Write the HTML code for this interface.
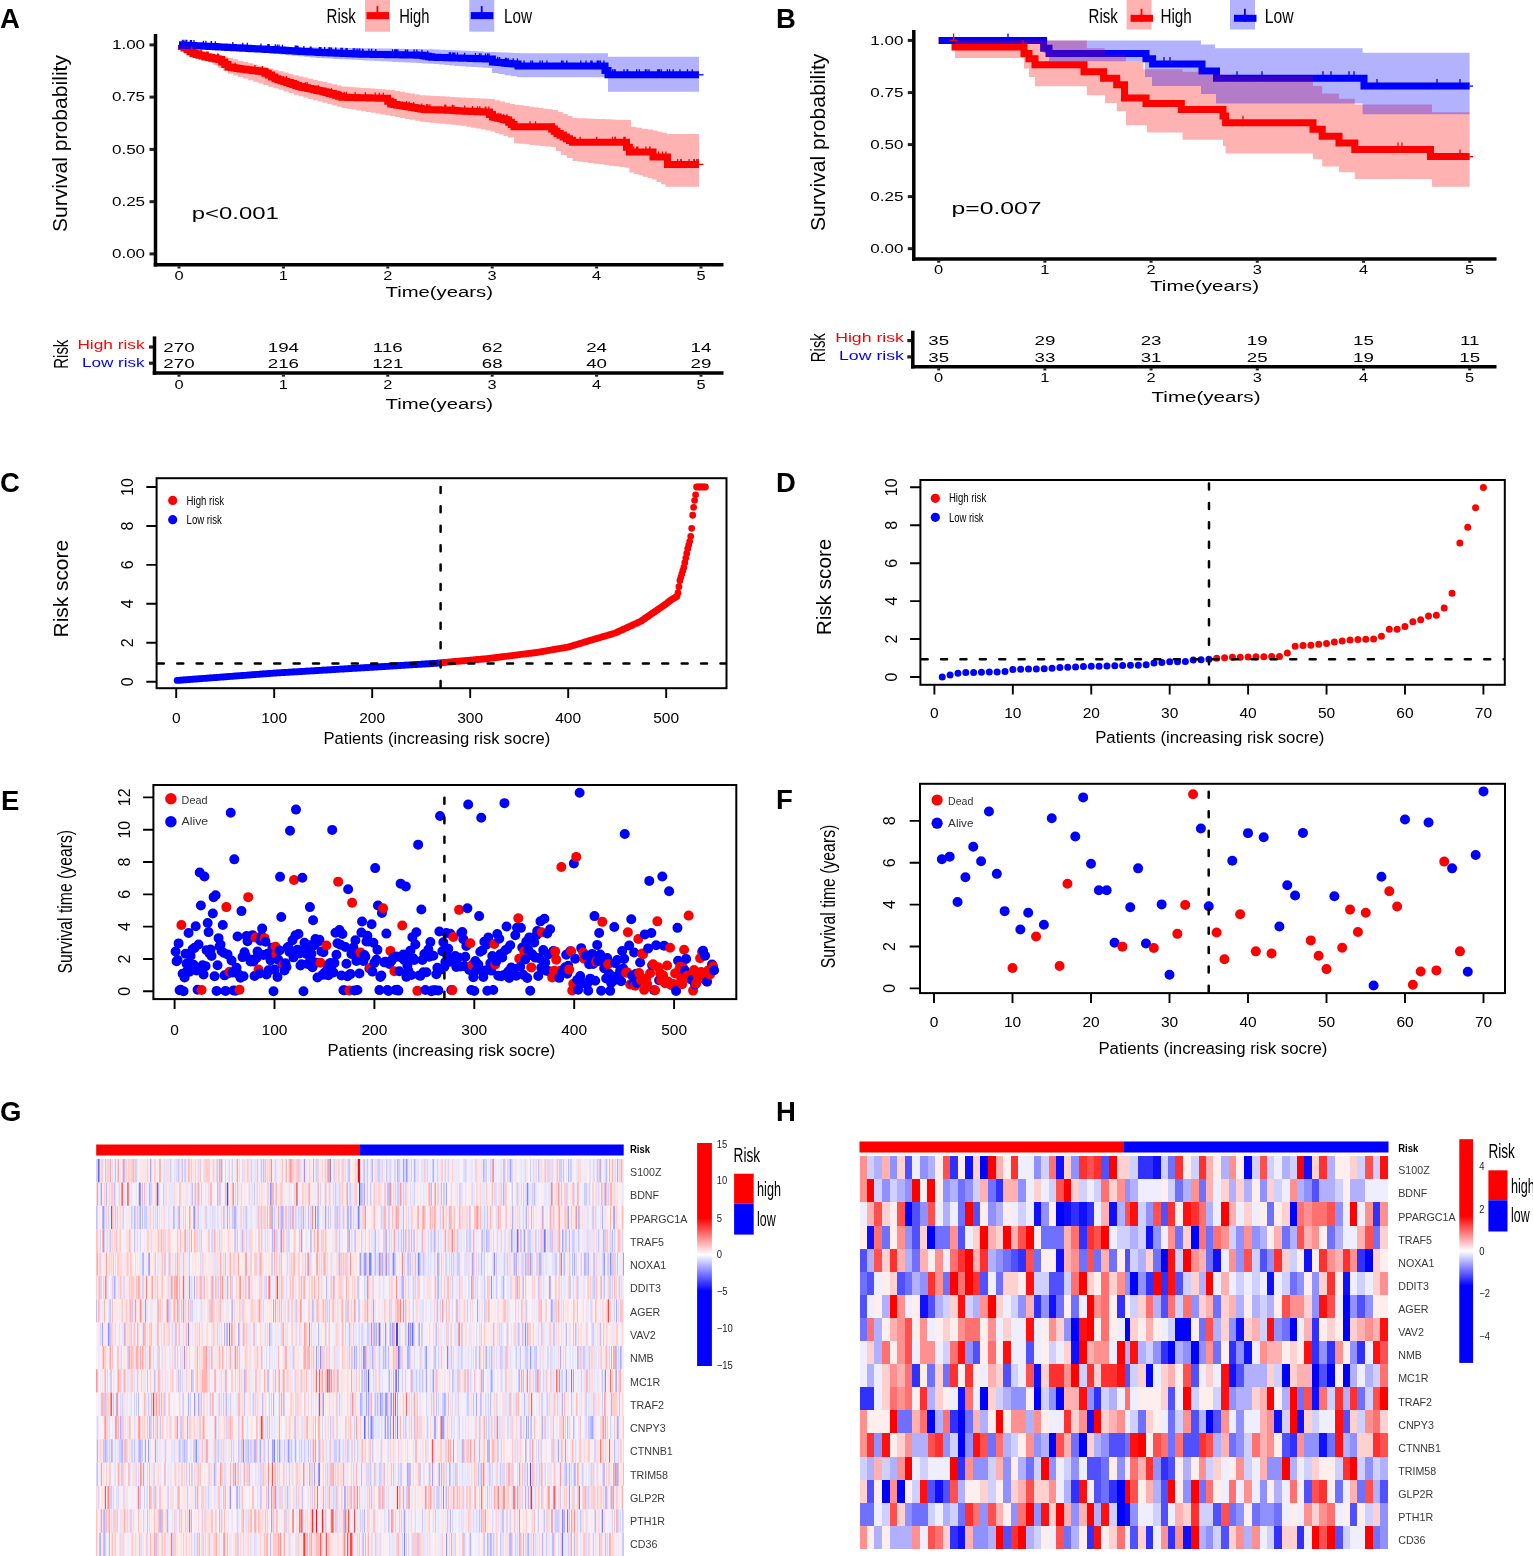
<!DOCTYPE html>
<html lang="en"><head><meta charset="utf-8"><title>Figure</title>
<style>html,body{margin:0;padding:0;background:#fff}svg{display:block}text{font-family:"Liberation Sans",sans-serif}</style>
</head><body>
<svg width="1533" height="1556" viewBox="0 0 1533 1556" font-family='"Liberation Sans", sans-serif'>
<text font-weight="bold" font-size="27.5" x="0" y="27.6">A</text>
<text textLength="29.3" lengthAdjust="spacingAndGlyphs" font-size="19.5" x="326.5" y="22.5">Risk</text>
<rect x="365" y="0" width="25" height="31.7" fill="#ff0000" fill-opacity="0.3"/>
<rect x="366.5" y="12.1" width="22.5" height="7" fill="#ff0000" />
<rect x="376.5" y="6.1" width="1.8" height="13" fill="#ff0000" />
<text textLength="30.3" lengthAdjust="spacingAndGlyphs" font-size="19.5" x="399.2" y="22.5">High</text>
<rect x="469.3" y="0" width="25" height="31.7" fill="#0000ff" fill-opacity="0.3"/>
<rect x="470.8" y="12.1" width="22.5" height="7" fill="#0000ff" />
<rect x="480.8" y="6.1" width="1.8" height="13" fill="#0000ff" />
<text textLength="28" lengthAdjust="spacingAndGlyphs" font-size="19.5" x="504" y="22.5">Low</text>
<path d="M179 45L181.5 45L181.5 46.5L184 46.5L184 48L187 48L187 49.83L190 49.83L190 51.67L193 51.67L193 53.5L196 53.5L196 54.38L199 54.38L199 55.25L202 55.25L202 56.12L205 56.12L205 57L208.38 57L208.38 57.62L211.75 57.62L211.75 58.25L215.12 58.25L215.12 58.88L218.5 58.88L218.5 59.5L221.67 59.5L221.67 62L224.83 62L224.83 64.5L228 64.5L228 67L231 67L231 67.5L234 67.5L234 68L237 68L237 68.5L240 68.5L240 69L243.07 69L243.07 69.36L246.14 69.36L246.14 69.71L249.21 69.71L249.21 70.07L252.29 70.07L252.29 70.43L255.36 70.43L255.36 70.79L258.43 70.79L258.43 71.14L261.5 71.14L261.5 71.5L264.88 71.5L264.88 73.3L268.25 73.3L268.25 75.1L271.62 75.1L271.62 76.9L275 76.9L275 78.7L277.96 78.7L277.96 79.67L280.93 79.67L280.93 80.65L283.89 80.65L283.89 81.62L286.85 81.62L286.85 82.6L289.81 82.6L289.81 83.58L292.77 83.58L292.77 84.55L295.74 84.55L295.74 85.53L298.7 85.53L298.7 86.5L301.73 86.5L301.73 87.16L304.77 87.16L304.77 87.81L307.8 87.81L307.8 88.47L310.83 88.47L310.83 89.12L313.87 89.12L313.87 89.78L316.9 89.78L316.9 90.43L319.93 90.43L319.93 91.09L322.97 91.09L322.97 91.74L326 91.74L326 92.4L329.16 92.4L329.16 93.38L332.32 93.38L332.32 94.36L335.48 94.36L335.48 95.34L338.64 95.34L338.64 96.32L341.8 96.32L341.8 97.3L344.87 97.3L344.87 97.37L347.94 97.37L347.94 97.44L351.01 97.44L351.01 97.51L354.09 97.51L354.09 97.59L357.16 97.59L357.16 97.66L360.23 97.66L360.23 97.73L363.3 97.73L363.3 97.8L366.37 97.8L366.37 97.87L369.44 97.87L369.44 97.94L372.51 97.94L372.51 98.01L375.59 98.01L375.59 98.09L378.66 98.09L378.66 98.16L381.73 98.16L381.73 98.23L384.8 98.23L384.8 98.3L387.75 98.3L387.75 101.15L390.7 101.15L390.7 104L393.73 104L393.73 104.51L396.75 104.51L396.75 105.02L399.78 105.02L399.78 105.53L402.81 105.53L402.81 106.04L405.84 106.04L405.84 106.55L408.86 106.55L408.86 107.05L411.89 107.05L411.89 107.56L414.92 107.56L414.92 108.07L417.95 108.07L417.95 108.58L420.97 108.58L420.97 109.09L424 109.09L424 109.6L426.89 109.6L426.89 109.67L429.78 109.67L429.78 109.73L432.67 109.73L432.67 109.8L435.56 109.8L435.56 109.87L438.44 109.87L438.44 109.93L441.33 109.93L441.33 110L444.22 110L444.22 110.07L447.11 110.07L447.11 110.13L450 110.13L450 110.2L453 110.2L453 110.47L456 110.47L456 110.73L459 110.73L459 111L462.06 111L462.06 111.11L465.11 111.11L465.11 111.22L468.17 111.22L468.17 111.33L471.22 111.33L471.22 111.44L474.28 111.44L474.28 111.56L477.33 111.56L477.33 111.67L480.39 111.67L480.39 111.78L483.44 111.78L483.44 111.89L486.5 111.89L486.5 112L489.45 112L489.45 114.5L492.4 114.5L492.4 117L495.12 117L495.12 117.6L497.84 117.6L497.84 118.2L500.56 118.2L500.56 118.8L503.28 118.8L503.28 119.4L506 119.4L506 120L508.67 120L508.67 122.23L511.33 122.23L511.33 124.47L514 124.47L514 126.7L549 126.7L549 126.7L551.67 126.7L551.67 128.97L554.33 128.97L554.33 131.23L557 131.23L557 133.5L560.12 133.5L560.12 135.26L563.24 135.26L563.24 137.02L566.36 137.02L566.36 138.78L569.48 138.78L569.48 140.54L572.6 140.54L572.6 142.3L623.5 142.3L623.5 142.3L626.45 142.3L626.45 147.15L629.4 147.15L629.4 152L649 152L649 152L653 152L653 157L664.6 157L664.6 157L667.5 157L667.5 164.4L699 164.4L699 164.4" fill="none" stroke="#ff0000" stroke-width="7" stroke-linejoin="miter"/>
<path d="M179 45L182 45L182 45.14L185 45.14L185 45.29L188 45.29L188 45.43L191 45.43L191 45.57L194 45.57L194 45.71L197 45.71L197 45.86L200 45.86L200 46L203.05 46L203.05 46.15L206.09 46.15L206.09 46.31L209.14 46.31L209.14 46.46L212.18 46.46L212.18 46.62L215.23 46.62L215.23 46.77L218.27 46.77L218.27 46.93L221.32 46.93L221.32 47.08L224.36 47.08L224.36 47.24L227.41 47.24L227.41 47.39L230.45 47.39L230.45 47.55L233.5 47.55L233.5 47.7L236.55 47.7L236.55 47.85L239.59 47.85L239.59 48.01L242.64 48.01L242.64 48.16L245.68 48.16L245.68 48.32L248.73 48.32L248.73 48.47L251.77 48.47L251.77 48.63L254.82 48.63L254.82 48.78L257.86 48.78L257.86 48.94L260.91 48.94L260.91 49.09L263.95 49.09L263.95 49.25L267 49.25L267 49.4L270.06 49.4L270.06 49.58L273.12 49.58L273.12 49.76L276.19 49.76L276.19 49.94L279.25 49.94L279.25 50.12L282.31 50.12L282.31 50.31L285.38 50.31L285.38 50.49L288.44 50.49L288.44 50.67L291.5 50.67L291.5 50.85L294.56 50.85L294.56 51.03L297.62 51.03L297.62 51.21L300.69 51.21L300.69 51.39L303.75 51.39L303.75 51.57L306.81 51.57L306.81 51.76L309.88 51.76L309.88 51.94L312.94 51.94L312.94 52.12L316 52.12L316 52.3L319 52.3L319 52.43L322 52.43L322 52.55L325 52.55L325 52.68L328 52.68L328 52.81L331 52.81L331 52.93L334 52.93L334 53.06L337 53.06L337 53.19L340 53.19L340 53.31L343 53.31L343 53.44L346 53.44L346 53.57L349 53.57L349 53.69L352 53.69L352 53.82L355 53.82L355 53.95L358 53.95L358 54.07L361 54.07L361 54.2L363.95 54.2L363.95 54.25L366.9 54.25L366.9 54.3L369.85 54.3L369.85 54.35L372.8 54.35L372.8 54.4L375.75 54.4L375.75 54.45L378.7 54.45L378.7 54.5L381.65 54.5L381.65 54.55L384.6 54.55L384.6 54.6L387.55 54.6L387.55 54.65L390.5 54.65L390.5 54.7L393.45 54.7L393.45 54.75L396.4 54.75L396.4 54.8L399.35 54.8L399.35 54.85L402.3 54.85L402.3 54.9L405.25 54.9L405.25 54.95L408.2 54.95L408.2 55L411.15 55L411.15 55.05L414.1 55.05L414.1 55.1L417.05 55.1L417.05 55.15L420 55.15L420 55.2L422.93 55.2L422.93 55.7L425.85 55.7L425.85 56.2L428.77 56.2L428.77 56.7L431.7 56.7L431.7 57.2L434.61 57.2L434.61 57.3L437.52 57.3L437.52 57.4L440.44 57.4L440.44 57.5L443.35 57.5L443.35 57.6L446.26 57.6L446.26 57.7L449.18 57.7L449.18 57.8L452.09 57.8L452.09 57.9L455 57.9L455 58L458.05 58L458.05 58.09L461.09 58.09L461.09 58.18L464.14 58.18L464.14 58.27L467.18 58.27L467.18 58.36L470.23 58.36L470.23 58.45L473.27 58.45L473.27 58.55L476.32 58.55L476.32 58.64L479.36 58.64L479.36 58.73L482.41 58.73L482.41 58.82L485.45 58.82L485.45 58.91L488.5 58.91L488.5 59L492.4 59L492.4 62L495.49 62L495.49 62.29L498.57 62.29L498.57 62.57L501.66 62.57L501.66 62.86L504.74 62.86L504.74 63.14L507.83 63.14L507.83 63.43L510.91 63.43L510.91 63.71L514 63.71L514 64L518 64L518 66L602 66L602 66L605 66L605 70.4L608 70.4L608 74.8L699 74.8L699 74.8" fill="none" stroke="#0000ff" stroke-width="7" stroke-linejoin="miter"/>
<path d="M191.77 46.17v5.5M200.94 49.75v5.5M201.13 49.75v5.5M206.81 51.5v5.5M207.71 51.5v5.5M208.1 51.5v5.5M217.62 53.38v5.5M217.91 53.38v5.5M218.68 54v5.5M224.56 56.5v5.5M230.5 61.5v5.5M235.09 62.5v5.5M254.89 64.93v5.5M262.42 66v5.5M262.49 66v5.5M265.29 67.8v5.5M268.83 69.6v5.5M286.46 76.12v5.5M293.52 79.05v5.5M296.53 80.03v5.5M305.45 82.31v5.5M307.14 82.31v5.5M307.31 82.31v5.5M318.31 84.93v5.5M331.47 87.88v5.5M336.06 89.84v5.5M339.73 90.82v5.5M339.76 90.82v5.5M339.85 90.82v5.5M344.17 91.8v5.5M346.31 91.87v5.5M355.11 92.09v5.5M365.37 92.3v5.5M375.16 92.51v5.5M379.18 92.66v5.5M383.34 92.73v5.5M388.01 95.65v5.5M394.68 99.01v5.5M395.98 99.01v5.5M406.63 101.05v5.5M409.19 101.55v5.5M413.54 102.06v5.5M421.65 103.59v5.5M426.72 104.1v5.5M427.99 104.17v5.5M429.85 104.23v5.5M444.79 104.57v5.5M445.61 104.57v5.5M445.72 104.57v5.5M452.32 104.7v5.5M453.92 104.97v5.5M464.73 105.61v5.5M472.46 105.94v5.5M477.52 106.17v5.5M479.8 106.17v5.5M485.31 106.39v5.5M485.73 106.39v5.5M488.83 106.5v5.5M491.16 109v5.5M493.28 111.5v5.5M495.41 112.1v5.5M498.78 112.7v5.5M500.87 113.3v5.5M503.74 113.9v5.5M506.62 114.5v5.5M507.1 114.5v5.5M511.32 116.73v5.5M513.48 118.97v5.5M515.96 121.2v5.5M530.03 121.2v5.5M530.11 121.2v5.5M535.54 121.2v5.5M551.9 123.47v5.5M552.06 123.47v5.5M554.28 123.47v5.5M554.48 125.73v5.5M555.24 125.73v5.5M566 131.52v5.5M574.73 136.8v5.5M580.16 136.8v5.5M596.51 136.8v5.5M596.67 136.8v5.5M612.45 136.8v5.5M614.94 136.8v5.5M615.46 136.8v5.5M623.93 136.8v5.5M625.19 136.8v5.5M627.37 141.65v5.5M629.88 146.5v5.5M631.04 146.5v5.5M631.18 146.5v5.5M633.6 146.5v5.5M636.71 146.5v5.5M636.74 146.5v5.5M637.79 146.5v5.5M645.88 146.5v5.5M649.76 146.5v5.5M650.01 146.5v5.5M658.44 151.5v5.5M662.48 151.5v5.5M665.89 151.5v5.5M668.48 158.9v5.5M677.75 158.9v5.5M680.82 158.9v5.5M681.26 158.9v5.5M689.05 158.9v5.5M693.76 158.9v5.5M694.37 158.9v5.5M696.76 158.9v5.5M698.23 158.9v5.5" stroke="#ff0000" stroke-width="1.3" fill="none"/>
<path d="M182.42 39.64v5.5M183.89 39.64v5.5M185.95 39.79v5.5M186.82 39.79v5.5M190.41 39.93v5.5M191.51 40.07v5.5M193.97 40.07v5.5M203.39 40.65v5.5M205.91 40.65v5.5M211.18 40.96v5.5M211.44 40.96v5.5M215.33 41.27v5.5M232.86 42.05v5.5M242.76 42.66v5.5M247.31 42.82v5.5M260.96 43.59v5.5M267.86 43.9v5.5M268.91 43.9v5.5M269.18 43.9v5.5M275.28 44.26v5.5M277.26 44.44v5.5M279.03 44.44v5.5M282.42 44.81v5.5M295.27 45.53v5.5M295.5 45.53v5.5M296.79 45.53v5.5M298.06 45.71v5.5M303.88 46.07v5.5M310.33 46.44v5.5M311.03 46.44v5.5M319.4 46.93v5.5M320.74 46.93v5.5M320.86 46.93v5.5M324.59 47.05v5.5M328.96 47.31v5.5M330.01 47.31v5.5M331.52 47.43v5.5M335.64 47.56v5.5M335.91 47.56v5.5M340.9 47.81v5.5M342.28 47.81v5.5M346.09 48.07v5.5M347.1 48.07v5.5M353.22 48.32v5.5M354.75 48.32v5.5M357.01 48.45v5.5M357.16 48.45v5.5M359.2 48.57v5.5M359.76 48.57v5.5M362.61 48.7v5.5M362.99 48.7v5.5M368.89 48.8v5.5M371.59 48.85v5.5M375.75 48.9v5.5M392.54 49.2v5.5M394.74 49.25v5.5M395.49 49.25v5.5M396.37 49.25v5.5M397.86 49.3v5.5M405.43 49.45v5.5M405.89 49.45v5.5M407.55 49.45v5.5M414.12 49.6v5.5M416.83 49.6v5.5M421.98 49.7v5.5M427.67 50.7v5.5M449.37 52.3v5.5M450.47 52.3v5.5M452.46 52.4v5.5M453.65 52.4v5.5M454.88 52.4v5.5M457.48 52.5v5.5M464.64 52.77v5.5M475.44 53.05v5.5M479.44 53.23v5.5M481 53.23v5.5M485.52 53.41v5.5M487.6 53.41v5.5M489.13 53.5v5.5M497.71 56.79v5.5M499.6 57.07v5.5M505.59 57.64v5.5M506.25 57.64v5.5M508.1 57.93v5.5M513.17 58.21v5.5M517.47 58.5v5.5M524.04 60.5v5.5M524.09 60.5v5.5M530.85 60.5v5.5M532.55 60.5v5.5M540.03 60.5v5.5M542.3 60.5v5.5M546.91 60.5v5.5M561.55 60.5v5.5M563.04 60.5v5.5M566.81 60.5v5.5M566.93 60.5v5.5M580.81 60.5v5.5M586.03 60.5v5.5M590.88 60.5v5.5M592.01 60.5v5.5M597.18 60.5v5.5M598.34 60.5v5.5M598.45 60.5v5.5M598.72 60.5v5.5M598.95 60.5v5.5M600.49 60.5v5.5M603.92 60.5v5.5M607.4 64.9v5.5M612.61 69.3v5.5M614.25 69.3v5.5M615.17 69.3v5.5M624.02 69.3v5.5M627.2 69.3v5.5M627.67 69.3v5.5M636.71 69.3v5.5M639.26 69.3v5.5M645.32 69.3v5.5M646.93 69.3v5.5M648.97 69.3v5.5M657.8 69.3v5.5M658.4 69.3v5.5M659.48 69.3v5.5M661.31 69.3v5.5M667.36 69.3v5.5M669.56 69.3v5.5M673.13 69.3v5.5M679.96 69.3v5.5M687.48 69.3v5.5M692.21 69.3v5.5" stroke="#0000ff" stroke-width="1.3" fill="none"/>
<path d="M699 164.4L703.5 164.4" stroke="#ff0000" stroke-width="1.3" fill="none" />
<path d="M699 74.8L703.5 74.8" stroke="#0000ff" stroke-width="1.3" fill="none" />
<path d="M179 45L183.9 45L183.9 46.3L188.8 46.3L188.8 47.6L193.7 47.6L193.7 48.9L198.6 48.9L198.6 50.2L203.5 50.2L203.5 51.5L208.4 51.5L208.4 52.8L213.3 52.8L213.3 54.1L218.2 54.1L218.2 55.4L223.1 55.4L223.1 56.7L228 56.7L228 58L233.05 58L233.05 59.32L238.1 59.32L238.1 60.64L243.15 60.64L243.15 61.96L248.2 61.96L248.2 63.29L253.25 63.29L253.25 64.61L258.3 64.61L258.3 65.93L263.35 65.93L263.35 67.25L268.4 67.25L268.4 68.57L273.45 68.57L273.45 69.89L278.5 69.89L278.5 71.21L283.55 71.21L283.55 72.54L288.6 72.54L288.6 73.86L293.65 73.86L293.65 75.18L298.7 75.18L298.7 76.5L303.49 76.5L303.49 77.61L308.28 77.61L308.28 78.72L313.07 78.72L313.07 79.83L317.86 79.83L317.86 80.94L322.64 80.94L322.64 82.06L327.43 82.06L327.43 83.17L332.22 83.17L332.22 84.28L337.01 84.28L337.01 85.39L341.8 85.39L341.8 86.5L346.62 86.5L346.62 86.85L351.44 86.85L351.44 87.2L356.26 87.2L356.26 87.55L361.08 87.55L361.08 87.9L365.9 87.9L365.9 88.25L370.72 88.25L370.72 88.6L375.54 88.6L375.54 88.95L380.36 88.95L380.36 89.3L385.18 89.3L385.18 89.65L390 89.65L390 90L395 90L395 90.88L400 90.88L400 91.77L405 91.77L405 92.65L410 92.65L410 93.53L415 93.53L415 94.42L420 94.42L420 95.3L425 95.3L425 95.56L430 95.56L430 95.83L435 95.83L435 96.09L440 96.09L440 96.36L445 96.36L445 96.62L450 96.62L450 96.89L455 96.89L455 97.15L460 97.15L460 97.41L465 97.41L465 97.68L470 97.68L470 97.94L475 97.94L475 98.21L480 98.21L480 98.47L485 98.47L485 98.74L490 98.74L490 99L495 99L495 100.25L500 100.25L500 101.5L505 101.5L505 102.75L510 102.75L510 104L514.78 104L514.78 104.67L519.56 104.67L519.56 105.33L524.33 105.33L524.33 106L529.11 106L529.11 106.67L533.89 106.67L533.89 107.33L538.67 107.33L538.67 108L543.44 108L543.44 108.67L548.22 108.67L548.22 109.33L553 109.33L553 110L557.9 110L557.9 112L562.8 112L562.8 114L567.7 114L567.7 116L572.6 116L572.6 118L577.41 118L577.41 118.18L582.22 118.18L582.22 118.36L587.03 118.36L587.03 118.55L591.84 118.55L591.84 118.73L596.65 118.73L596.65 118.91L601.45 118.91L601.45 119.09L606.26 119.09L606.26 119.27L611.07 119.27L611.07 119.45L615.88 119.45L615.88 119.64L620.69 119.64L620.69 119.82L625.5 119.82L625.5 120L631 120L631 126.7L636.5 126.7L636.5 127.67L642 127.67L642 128.65L647.5 128.65L647.5 129.62L653 129.62L653 130.6L657.67 130.6L657.67 131.73L662.33 131.73L662.33 132.87L667 132.87L667 134L699 134L699 134L699 186.7L699 186.7L665.6 186.7L665.6 184.3L661.07 184.3L661.07 181.9L656.53 181.9L656.53 179.5L652 179.5L652 178.12L647.48 178.12L647.48 176.74L642.96 176.74L642.96 175.36L638.44 175.36L638.44 173.98L633.92 173.98L633.92 172.6L629.4 172.6L629.4 167.7L624.5 167.7L624.5 167.03L619.31 167.03L619.31 166.36L614.12 166.36L614.12 165.69L608.93 165.69L608.93 165.02L603.74 165.02L603.74 164.35L598.55 164.35L598.55 163.68L593.36 163.68L593.36 163.01L588.17 163.01L588.17 162.34L582.98 162.34L582.98 161.67L577.79 161.67L577.79 161L572.6 161L572.6 158L566.8 158L566.8 155L561 155L561 151L556 151L556 147L551 147L551 146.47L545.71 146.47L545.71 145.94L540.43 145.94L540.43 145.41L535.14 145.41L535.14 144.89L529.86 144.89L529.86 144.36L524.57 144.36L524.57 143.83L519.29 143.83L519.29 143.3L514 143.3L514 137.4L508 137.4L508 135.93L503.62 135.93L503.62 134.45L499.25 134.45L499.25 132.97L494.88 132.97L494.88 131.5L490.5 131.5L490.5 130.53L485.58 130.53L485.58 129.57L480.67 129.57L480.67 128.6L475.75 128.6L475.75 127.63L470.83 127.63L470.83 126.67L465.92 126.67L465.92 125.7L461 125.7L461 125.21L455.88 125.21L455.88 124.72L450.75 124.72L450.75 124.24L445.62 124.24L445.62 123.75L440.5 123.75L440.5 123.26L435.38 123.26L435.38 122.78L430.25 122.78L430.25 122.29L425.12 122.29L425.12 121.8L420 121.8L420 120.83L415 120.83L415 119.87L410 119.87L410 118.9L405 118.9L405 117.93L400 117.93L400 116.97L395 116.97L395 116L390 116L390 115.2L385.18 115.2L385.18 114.4L380.36 114.4L380.36 113.6L375.54 113.6L375.54 112.8L370.72 112.8L370.72 112L365.9 112L365.9 111.2L361.08 111.2L361.08 110.4L356.26 110.4L356.26 109.6L351.44 109.6L351.44 108.8L346.62 108.8L346.62 108L341.8 108L341.8 106.7L337.01 106.7L337.01 105.4L332.22 105.4L332.22 104.1L327.43 104.1L327.43 102.8L322.64 102.8L322.64 101.5L317.86 101.5L317.86 100.2L313.07 100.2L313.07 98.9L308.28 98.9L308.28 97.6L303.49 97.6L303.49 96.3L298.7 96.3L298.7 94.69L293.65 94.69L293.65 93.09L288.6 93.09L288.6 91.48L283.55 91.48L283.55 89.87L278.5 89.87L278.5 88.26L273.45 88.26L273.45 86.66L268.4 86.66L268.4 85.05L263.35 85.05L263.35 83.44L258.3 83.44L258.3 81.84L253.25 81.84L253.25 80.23L248.2 80.23L248.2 78.62L243.15 78.62L243.15 77.01L238.1 77.01L238.1 75.41L233.05 75.41L233.05 73.8L228 73.8L228 70.92L223.1 70.92L223.1 68.04L218.2 68.04L218.2 65.16L213.3 65.16L213.3 62.28L208.4 62.28L208.4 59.4L203.5 59.4L203.5 56.52L198.6 56.52L198.6 53.64L193.7 53.64L193.7 50.76L188.8 50.76L188.8 47.88L183.9 47.88L183.9 45L179 45Z" fill="#ff0000" fill-opacity="0.3"/>
<path d="M179 45L184.96 45L184.96 45.1L190.91 45.1L190.91 45.21L196.87 45.21L196.87 45.31L202.83 45.31L202.83 45.42L208.78 45.42L208.78 45.52L214.74 45.52L214.74 45.63L220.7 45.63L220.7 45.73L226.65 45.73L226.65 45.83L232.61 45.83L232.61 45.94L238.57 45.94L238.57 46.04L244.52 46.04L244.52 46.15L250.48 46.15L250.48 46.25L256.43 46.25L256.43 46.36L262.39 46.36L262.39 46.46L268.35 46.46L268.35 46.57L274.3 46.57L274.3 46.67L280.26 46.67L280.26 46.77L286.22 46.77L286.22 46.88L292.17 46.88L292.17 46.98L298.13 46.98L298.13 47.09L304.09 47.09L304.09 47.19L310.04 47.19L310.04 47.3L316 47.3L316 47.4L321.89 47.4L321.89 47.5L327.78 47.5L327.78 47.6L333.67 47.6L333.67 47.7L339.56 47.7L339.56 47.8L345.45 47.8L345.45 47.9L351.34 47.9L351.34 48L357.23 48L357.23 48.1L363.12 48.1L363.12 48.2L369.01 48.2L369.01 48.3L374.9 48.3L374.9 48.4L380.79 48.4L380.79 48.5L386.68 48.5L386.68 48.6L392.57 48.6L392.57 48.7L398.46 48.7L398.46 48.8L404.35 48.8L404.35 48.9L410.24 48.9L410.24 49L416.13 49L416.13 49.1L422.02 49.1L422.02 49.2L427.91 49.2L427.91 49.3L433.8 49.3L433.8 49.4L439.96 49.4L439.96 49.68L446.11 49.68L446.11 49.96L452.27 49.96L452.27 50.24L458.43 50.24L458.43 50.51L464.59 50.51L464.59 50.79L470.74 50.79L470.74 51.07L476.9 51.07L476.9 51.35L483.06 51.35L483.06 51.63L489.21 51.63L489.21 51.91L495.37 51.91L495.37 52.19L501.53 52.19L501.53 52.46L507.69 52.46L507.69 52.74L513.84 52.74L513.84 53.02L520 53.02L520 53.3L602 53.3L602 53.3L608 53.3L608 56.8L699 56.8L699 56.8L699 91.8L699 91.8L608 91.8L608 77.3L602 77.3L602 77.3L517 77.3L517 76.22L510.75 76.22L510.75 75.15L504.5 75.15L504.5 74.08L498.25 74.08L498.25 73L492 73L492 68L488 68L488 67.67L482.5 67.67L482.5 67.33L477 67.33L477 67L471.5 67L471.5 66.67L466 66.67L466 66.33L460.5 66.33L460.5 66L455 66L455 65.5L449.7 65.5L449.7 65L444.4 65L444.4 64.5L439.1 64.5L439.1 64L433.8 64L433.8 63.7L427.91 63.7L427.91 63.4L422.02 63.4L422.02 63.1L416.13 63.1L416.13 62.8L410.24 62.8L410.24 62.5L404.35 62.5L404.35 62.2L398.46 62.2L398.46 61.9L392.57 61.9L392.57 61.6L386.68 61.6L386.68 61.3L380.79 61.3L380.79 61L374.9 61L374.9 60.7L369.01 60.7L369.01 60.4L363.12 60.4L363.12 60.1L357.23 60.1L357.23 59.8L351.34 59.8L351.34 59.5L345.45 59.5L345.45 59.2L339.56 59.2L339.56 58.9L333.67 58.9L333.67 58.6L327.78 58.6L327.78 58.3L321.89 58.3L321.89 58L316 58L316 57.43L310.04 57.43L310.04 56.87L304.09 56.87L304.09 56.3L298.13 56.3L298.13 55.74L292.17 55.74L292.17 55.17L286.22 55.17L286.22 54.61L280.26 54.61L280.26 54.04L274.3 54.04L274.3 53.48L268.35 53.48L268.35 52.91L262.39 52.91L262.39 52.35L256.43 52.35L256.43 51.78L250.48 51.78L250.48 51.22L244.52 51.22L244.52 50.65L238.57 50.65L238.57 50.09L232.61 50.09L232.61 49.52L226.65 49.52L226.65 48.96L220.7 48.96L220.7 48.39L214.74 48.39L214.74 47.83L208.78 47.83L208.78 47.26L202.83 47.26L202.83 46.7L196.87 46.7L196.87 46.13L190.91 46.13L190.91 45.57L184.96 45.57L184.96 45L179 45Z" fill="#0000ff" fill-opacity="0.3"/>
<path d="M155.5 34L155.5 266.55" stroke="#000" stroke-width="3.5" fill="none" />
<path d="M153.75 264.8L723.5 264.8" stroke="#000" stroke-width="3.5" fill="none" />
<rect x="149.5" y="43.4" width="4.5" height="3" fill="#222" />
<text text-anchor="end" textLength="33.16" lengthAdjust="spacingAndGlyphs" font-size="12" x="145.1" y="49.2">1.00</text>
<rect x="149.5" y="95.6" width="4.5" height="3" fill="#222" />
<text text-anchor="end" textLength="33.16" lengthAdjust="spacingAndGlyphs" font-size="12" x="145.1" y="101.4">0.75</text>
<rect x="149.5" y="147.9" width="4.5" height="3" fill="#222" />
<text text-anchor="end" textLength="33.16" lengthAdjust="spacingAndGlyphs" font-size="12" x="145.1" y="153.7">0.50</text>
<rect x="149.5" y="200.2" width="4.5" height="3" fill="#222" />
<text text-anchor="end" textLength="33.16" lengthAdjust="spacingAndGlyphs" font-size="12" x="145.1" y="206">0.25</text>
<rect x="149.5" y="252.4" width="4.5" height="3" fill="#222" />
<text text-anchor="end" textLength="33.16" lengthAdjust="spacingAndGlyphs" font-size="12" x="145.1" y="258.2">0.00</text>
<rect x="177.5" y="266.3" width="3" height="2.2" fill="#222" />
<text text-anchor="middle" textLength="9.14" lengthAdjust="spacingAndGlyphs" font-size="12" x="179" y="280.3">0</text>
<rect x="281.9" y="266.3" width="3" height="2.2" fill="#222" />
<text text-anchor="middle" textLength="9.14" lengthAdjust="spacingAndGlyphs" font-size="12" x="283.4" y="280.3">1</text>
<rect x="386.3" y="266.3" width="3" height="2.2" fill="#222" />
<text text-anchor="middle" textLength="9.14" lengthAdjust="spacingAndGlyphs" font-size="12" x="387.8" y="280.3">2</text>
<rect x="490.7" y="266.3" width="3" height="2.2" fill="#222" />
<text text-anchor="middle" textLength="9.14" lengthAdjust="spacingAndGlyphs" font-size="12" x="492.2" y="280.3">3</text>
<rect x="595.1" y="266.3" width="3" height="2.2" fill="#222" />
<text text-anchor="middle" textLength="9.14" lengthAdjust="spacingAndGlyphs" font-size="12" x="596.6" y="280.3">4</text>
<rect x="699.5" y="266.3" width="3" height="2.2" fill="#222" />
<text text-anchor="middle" textLength="9.14" lengthAdjust="spacingAndGlyphs" font-size="12" x="701" y="280.3">5</text>
<text textLength="107.5" lengthAdjust="spacingAndGlyphs" font-size="15.4" x="385.5" y="296.8">Time(years)</text>
<text text-anchor="middle" textLength="177" lengthAdjust="spacingAndGlyphs" font-size="20" transform="translate(67.3,143.5) rotate(-90)">Survival probability</text>
<text textLength="87" lengthAdjust="spacingAndGlyphs" font-size="17.4" x="191.8" y="218.7">p&lt;0.001</text>
<path d="M154.5 336.4L154.5 374.75" stroke="#000" stroke-width="3.5" fill="none" />
<path d="M152.75 373L723.5 373" stroke="#000" stroke-width="3.5" fill="none" />
<rect x="149" y="345.4" width="4" height="3.2" fill="#222" />
<text text-anchor="middle" textLength="31.23" lengthAdjust="spacingAndGlyphs" font-size="13" x="179" y="351.6">270</text>
<text text-anchor="middle" textLength="31.23" lengthAdjust="spacingAndGlyphs" font-size="13" x="283.4" y="351.6">194</text>
<text text-anchor="middle" textLength="29.84" lengthAdjust="spacingAndGlyphs" font-size="13" x="387.8" y="351.6">116</text>
<text text-anchor="middle" textLength="20.82" lengthAdjust="spacingAndGlyphs" font-size="13" x="492.2" y="351.6">62</text>
<text text-anchor="middle" textLength="20.82" lengthAdjust="spacingAndGlyphs" font-size="13" x="596.6" y="351.6">24</text>
<text text-anchor="middle" textLength="20.82" lengthAdjust="spacingAndGlyphs" font-size="13" x="701" y="351.6">14</text>
<rect x="149" y="361.6" width="4" height="3.2" fill="#222" />
<text text-anchor="middle" textLength="31.23" lengthAdjust="spacingAndGlyphs" font-size="13" x="179" y="367.8">270</text>
<text text-anchor="middle" textLength="31.23" lengthAdjust="spacingAndGlyphs" font-size="13" x="283.4" y="367.8">216</text>
<text text-anchor="middle" textLength="31.23" lengthAdjust="spacingAndGlyphs" font-size="13" x="387.8" y="367.8">121</text>
<text text-anchor="middle" textLength="20.82" lengthAdjust="spacingAndGlyphs" font-size="13" x="492.2" y="367.8">68</text>
<text text-anchor="middle" textLength="20.82" lengthAdjust="spacingAndGlyphs" font-size="13" x="596.6" y="367.8">40</text>
<text text-anchor="middle" textLength="20.82" lengthAdjust="spacingAndGlyphs" font-size="13" x="701" y="367.8">29</text>
<text text-anchor="end" fill="#ff0000" textLength="67.2" lengthAdjust="spacingAndGlyphs" font-size="12.5" x="144.6" y="349">High risk</text>
<text text-anchor="end" fill="#0000ff" textLength="62.7" lengthAdjust="spacingAndGlyphs" font-size="12.5" x="144.6" y="366.7">Low risk</text>
<text text-anchor="middle" textLength="29" lengthAdjust="spacingAndGlyphs" font-size="20" transform="translate(67.7,354.2) rotate(-90)">Risk</text>
<rect x="177.5" y="374.5" width="3" height="2.2" fill="#222" />
<text text-anchor="middle" textLength="9.14" lengthAdjust="spacingAndGlyphs" font-size="12" x="179" y="388.6">0</text>
<rect x="281.9" y="374.5" width="3" height="2.2" fill="#222" />
<text text-anchor="middle" textLength="9.14" lengthAdjust="spacingAndGlyphs" font-size="12" x="283.4" y="388.6">1</text>
<rect x="386.3" y="374.5" width="3" height="2.2" fill="#222" />
<text text-anchor="middle" textLength="9.14" lengthAdjust="spacingAndGlyphs" font-size="12" x="387.8" y="388.6">2</text>
<rect x="490.7" y="374.5" width="3" height="2.2" fill="#222" />
<text text-anchor="middle" textLength="9.14" lengthAdjust="spacingAndGlyphs" font-size="12" x="492.2" y="388.6">3</text>
<rect x="595.1" y="374.5" width="3" height="2.2" fill="#222" />
<text text-anchor="middle" textLength="9.14" lengthAdjust="spacingAndGlyphs" font-size="12" x="596.6" y="388.6">4</text>
<rect x="699.5" y="374.5" width="3" height="2.2" fill="#222" />
<text text-anchor="middle" textLength="9.14" lengthAdjust="spacingAndGlyphs" font-size="12" x="701" y="388.6">5</text>
<text textLength="107.5" lengthAdjust="spacingAndGlyphs" font-size="15.4" x="385.5" y="408.5">Time(years)</text>
<text font-weight="bold" font-size="27.5" x="776" y="27.6">B</text>
<text textLength="29.3" lengthAdjust="spacingAndGlyphs" font-size="19.5" x="1088.5" y="23">Risk</text>
<rect x="1126.6" y="0" width="25" height="29.5" fill="#ff0000" fill-opacity="0.3"/>
<rect x="1130.6" y="14.8" width="22.5" height="7" fill="#ff0000" />
<rect x="1140.6" y="8.8" width="1.8" height="13" fill="#ff0000" />
<text textLength="31.3" lengthAdjust="spacingAndGlyphs" font-size="19.5" x="1160.4" y="23">High</text>
<rect x="1230" y="0" width="25" height="29.5" fill="#0000ff" fill-opacity="0.3"/>
<rect x="1234" y="14.8" width="22.5" height="7" fill="#0000ff" />
<rect x="1244" y="8.8" width="1.8" height="13" fill="#0000ff" />
<text textLength="28.7" lengthAdjust="spacingAndGlyphs" font-size="19.5" x="1264.8" y="23">Low</text>
<path d="M938.7 40.4L955 40.4L955 47L1024 47L1024 53.5L1029 53.5L1029 58.7L1035 58.7L1035 64.7L1084 64.7L1084 71.8L1103.6 71.8L1103.6 78.3L1116.7 78.3L1116.7 84.8L1124.5 84.8L1124.5 97.9L1146 97.9L1146 103.6L1181.3 103.6L1181.3 109.6L1223 109.6L1223 116L1225.6 116L1225.6 122.7L1313 122.7L1313 129.2L1322.2 129.2L1322.2 136.2L1339 136.2L1339 143L1354.8 143L1354.8 149.6L1430.5 149.6L1430.5 156.6L1469.6 156.6" fill="none" stroke="#ff0000" stroke-width="7" stroke-linejoin="miter"/>
<path d="M938.7 40.4L1043.6 40.4L1043.6 48.3L1049 48.3L1049 53.5L1146 53.5L1146 58.7L1152.6 58.7L1152.6 64L1202 64L1202 71L1216.5 71L1216.5 78.3L1364 78.3L1364 86.1L1469.6 86.1" fill="none" stroke="#0000ff" stroke-width="7" stroke-linejoin="miter"/>
<path d="M953.6 33.4v7M1023 40v7M1243 115.7v7M1398 142.6v7M1402 142.6v7M1460 149.6v7" stroke="#ff0000" stroke-width="1.3" fill="none"/>
<path d="M1008 33.4v7M1164 57v7M1170 57v7M1237 71.3v7M1262 71.3v7M1323 71.3v7M1331 71.3v7M1349 71.3v7M1354 71.3v7M1377 79.1v7M1437 79.1v7M1460 79.1v7" stroke="#0000ff" stroke-width="1.3" fill="none"/>
<path d="M1469.6 156.6L1473.1 156.6" stroke="#ff0000" stroke-width="1.3" fill="none" />
<path d="M1469.6 86.1L1473.1 86.1" stroke="#0000ff" stroke-width="1.3" fill="none" />
<path d="M949.6 40.4L957.6 40.4" stroke="#ff0000" stroke-width="1.3" fill="none" />
<path d="M955 40.4L1086.8 40.4L1086.8 48.3L1105 48.3L1105 54.8L1126 54.8L1126 61.3L1143.4 61.3L1143.4 69.2L1182.6 69.2L1182.6 71.8L1201 71.8L1201 74.4L1223 74.4L1223 75.7L1313 75.7L1313 86L1322.2 86L1322.2 93.5L1339 93.5L1339 98.7L1354.8 98.7L1354.8 104.4L1432 104.4L1432 112.2L1469.6 112.2L1469.6 186.7L1432 186.7L1432 178.9L1354.8 178.9L1354.8 172.3L1339 172.3L1339 166.6L1322.2 166.6L1322.2 159.3L1313 159.3L1313 153.5L1225.6 153.5L1225.6 146L1223 146L1223 139.7L1182.6 139.7L1182.6 132.6L1147 132.6L1147 125.3L1126 125.3L1126 111L1116.7 111L1116.7 103L1105 103L1105 95.3L1086.8 95.3L1086.8 86.2L1035 86.2L1035 77L1029 77L1029 68.4L1024 68.4L1024 58L955 58Z" fill="#ff0000" fill-opacity="0.3"/>
<path d="M938.7 40.4L1201 40.4L1201 44.4L1215 44.4L1215 48.3L1362.6 48.3L1362.6 52.7L1469.6 52.7L1469.6 114.3L1362.6 114.3L1362.6 103.6L1216 103.6L1216 94L1201 94L1201 86L1152 86L1152 77L1145 77L1145 61.3L1049 61.3L1049 53L1043.6 53L1043.6 40.4L938.7 40.4Z" fill="#0000ff" fill-opacity="0.3"/>
<path d="M913.8 30L913.8 260.75" stroke="#000" stroke-width="3.5" fill="none" />
<path d="M912.05 259L1496.5 259" stroke="#000" stroke-width="3.5" fill="none" />
<rect x="907.8" y="38.9" width="4.5" height="3" fill="#222" />
<text text-anchor="end" textLength="33.16" lengthAdjust="spacingAndGlyphs" font-size="12" x="903.4" y="44.7">1.00</text>
<rect x="907.8" y="91.1" width="4.5" height="3" fill="#222" />
<text text-anchor="end" textLength="33.16" lengthAdjust="spacingAndGlyphs" font-size="12" x="903.4" y="96.9">0.75</text>
<rect x="907.8" y="143.1" width="4.5" height="3" fill="#222" />
<text text-anchor="end" textLength="33.16" lengthAdjust="spacingAndGlyphs" font-size="12" x="903.4" y="148.9">0.50</text>
<rect x="907.8" y="195.1" width="4.5" height="3" fill="#222" />
<text text-anchor="end" textLength="33.16" lengthAdjust="spacingAndGlyphs" font-size="12" x="903.4" y="200.9">0.25</text>
<rect x="907.8" y="247.2" width="4.5" height="3" fill="#222" />
<text text-anchor="end" textLength="33.16" lengthAdjust="spacingAndGlyphs" font-size="12" x="903.4" y="253">0.00</text>
<rect x="937.2" y="260.5" width="3" height="2.2" fill="#222" />
<text text-anchor="middle" textLength="9.14" lengthAdjust="spacingAndGlyphs" font-size="12" x="938.7" y="274">0</text>
<rect x="1043.4" y="260.5" width="3" height="2.2" fill="#222" />
<text text-anchor="middle" textLength="9.14" lengthAdjust="spacingAndGlyphs" font-size="12" x="1044.9" y="274">1</text>
<rect x="1149.6" y="260.5" width="3" height="2.2" fill="#222" />
<text text-anchor="middle" textLength="9.14" lengthAdjust="spacingAndGlyphs" font-size="12" x="1151.1" y="274">2</text>
<rect x="1255.8" y="260.5" width="3" height="2.2" fill="#222" />
<text text-anchor="middle" textLength="9.14" lengthAdjust="spacingAndGlyphs" font-size="12" x="1257.3" y="274">3</text>
<rect x="1362" y="260.5" width="3" height="2.2" fill="#222" />
<text text-anchor="middle" textLength="9.14" lengthAdjust="spacingAndGlyphs" font-size="12" x="1363.5" y="274">4</text>
<rect x="1468.2" y="260.5" width="3" height="2.2" fill="#222" />
<text text-anchor="middle" textLength="9.14" lengthAdjust="spacingAndGlyphs" font-size="12" x="1469.7" y="274">5</text>
<text textLength="109" lengthAdjust="spacingAndGlyphs" font-size="15.4" x="1150" y="291">Time(years)</text>
<text text-anchor="middle" textLength="177.5" lengthAdjust="spacingAndGlyphs" font-size="20" transform="translate(825,142.3) rotate(-90)">Survival probability</text>
<text textLength="90" lengthAdjust="spacingAndGlyphs" font-size="17.4" x="951.5" y="214">p=0.007</text>
<path d="M912.8 330.7L912.8 368.45" stroke="#000" stroke-width="3.5" fill="none" />
<path d="M911.05 366.7L1496.5 366.7" stroke="#000" stroke-width="3.5" fill="none" />
<rect x="907.3" y="339" width="4" height="3.2" fill="#222" />
<text text-anchor="middle" textLength="20.82" lengthAdjust="spacingAndGlyphs" font-size="13" x="938.7" y="345.2">35</text>
<text text-anchor="middle" textLength="20.82" lengthAdjust="spacingAndGlyphs" font-size="13" x="1044.9" y="345.2">29</text>
<text text-anchor="middle" textLength="20.82" lengthAdjust="spacingAndGlyphs" font-size="13" x="1151.1" y="345.2">23</text>
<text text-anchor="middle" textLength="20.82" lengthAdjust="spacingAndGlyphs" font-size="13" x="1257.3" y="345.2">19</text>
<text text-anchor="middle" textLength="20.82" lengthAdjust="spacingAndGlyphs" font-size="13" x="1363.5" y="345.2">15</text>
<text text-anchor="middle" textLength="19.43" lengthAdjust="spacingAndGlyphs" font-size="13" x="1469.7" y="345.2">11</text>
<rect x="907.3" y="355.3" width="4" height="3.2" fill="#222" />
<text text-anchor="middle" textLength="20.82" lengthAdjust="spacingAndGlyphs" font-size="13" x="938.7" y="361.5">35</text>
<text text-anchor="middle" textLength="20.82" lengthAdjust="spacingAndGlyphs" font-size="13" x="1044.9" y="361.5">33</text>
<text text-anchor="middle" textLength="20.82" lengthAdjust="spacingAndGlyphs" font-size="13" x="1151.1" y="361.5">31</text>
<text text-anchor="middle" textLength="20.82" lengthAdjust="spacingAndGlyphs" font-size="13" x="1257.3" y="361.5">25</text>
<text text-anchor="middle" textLength="20.82" lengthAdjust="spacingAndGlyphs" font-size="13" x="1363.5" y="361.5">19</text>
<text text-anchor="middle" textLength="20.82" lengthAdjust="spacingAndGlyphs" font-size="13" x="1469.7" y="361.5">15</text>
<text text-anchor="end" fill="#ff0000" textLength="68.7" lengthAdjust="spacingAndGlyphs" font-size="12.5" x="903.9" y="342.4">High risk</text>
<text text-anchor="end" fill="#0000ff" textLength="64.9" lengthAdjust="spacingAndGlyphs" font-size="12.5" x="903.9" y="360">Low risk</text>
<text text-anchor="middle" textLength="29" lengthAdjust="spacingAndGlyphs" font-size="20" transform="translate(825,347.7) rotate(-90)">Risk</text>
<rect x="937.2" y="368.2" width="3" height="2.2" fill="#222" />
<text text-anchor="middle" textLength="9.14" lengthAdjust="spacingAndGlyphs" font-size="12" x="938.7" y="381.5">0</text>
<rect x="1043.4" y="368.2" width="3" height="2.2" fill="#222" />
<text text-anchor="middle" textLength="9.14" lengthAdjust="spacingAndGlyphs" font-size="12" x="1044.9" y="381.5">1</text>
<rect x="1149.6" y="368.2" width="3" height="2.2" fill="#222" />
<text text-anchor="middle" textLength="9.14" lengthAdjust="spacingAndGlyphs" font-size="12" x="1151.1" y="381.5">2</text>
<rect x="1255.8" y="368.2" width="3" height="2.2" fill="#222" />
<text text-anchor="middle" textLength="9.14" lengthAdjust="spacingAndGlyphs" font-size="12" x="1257.3" y="381.5">3</text>
<rect x="1362" y="368.2" width="3" height="2.2" fill="#222" />
<text text-anchor="middle" textLength="9.14" lengthAdjust="spacingAndGlyphs" font-size="12" x="1363.5" y="381.5">4</text>
<rect x="1468.2" y="368.2" width="3" height="2.2" fill="#222" />
<text text-anchor="middle" textLength="9.14" lengthAdjust="spacingAndGlyphs" font-size="12" x="1469.7" y="381.5">5</text>
<text textLength="109" lengthAdjust="spacingAndGlyphs" font-size="15.4" x="1151.5" y="401.6">Time(years)</text>
<text font-weight="bold" font-size="27.5" x="0" y="491.6">C</text>
<rect x="156.6" y="478.2" width="569.9" height="210" fill="none" stroke="#000" stroke-width="2"/>
<text text-anchor="middle" font-size="16" transform="translate(133,681.7) rotate(-90)">0</text>
<text text-anchor="middle" font-size="16" transform="translate(133,642.76) rotate(-90)">2</text>
<text text-anchor="middle" font-size="16" transform="translate(133,603.82) rotate(-90)">4</text>
<text text-anchor="middle" font-size="16" transform="translate(133,564.88) rotate(-90)">6</text>
<text text-anchor="middle" font-size="16" transform="translate(133,525.94) rotate(-90)">8</text>
<text text-anchor="middle" font-size="16" transform="translate(133,487) rotate(-90)">10</text>
<text text-anchor="middle" font-size="15.5" x="176.2" y="722.7">0</text>
<text text-anchor="middle" font-size="15.5" x="274.2" y="722.7">100</text>
<text text-anchor="middle" font-size="15.5" x="372.2" y="722.7">200</text>
<text text-anchor="middle" font-size="15.5" x="470.2" y="722.7">300</text>
<text text-anchor="middle" font-size="15.5" x="568.2" y="722.7">400</text>
<text text-anchor="middle" font-size="15.5" x="666.2" y="722.7">500</text>
<path d="M146.3 681.7h10.3M146.3 642.76h10.3M146.3 603.82h10.3M146.3 564.88h10.3M146.3 525.94h10.3M146.3 487h10.3M176.2 688.2v9.8M274.2 688.2v9.8M372.2 688.2v9.8M470.2 688.2v9.8M568.2 688.2v9.8M666.2 688.2v9.8" stroke="#000" stroke-width="1.9" fill="none"/>
<text textLength="226.7" lengthAdjust="spacingAndGlyphs" font-size="16" x="323.5" y="743.5">Patients (increasing risk socre)</text>
<text text-anchor="middle" textLength="97.4" lengthAdjust="spacingAndGlyphs" font-size="21" transform="translate(68.3,588.7) rotate(-90)">Risk score</text>
<path d="M177.18 680.46h0M178.16 680.38h0M179.14 680.31h0M180.12 680.24h0M181.1 680.16h0M182.08 680.09h0M183.06 680.01h0M184.04 679.94h0M185.02 679.87h0M186 679.79h0M186.98 679.72h0M187.96 679.64h0M188.94 679.57h0M189.92 679.5h0M190.9 679.42h0M191.88 679.35h0M192.86 679.27h0M193.84 679.2h0M194.82 679.13h0M195.8 679.05h0M196.78 678.98h0M197.76 678.9h0M198.74 678.83h0M199.72 678.76h0M200.7 678.68h0M201.68 678.61h0M202.66 678.53h0M203.64 678.46h0M204.62 678.39h0M205.6 678.31h0M206.58 678.24h0M207.56 678.16h0M208.54 678.09h0M209.52 678.02h0M210.5 677.94h0M211.48 677.87h0M212.46 677.79h0M213.44 677.72h0M214.42 677.65h0M215.4 677.57h0M216.38 677.5h0M217.36 677.42h0M218.34 677.35h0M219.32 677.28h0M220.3 677.2h0M221.28 677.13h0M222.26 677.05h0M223.24 676.98h0M224.22 676.91h0M225.2 676.83h0M226.18 676.76h0M227.16 676.68h0M228.14 676.61h0M229.12 676.54h0M230.1 676.46h0M231.08 676.39h0M232.06 676.31h0M233.04 676.24h0M234.02 676.17h0M235 676.09h0M235.98 676.02h0M236.96 675.94h0M237.94 675.87h0M238.92 675.8h0M239.9 675.72h0M240.88 675.65h0M241.86 675.57h0M242.84 675.5h0M243.82 675.43h0M244.8 675.35h0M245.78 675.28h0M246.76 675.2h0M247.74 675.13h0M248.72 675.06h0M249.7 674.98h0M250.68 674.91h0M251.66 674.83h0M252.64 674.76h0M253.62 674.69h0M254.6 674.61h0M255.58 674.54h0M256.56 674.46h0M257.54 674.39h0M258.52 674.32h0M259.5 674.24h0M260.48 674.17h0M261.46 674.1h0M262.44 674.02h0M263.42 673.95h0M264.4 673.87h0M265.38 673.8h0M266.36 673.73h0M267.34 673.65h0M268.32 673.58h0M269.3 673.5h0M270.28 673.43h0M271.26 673.36h0M272.24 673.28h0M273.22 673.21h0M274.2 673.13h0M275.18 673.07h0M276.16 673.02h0M277.14 672.96h0M278.12 672.9h0M279.1 672.84h0M280.08 672.78h0M281.06 672.72h0M282.04 672.67h0M283.02 672.61h0M284 672.55h0M284.98 672.49h0M285.96 672.43h0M286.94 672.37h0M287.92 672.32h0M288.9 672.26h0M289.88 672.2h0M290.86 672.14h0M291.84 672.08h0M292.82 672.02h0M293.8 671.97h0M294.78 671.91h0M295.76 671.85h0M296.74 671.79h0M297.72 671.73h0M298.7 671.67h0M299.68 671.61h0M300.66 671.56h0M301.64 671.5h0M302.62 671.44h0M303.6 671.38h0M304.58 671.32h0M305.56 671.26h0M306.54 671.21h0M307.52 671.15h0M308.5 671.09h0M309.48 671.03h0M310.46 670.97h0M311.44 670.91h0M312.42 670.86h0M313.4 670.8h0M314.38 670.74h0M315.36 670.68h0M316.34 670.62h0M317.32 670.56h0M318.3 670.5h0M319.28 670.45h0M320.26 670.39h0M321.24 670.33h0M322.22 670.27h0M323.2 670.21h0M324.18 670.15h0M325.16 670.1h0M326.14 670.04h0M327.12 669.98h0M328.1 669.92h0M329.08 669.86h0M330.06 669.8h0M331.04 669.75h0M332.02 669.69h0M333 669.63h0M333.98 669.57h0M334.96 669.51h0M335.94 669.45h0M336.92 669.39h0M337.9 669.34h0M338.88 669.28h0M339.86 669.22h0M340.84 669.16h0M341.82 669.1h0M342.8 669.04h0M343.78 668.99h0M344.76 668.93h0M345.74 668.87h0M346.72 668.81h0M347.7 668.75h0M348.68 668.69h0M349.66 668.64h0M350.64 668.58h0M351.62 668.52h0M352.6 668.46h0M353.58 668.4h0M354.56 668.34h0M355.54 668.29h0M356.52 668.23h0M357.5 668.17h0M358.48 668.11h0M359.46 668.05h0M360.44 667.99h0M361.42 667.93h0M362.4 667.88h0M363.38 667.82h0M364.36 667.76h0M365.34 667.7h0M366.32 667.64h0M367.3 667.58h0M368.28 667.53h0M369.26 667.47h0M370.24 667.41h0M371.22 667.35h0M372.2 667.29h0M373.18 667.23h0M374.16 667.17h0M375.14 667.11h0M376.12 667.05h0M377.1 666.99h0M378.08 666.93h0M379.06 666.86h0M380.04 666.8h0M381.02 666.74h0M382 666.68h0M382.98 666.62h0M383.96 666.56h0M384.94 666.5h0M385.92 666.44h0M386.9 666.37h0M387.88 666.31h0M388.86 666.25h0M389.84 666.19h0M390.82 666.13h0M391.8 666.07h0M392.78 666.01h0M393.76 665.95h0M394.74 665.88h0M395.72 665.82h0M396.7 665.76h0M397.68 665.7h0M398.66 665.64h0M399.64 665.58h0M400.62 665.52h0M401.6 665.46h0M402.58 665.4h0M403.56 665.33h0M404.54 665.27h0M405.52 665.21h0M406.5 665.15h0M407.48 665.09h0M408.46 665.03h0M409.44 664.97h0M410.42 664.91h0M411.4 664.84h0M412.38 664.78h0M413.36 664.72h0M414.34 664.66h0M415.32 664.6h0M416.3 664.54h0M417.28 664.48h0M418.26 664.42h0M419.24 664.36h0M420.22 664.29h0M421.2 664.23h0M422.18 664.17h0M423.16 664.11h0M424.14 664.05h0M425.12 663.99h0M426.1 663.93h0M427.08 663.87h0M428.06 663.8h0M429.04 663.74h0M430.02 663.68h0M431 663.62h0M431.98 663.56h0M432.96 663.5h0M433.94 663.44h0M434.92 663.38h0M435.9 663.31h0M436.88 663.25h0M437.86 663.19h0M438.84 663.13h0M439.82 663.07h0M440.8 663.01h0" stroke="#0000ff" stroke-width="6.8" stroke-linecap="round" fill="none"/>
<path d="M441.78 662.73h0M442.76 662.64h0M443.74 662.55h0M444.72 662.47h0M445.7 662.38h0M446.68 662.29h0M447.66 662.21h0M448.64 662.12h0M449.62 662.03h0M450.6 661.94h0M451.58 661.86h0M452.56 661.77h0M453.54 661.68h0M454.52 661.6h0M455.5 661.51h0M456.48 661.42h0M457.46 661.34h0M458.44 661.25h0M459.42 661.16h0M460.4 661.07h0M461.38 660.99h0M462.36 660.9h0M463.34 660.81h0M464.32 660.73h0M465.3 660.64h0M466.28 660.55h0M467.26 660.47h0M468.24 660.38h0M469.22 660.29h0M470.2 660.2h0M471.18 660.12h0M472.16 660.03h0M473.14 659.94h0M474.12 659.86h0M475.1 659.77h0M476.08 659.68h0M477.06 659.6h0M478.04 659.51h0M479.02 659.42h0M480 659.33h0M480.98 659.25h0M481.96 659.16h0M482.94 659.07h0M483.92 658.99h0M484.9 658.9h0M485.88 658.81h0M486.86 658.73h0M487.84 658.6h0M488.82 658.48h0M489.8 658.36h0M490.78 658.24h0M491.76 658.11h0M492.74 657.99h0M493.72 657.87h0M494.7 657.75h0M495.68 657.63h0M496.66 657.5h0M497.64 657.38h0M498.62 657.26h0M499.6 657.14h0M500.58 657.02h0M501.56 656.89h0M502.54 656.77h0M503.52 656.65h0M504.5 656.53h0M505.48 656.4h0M506.46 656.28h0M507.44 656.16h0M508.42 656.04h0M509.4 655.92h0M510.38 655.79h0M511.36 655.67h0M512.34 655.55h0M513.32 655.43h0M514.3 655.3h0M515.28 655.18h0M516.26 655.06h0M517.24 654.94h0M518.22 654.82h0M519.2 654.69h0M520.18 654.57h0M521.16 654.45h0M522.14 654.33h0M523.12 654.21h0M524.1 654.08h0M525.08 653.96h0M526.06 653.84h0M527.04 653.72h0M528.02 653.59h0M529 653.47h0M529.98 653.35h0M530.96 653.23h0M531.94 653.11h0M532.92 652.98h0M533.9 652.86h0M534.88 652.74h0M535.86 652.62h0M536.84 652.5h0M537.82 652.32h0M538.8 652.15h0M539.78 651.98h0M540.76 651.81h0M541.74 651.64h0M542.72 651.47h0M543.7 651.3h0M544.68 651.13h0M545.66 650.96h0M546.64 650.79h0M547.62 650.62h0M548.6 650.45h0M549.58 650.28h0M550.56 650.11h0M551.54 649.94h0M552.52 649.77h0M553.5 649.6h0M554.48 649.43h0M555.46 649.26h0M556.44 649.09h0M557.42 648.92h0M558.4 648.75h0M559.38 648.58h0M560.36 648.41h0M561.34 648.24h0M562.32 648.07h0M563.3 647.9h0M564.28 647.72h0M565.26 647.55h0M566.24 647.38h0M567.22 647.21h0M568.2 647.04h0M569.18 646.75h0M570.16 646.45h0M571.14 646.15h0M572.12 645.86h0M573.1 645.56h0M574.08 645.26h0M575.06 644.97h0M576.04 644.67h0M577.02 644.37h0M578 644.08h0M578.98 643.78h0M579.96 643.48h0M580.94 643.19h0M581.92 642.89h0M582.9 642.59h0M583.88 642.3h0M584.86 642h0M585.84 641.7h0M586.82 641.41h0M587.8 641.11h0M588.78 640.81h0M589.76 640.52h0M590.74 640.24h0M591.72 639.95h0M592.7 639.66h0M593.68 639.37h0M594.66 639.08h0M595.64 638.79h0M596.62 638.51h0M597.6 638.22h0M598.58 637.93h0M599.56 637.64h0M600.54 637.35h0M601.52 637.06h0M602.5 636.77h0M603.48 636.49h0M604.46 636.2h0M605.44 635.91h0M606.42 635.62h0M607.4 635.33h0M608.38 635.04h0M609.36 634.76h0M610.34 634.47h0M611.32 634.18h0M612.3 633.89h0M613.28 633.6h0M614.26 633.31h0M615.24 633.03h0M616.22 632.58h0M617.2 632.13h0M618.18 631.68h0M619.16 631.23h0M620.14 630.78h0M621.12 630.33h0M622.1 629.88h0M623.08 629.43h0M624.06 628.98h0M625.04 628.53h0M626.02 628.08h0M627 627.63h0M627.98 627.18h0M628.96 626.73h0M629.94 626.29h0M630.92 625.84h0M631.9 625.39h0M632.88 624.94h0M633.86 624.49h0M634.84 624.04h0M635.82 623.59h0M636.8 623.14h0M637.78 622.69h0M638.76 622.24h0M639.74 621.79h0M640.72 621.34h0M641.7 620.67h0M642.68 620h0M643.66 619.32h0M644.64 618.65h0M645.62 617.97h0M646.6 617.3h0M647.58 616.63h0M648.56 615.95h0M649.54 615.28h0M650.52 614.6h0M651.5 613.93h0M652.48 613.26h0M653.46 612.58h0M654.44 611.91h0M655.42 611.23h0M656.4 610.56h0M657.38 609.89h0M658.36 609.21h0M659.34 608.54h0M660.32 607.86h0M661.3 607.19h0M662.28 606.52h0M663.26 605.84h0M664.24 605.17h0M665.22 604.49h0M666.2 603.82h0M667.18 603.04h0M668.16 602.26h0M669.14 601.48h0M670.12 600.7h0M671.1 599.93h0M672.08 599.33h0M673.06 598.73h0M674.04 598.13h0M675.02 597.53h0M676 596.93h0M676.98 596.33h0M677.96 592.92h0M678.94 586.69h0M679.92 580.46h0M680.9 577.19h0M681.88 573.93h0M682.86 570.67h0M683.84 567.41h0M684.82 562.74h0M685.8 558.07h0M686.78 553.39h0M687.76 548.72h0M688.74 545.04h0M689.72 541.36h0M690.7 536.36h0M691.68 528.28h0M692.66 515.23h0M693.64 507.32h0M694.62 500.35h0M695.6 494.79h0M696.58 487h0M697.56 487h0M698.54 487h0M699.52 487h0M700.5 487h0M701.48 487h0M702.46 487h0M703.44 487h0M704.42 487h0M705.4 487h0" stroke="#ff0000" stroke-width="6.8" stroke-linecap="round" fill="none"/>
<path d="M157.85 663.4L725.5 663.4" stroke="#000" stroke-width="2.5" fill="none" stroke-dasharray="6 13.4" stroke-linecap="round"/>
<path d="M440.6 686.95L440.6 479.7" stroke="#000" stroke-width="2.5" fill="none" stroke-dasharray="6 13.4" stroke-linecap="round"/>
<path d="M172.7 500.4h0" stroke="#ff0000" stroke-width="9.2" stroke-linecap="round" fill="none"/>
<path d="M172.7 519.7h0" stroke="#0000ff" stroke-width="9.2" stroke-linecap="round" fill="none"/>
<text textLength="37.4" lengthAdjust="spacingAndGlyphs" font-size="13.5" x="186.6" y="504.8">High risk</text>
<text textLength="35.2" lengthAdjust="spacingAndGlyphs" font-size="13.5" x="186.6" y="524.4">Low risk</text>
<text font-weight="bold" font-size="27.5" x="776" y="491.6">D</text>
<rect x="920.4" y="480" width="584.4" height="204.8" fill="none" stroke="#000" stroke-width="2"/>
<text text-anchor="middle" font-size="16" transform="translate(896.7,677) rotate(-90)">0</text>
<text text-anchor="middle" font-size="16" transform="translate(896.7,639.06) rotate(-90)">2</text>
<text text-anchor="middle" font-size="16" transform="translate(896.7,601.12) rotate(-90)">4</text>
<text text-anchor="middle" font-size="16" transform="translate(896.7,563.18) rotate(-90)">6</text>
<text text-anchor="middle" font-size="16" transform="translate(896.7,525.24) rotate(-90)">8</text>
<text text-anchor="middle" font-size="16" transform="translate(896.7,487.3) rotate(-90)">10</text>
<text text-anchor="middle" font-size="15.5" x="934.4" y="717.5">0</text>
<text text-anchor="middle" font-size="15.5" x="1012.83" y="717.5">10</text>
<text text-anchor="middle" font-size="15.5" x="1091.26" y="717.5">20</text>
<text text-anchor="middle" font-size="15.5" x="1169.69" y="717.5">30</text>
<text text-anchor="middle" font-size="15.5" x="1248.12" y="717.5">40</text>
<text text-anchor="middle" font-size="15.5" x="1326.55" y="717.5">50</text>
<text text-anchor="middle" font-size="15.5" x="1404.98" y="717.5">60</text>
<text text-anchor="middle" font-size="15.5" x="1483.41" y="717.5">70</text>
<path d="M910.1 677h10.3M910.1 639.06h10.3M910.1 601.12h10.3M910.1 563.18h10.3M910.1 525.24h10.3M910.1 487.3h10.3M934.4 684.8v9.8M1012.83 684.8v9.8M1091.26 684.8v9.8M1169.69 684.8v9.8M1248.12 684.8v9.8M1326.55 684.8v9.8M1404.98 684.8v9.8M1483.41 684.8v9.8" stroke="#000" stroke-width="1.9" fill="none"/>
<text textLength="229.1" lengthAdjust="spacingAndGlyphs" font-size="16" x="1095.2" y="742.8">Patients (increasing risk socre)</text>
<text text-anchor="middle" textLength="96.6" lengthAdjust="spacingAndGlyphs" font-size="21" transform="translate(831.3,587) rotate(-90)">Risk score</text>
<path d="M942.24 677.01h0M950.09 674.92h0M957.93 673.35h0M965.77 672.57h0M973.62 672.57h0M981.46 672.31h0M989.3 672.05h0M997.14 672.05h0M1004.99 671.53h0M1012.83 669.44h0M1020.67 669.18h0M1028.52 668.92h0M1036.36 668.92h0M1044.2 668.66h0M1052.05 668.13h0M1059.89 667.61h0M1067.73 667.35h0M1075.57 667.09h0M1083.42 666.57h0M1091.26 666.31h0M1099.1 666.31h0M1106.95 666.05h0M1114.79 665.79h0M1122.63 665.53h0M1130.47 665.26h0M1138.32 665.26h0M1146.16 664.74h0M1154 662.92h0M1161.85 662.39h0M1169.69 661.87h0M1177.53 661.87h0M1185.38 661.61h0M1193.22 660.05h0M1201.06 659.78h0M1208.9 659.26h0" stroke="#0000ff" stroke-width="7" stroke-linecap="round" fill="none"/>
<path d="M1216.75 658.22h0M1224.59 657.7h0M1232.43 657.18h0M1240.28 657.18h0M1248.12 656.91h0M1255.96 656.65h0M1263.81 656.65h0M1271.65 656.39h0M1279.49 656.39h0M1287.34 653h0M1295.18 646.22h0M1303.02 645.43h0M1310.86 645.17h0M1318.71 644.13h0M1326.55 643.61h0M1334.39 642.04h0M1342.24 641h0M1350.08 639.95h0M1357.92 639.43h0M1365.76 639.17h0M1373.61 638.91h0M1381.45 636.3h0M1389.29 629.26h0M1397.14 629.26h0M1404.98 626.39h0M1412.82 621.69h0M1420.67 619.86h0M1428.51 615.95h0M1436.35 615.17h0M1444.19 608.12h0M1452.04 593.25h0M1459.88 542.89h0M1467.72 527.23h0M1475.57 507.66h0M1483.41 487.57h0" stroke="#ff0000" stroke-width="7" stroke-linecap="round" fill="none"/>
<path d="M921.65 659.3L1503.8 659.3" stroke="#000" stroke-width="2.5" fill="none" stroke-dasharray="6 13.4" stroke-linecap="round"/>
<path d="M1209 683.55L1209 481.5" stroke="#000" stroke-width="2.5" fill="none" stroke-dasharray="6 13.4" stroke-linecap="round"/>
<path d="M935.3 498.3h0" stroke="#ff0000" stroke-width="9.2" stroke-linecap="round" fill="none"/>
<path d="M935.3 517.3h0" stroke="#0000ff" stroke-width="9.2" stroke-linecap="round" fill="none"/>
<text textLength="37.3" lengthAdjust="spacingAndGlyphs" font-size="13.5" x="948.9" y="502.2">High risk</text>
<text textLength="34.7" lengthAdjust="spacingAndGlyphs" font-size="13.5" x="948.9" y="521.8">Low risk</text>
<text font-weight="bold" font-size="27.5" x="1" y="809.7">E</text>
<rect x="153.4" y="785" width="582.9" height="214.1" fill="none" stroke="#000" stroke-width="2"/>
<text text-anchor="middle" font-size="16" transform="translate(129.7,991.3) rotate(-90)">0</text>
<text text-anchor="middle" font-size="16" transform="translate(129.7,958.98) rotate(-90)">2</text>
<text text-anchor="middle" font-size="16" transform="translate(129.7,926.66) rotate(-90)">4</text>
<text text-anchor="middle" font-size="16" transform="translate(129.7,894.34) rotate(-90)">6</text>
<text text-anchor="middle" font-size="16" transform="translate(129.7,862.02) rotate(-90)">8</text>
<text text-anchor="middle" font-size="16" transform="translate(129.7,829.7) rotate(-90)">10</text>
<text text-anchor="middle" font-size="16" transform="translate(129.7,797.38) rotate(-90)">12</text>
<text text-anchor="middle" font-size="15.5" x="174.6" y="1034.8">0</text>
<text text-anchor="middle" font-size="15.5" x="274.5" y="1034.8">100</text>
<text text-anchor="middle" font-size="15.5" x="374.4" y="1034.8">200</text>
<text text-anchor="middle" font-size="15.5" x="474.3" y="1034.8">300</text>
<text text-anchor="middle" font-size="15.5" x="574.2" y="1034.8">400</text>
<text text-anchor="middle" font-size="15.5" x="674.1" y="1034.8">500</text>
<path d="M143.1 991.3h10.3M143.1 958.98h10.3M143.1 926.66h10.3M143.1 894.34h10.3M143.1 862.02h10.3M143.1 829.7h10.3M143.1 797.38h10.3M174.6 999.1v9.8M274.5 999.1v9.8M374.4 999.1v9.8M474.3 999.1v9.8M574.2 999.1v9.8M674.1 999.1v9.8" stroke="#000" stroke-width="1.9" fill="none"/>
<text textLength="227.8" lengthAdjust="spacingAndGlyphs" font-size="16" x="327.5" y="1055.7">Patients (increasing risk socre)</text>
<text text-anchor="middle" textLength="143.5" lengthAdjust="spacingAndGlyphs" font-size="20" transform="translate(71.8,901.7) rotate(-90)">Survival time (years)</text>
<path d="M175.6 951.49h0M176.6 961.29h0M177.6 960.05h0M178.6 943.4h0M179.59 990.18h0M180.59 989.74h0" stroke="#0000ff" stroke-width="10" stroke-linecap="round" fill="none"/>
<path d="M181.38 925.02h0" stroke="#ff0000" stroke-width="10" stroke-linecap="round" fill="none"/>
<path d="M182.59 973.79h0M183.59 991.2h0M184.59 977.5h0M185.59 953.87h0M186.59 963.83h0M187.59 970.28h0M188.59 932.99h0M189.58 971.69h0M190.58 956.08h0M191.58 967.13h0M192.58 949.27h0M193.58 964.7h0M194.58 947.87h0M195.71 926.21h0M196.58 970.52h0M197.58 989.74h0M198.58 944.51h0M199.69 872.49h0M200.88 905.52h0" stroke="#0000ff" stroke-width="10" stroke-linecap="round" fill="none"/>
<path d="M201.57 990.01h0" stroke="#ff0000" stroke-width="10" stroke-linecap="round" fill="none"/>
<path d="M202.57 965.36h0M203.57 974.56h0M204.46 876.47h0M205.57 966.13h0M206.57 950.13h0M207.65 923.03h0M208.57 932.12h0M209.56 953.52h0M210.56 949.6h0M211.56 955.9h0M212.82 913.48h0M213.62 897.16h0M214.56 976.24h0M215.61 895.18h0M216.56 990.91h0M217.56 965.19h0M218.56 938.14h0M219.56 946.3h0M220.55 944.45h0M221.55 951.02h0M222.77 925.02h0M223.55 952.71h0M224.55 975.35h0M225.55 990.91h0" stroke="#0000ff" stroke-width="10" stroke-linecap="round" fill="none"/>
<path d="M226.35 907.11h0" stroke="#ff0000" stroke-width="10" stroke-linecap="round" fill="none"/>
<path d="M227.55 954.41h0M228.55 973.27h0" stroke="#0000ff" stroke-width="10" stroke-linecap="round" fill="none"/>
<path d="M229.54 971.73h0" stroke="#ff0000" stroke-width="10" stroke-linecap="round" fill="none"/>
<path d="M230.73 812.8h0M231.54 960.5h0M232.54 972.44h0M233.54 990.58h0M234.31 859.36h0M235.54 990.7h0M236.54 967.84h0M237.54 936.54h0M238.54 974.29h0" stroke="#0000ff" stroke-width="10" stroke-linecap="round" fill="none"/>
<path d="M239.53 989.83h0" stroke="#ff0000" stroke-width="10" stroke-linecap="round" fill="none"/>
<path d="M240.53 977.75h0M241.47 911.09h0M242.53 957.12h0M243.53 976.18h0M244.53 952.19h0M245.53 955.3h0M246.53 936h0M247.53 941.19h0" stroke="#0000ff" stroke-width="10" stroke-linecap="round" fill="none"/>
<path d="M248.24 897.16h0" stroke="#ff0000" stroke-width="10" stroke-linecap="round" fill="none"/>
<path d="M249.52 938.18h0M250.52 961.42h0M251.52 959.77h0M252.52 935.16h0M253.52 961.47h0M254.52 975.93h0" stroke="#0000ff" stroke-width="10" stroke-linecap="round" fill="none"/>
<path d="M255.52 937.62h0" stroke="#ff0000" stroke-width="10" stroke-linecap="round" fill="none"/>
<path d="M256.52 958.06h0M257.52 951.6h0" stroke="#0000ff" stroke-width="10" stroke-linecap="round" fill="none"/>
<path d="M258.52 969.62h0" stroke="#ff0000" stroke-width="10" stroke-linecap="round" fill="none"/>
<path d="M259.51 973.44h0M260.51 940.71h0M261.51 936.37h0M262.16 928.6h0M263.51 954.93h0" stroke="#0000ff" stroke-width="10" stroke-linecap="round" fill="none"/>
<path d="M264.55 938.15h0" stroke="#ff0000" stroke-width="10" stroke-linecap="round" fill="none"/>
<path d="M265.51 941.83h0M266.51 974.41h0M267.51 953.68h0M268.51 970.32h0M269.5 970.37h0M270.5 960.17h0M271.5 953.96h0M272.5 947.84h0M273.5 991.23h0M274.5 969.38h0" stroke="#0000ff" stroke-width="10" stroke-linecap="round" fill="none"/>
<path d="M275.5 946.65h0M276.5 954.24h0" stroke="#ff0000" stroke-width="10" stroke-linecap="round" fill="none"/>
<path d="M277.5 977.01h0M278.5 960.05h0M279.5 950.49h0M280.07 876.87h0M281.27 917.06h0M282.49 964.55h0" stroke="#0000ff" stroke-width="10" stroke-linecap="round" fill="none"/>
<path d="M283.49 964.64h0" stroke="#ff0000" stroke-width="10" stroke-linecap="round" fill="none"/>
<path d="M284.49 970.45h0M285.49 963.23h0M286.49 966.93h0M287.49 947.59h0M288.49 946.76h0M289.49 951.9h0M290.02 830.71h0M291.48 952.79h0M292.48 940.29h0M293.48 957.37h0" stroke="#0000ff" stroke-width="10" stroke-linecap="round" fill="none"/>
<path d="M294 880.05h0" stroke="#ff0000" stroke-width="10" stroke-linecap="round" fill="none"/>
<path d="M295.48 935.37h0M295.99 809.62h0M297.48 949.85h0M298.48 933.95h0M299.48 953.48h0M300.47 965.55h0M301.47 964.19h0M302.36 877.67h0M303.47 991.2h0M304.47 942.79h0M305.47 946.4h0M306.47 953.94h0M307.47 964.04h0M308.47 944.99h0M309.92 907.11h0M310.46 957.17h0M311.46 953.83h0M312.46 967.28h0M313.1 920.24h0M314.46 945.25h0M315.46 939.12h0M316.46 962.78h0M317.46 977.56h0M318.46 941.52h0M319.45 939.76h0" stroke="#0000ff" stroke-width="10" stroke-linecap="round" fill="none"/>
<path d="M320.45 962.7h0" stroke="#ff0000" stroke-width="10" stroke-linecap="round" fill="none"/>
<path d="M321.45 951.51h0M322.45 974.68h0M323.45 952.18h0M324.45 972.8h0M325.45 974.61h0" stroke="#0000ff" stroke-width="10" stroke-linecap="round" fill="none"/>
<path d="M326.45 945.52h0" stroke="#ff0000" stroke-width="10" stroke-linecap="round" fill="none"/>
<path d="M327.45 969h0M328.45 975.32h0M329.44 963.52h0M330.44 962.95h0M331.44 966.35h0M332.2 829.91h0M333.44 972.43h0M334.44 962.97h0M335.44 932.67h0M336.44 954.8h0M337.44 943.18h0" stroke="#0000ff" stroke-width="10" stroke-linecap="round" fill="none"/>
<path d="M338.17 881.65h0" stroke="#ff0000" stroke-width="10" stroke-linecap="round" fill="none"/>
<path d="M339.44 929.92h0M340.43 944.64h0M341.43 975.55h0M342.43 933.97h0M343.43 990.19h0M344.43 990.2h0M345.43 947.05h0M346.43 963.75h0M347.43 976.32h0M348.12 889.21h0" stroke="#0000ff" stroke-width="10" stroke-linecap="round" fill="none"/>
<path d="M349.42 990.41h0" stroke="#ff0000" stroke-width="10" stroke-linecap="round" fill="none"/>
<path d="M350.42 974.11h0M351.42 953.93h0" stroke="#0000ff" stroke-width="10" stroke-linecap="round" fill="none"/>
<path d="M352.1 902.74h0" stroke="#ff0000" stroke-width="10" stroke-linecap="round" fill="none"/>
<path d="M353.42 947.44h0M354.42 990.55h0M355.42 940.23h0M356.42 960.89h0M357.42 989.94h0M358.42 956.87h0M359.41 973.57h0" stroke="#0000ff" stroke-width="10" stroke-linecap="round" fill="none"/>
<path d="M360.41 952.39h0" stroke="#ff0000" stroke-width="10" stroke-linecap="round" fill="none"/>
<path d="M361.41 932.59h0M362.05 921.44h0M363.41 960.93h0M364.41 954.96h0M365.41 956.72h0M366.41 941.42h0M367.41 935.81h0M368.41 941.42h0M369.4 968.43h0" stroke="#0000ff" stroke-width="10" stroke-linecap="round" fill="none"/>
<path d="M370.4 968.03h0" stroke="#ff0000" stroke-width="10" stroke-linecap="round" fill="none"/>
<path d="M371.6 924.22h0M372.4 971.62h0M373.4 942.73h0M374.4 962.87h0M375.18 868.12h0M376.4 959.69h0M377.4 949.86h0M377.96 905.52h0M379.39 990.11h0M380.39 976.9h0M381.39 975.51h0M381.94 913.08h0" stroke="#0000ff" stroke-width="10" stroke-linecap="round" fill="none"/>
<path d="M383.14 908.31h0" stroke="#ff0000" stroke-width="10" stroke-linecap="round" fill="none"/>
<path d="M384.39 962.37h0M385.39 961.85h0M386.39 933.59h0M387.39 990.07h0M388.39 991.04h0M389.38 963.96h0" stroke="#0000ff" stroke-width="10" stroke-linecap="round" fill="none"/>
<path d="M390.38 950.88h0" stroke="#ff0000" stroke-width="10" stroke-linecap="round" fill="none"/>
<path d="M391.38 960.98h0M392.38 959.32h0M393.38 957.53h0" stroke="#0000ff" stroke-width="10" stroke-linecap="round" fill="none"/>
<path d="M394.38 971.24h0" stroke="#ff0000" stroke-width="10" stroke-linecap="round" fill="none"/>
<path d="M395.38 990.08h0M396.38 956.6h0M397.38 989.77h0M398.38 990.61h0M399.38 971.28h0M400.64 883.64h0M401.37 957.35h0" stroke="#0000ff" stroke-width="10" stroke-linecap="round" fill="none"/>
<path d="M402.24 925.42h0" stroke="#ff0000" stroke-width="10" stroke-linecap="round" fill="none"/>
<path d="M403.37 954.62h0M404.37 960.21h0M405.82 886.42h0M406.37 976.86h0M407.37 965.49h0M408.37 970.75h0M409.37 955.74h0M410.36 950.66h0M411.36 975.06h0M412.36 937.16h0M413.36 958.45h0M414.36 959.96h0M415.36 944.46h0M416.36 932.24h0" stroke="#0000ff" stroke-width="10" stroke-linecap="round" fill="none"/>
<path d="M417.36 990.86h0" stroke="#ff0000" stroke-width="10" stroke-linecap="round" fill="none"/>
<path d="M418.15 844.64h0M419.36 975.39h0M420.35 975.86h0M421.34 909.5h0M422.35 960.01h0M423.35 972.25h0M424.35 953.98h0M425.35 989.99h0M426.35 972.17h0M427.35 954.81h0M428.35 949.6h0M429.35 956.67h0M430.34 942.12h0M431.34 991.17h0M432.34 990.52h0M433.34 955.81h0M434.34 990.23h0M435.34 990.13h0M436.34 974.21h0M437.34 967.71h0M438.34 990.38h0M439.34 931.57h0M440.04 815.99h0M441.33 969.51h0M442.33 951.18h0M443.33 942.27h0M444.33 966.86h0M445.33 961.97h0M446.33 933.06h0M447.33 956.3h0M448.33 948.85h0M449.33 961.87h0M450.32 933.69h0M451.32 990.03h0" stroke="#0000ff" stroke-width="10" stroke-linecap="round" fill="none"/>
<path d="M452.32 990.11h0M453.32 936.99h0" stroke="#ff0000" stroke-width="10" stroke-linecap="round" fill="none"/>
<path d="M454.32 959.49h0M455.32 956.11h0M456.32 966.9h0M457.32 958.81h0M458.32 957.4h0" stroke="#0000ff" stroke-width="10" stroke-linecap="round" fill="none"/>
<path d="M459.06 909.86h0" stroke="#ff0000" stroke-width="10" stroke-linecap="round" fill="none"/>
<path d="M460.31 966.43h0M461.31 932.73h0M462.31 932.05h0M463.31 939.13h0M464.31 966.11h0M465.31 956.81h0M466.31 946.03h0M467.41 908.29h0M468.19 804.44h0M469.3 969.88h0" stroke="#0000ff" stroke-width="10" stroke-linecap="round" fill="none"/>
<path d="M470.3 943.3h0" stroke="#ff0000" stroke-width="10" stroke-linecap="round" fill="none"/>
<path d="M471.3 990.05h0" stroke="#0000ff" stroke-width="10" stroke-linecap="round" fill="none"/>
<path d="M472.3 965.03h0" stroke="#ff0000" stroke-width="10" stroke-linecap="round" fill="none"/>
<path d="M473.3 977.31h0M474.3 990.95h0M475.3 961.07h0M476.3 970.2h0M477.3 969.3h0M478.3 964.42h0M479.15 916.12h0M480.29 951.78h0M481.24 817.75h0M482.29 950.53h0M483.29 976.93h0M484.29 941.82h0M485.29 970.39h0M486.29 944.68h0M487.29 990.7h0M488.29 937.53h0M489.28 969.01h0M490.28 963.36h0M491.28 970.62h0M492.28 955.96h0M493.28 989.93h0" stroke="#0000ff" stroke-width="10" stroke-linecap="round" fill="none"/>
<path d="M494.28 944.05h0M495.28 964.41h0" stroke="#ff0000" stroke-width="10" stroke-linecap="round" fill="none"/>
<path d="M496.28 961.31h0M497.28 933.98h0M498.28 975.73h0M499.27 938.75h0M500.27 954.17h0M501.27 976.16h0M502.27 957.57h0M503.27 975.3h0M504.46 803.14h0M505.27 950.25h0M506.55 926.56h0M507.27 949.04h0M508.27 971.46h0M509.26 978.07h0M510.26 945.28h0M511.26 967.44h0M512.26 968.56h0M513.26 970.91h0M514.26 968.79h0M515.26 935.25h0M516.26 975.69h0M516.99 927.86h0" stroke="#0000ff" stroke-width="10" stroke-linecap="round" fill="none"/>
<path d="M518.29 918.21h0M519.25 958.66h0" stroke="#ff0000" stroke-width="10" stroke-linecap="round" fill="none"/>
<path d="M520.25 966.67h0M520.9 927.86h0M522.25 947.54h0M523.25 974.76h0" stroke="#0000ff" stroke-width="10" stroke-linecap="round" fill="none"/>
<path d="M524.25 951.59h0" stroke="#ff0000" stroke-width="10" stroke-linecap="round" fill="none"/>
<path d="M525.25 959.54h0M526.25 941.8h0M527.25 977.92h0M528.25 949.81h0M529.25 937.48h0M530.24 990.75h0" stroke="#0000ff" stroke-width="10" stroke-linecap="round" fill="none"/>
<path d="M531.24 967.39h0" stroke="#ff0000" stroke-width="10" stroke-linecap="round" fill="none"/>
<path d="M532.24 954.37h0M533.24 956.08h0M534.24 942.45h0M535.24 957.62h0M536.24 935.41h0M537.24 930.96h0M538.24 975.95h0M539.24 958.09h0M540.47 921.34h0M541.23 967.87h0" stroke="#0000ff" stroke-width="10" stroke-linecap="round" fill="none"/>
<path d="M541.77 932.3h0" stroke="#ff0000" stroke-width="10" stroke-linecap="round" fill="none"/>
<path d="M543.23 950.05h0M544.38 918.73h0M545.23 962.56h0M546.23 970.68h0M547.23 933.43h0M548.23 954.38h0M549.23 971.37h0M550.12 929.17h0M551.22 972.97h0" stroke="#0000ff" stroke-width="10" stroke-linecap="round" fill="none"/>
<path d="M552.22 977.44h0" stroke="#ff0000" stroke-width="10" stroke-linecap="round" fill="none"/>
<path d="M553.22 951.05h0" stroke="#0000ff" stroke-width="10" stroke-linecap="round" fill="none"/>
<path d="M554.22 970.73h0M555.22 951.39h0M556.22 959.64h0M557.22 976.72h0M558.22 973.92h0" stroke="#ff0000" stroke-width="10" stroke-linecap="round" fill="none"/>
<path d="M559.22 977.86h0" stroke="#0000ff" stroke-width="10" stroke-linecap="round" fill="none"/>
<path d="M560.21 970.74h0M561.34 867.06h0" stroke="#ff0000" stroke-width="10" stroke-linecap="round" fill="none"/>
<path d="M562.21 972.23h0M563.21 971.73h0M564.21 969.04h0M565.21 967.23h0M566.21 954.71h0M567.21 973.79h0M568.21 965.84h0" stroke="#0000ff" stroke-width="10" stroke-linecap="round" fill="none"/>
<path d="M569.21 969.59h0" stroke="#ff0000" stroke-width="10" stroke-linecap="round" fill="none"/>
<path d="M570.2 951.28h0" stroke="#0000ff" stroke-width="10" stroke-linecap="round" fill="none"/>
<path d="M571.2 951.36h0M572.2 990.58h0M573.2 983.74h0" stroke="#ff0000" stroke-width="10" stroke-linecap="round" fill="none"/>
<path d="M573.87 863.41h0M575.2 958.8h0" stroke="#0000ff" stroke-width="10" stroke-linecap="round" fill="none"/>
<path d="M576.22 856.89h0" stroke="#ff0000" stroke-width="10" stroke-linecap="round" fill="none"/>
<path d="M577.2 979.88h0M578.2 989.74h0M579.61 792.7h0M580.19 975.98h0M581.19 948.14h0M582.19 982.77h0" stroke="#0000ff" stroke-width="10" stroke-linecap="round" fill="none"/>
<path d="M583.19 952.53h0M584.19 958.7h0" stroke="#ff0000" stroke-width="10" stroke-linecap="round" fill="none"/>
<path d="M585.19 983.52h0M586.19 955.48h0M587.19 983.87h0M588.19 990.8h0M589.18 964.31h0M590.18 978.63h0M591.18 959.72h0M592.18 953.9h0M593.18 963.92h0M594.48 916.12h0M595.18 980.81h0" stroke="#0000ff" stroke-width="10" stroke-linecap="round" fill="none"/>
<path d="M596.18 961.6h0" stroke="#ff0000" stroke-width="10" stroke-linecap="round" fill="none"/>
<path d="M597.18 944.91h0M598.18 960.99h0M599.18 933.08h0M600.17 954.48h0M601.17 990.8h0" stroke="#0000ff" stroke-width="10" stroke-linecap="round" fill="none"/>
<path d="M602.31 921.86h0" stroke="#ff0000" stroke-width="10" stroke-linecap="round" fill="none"/>
<path d="M603.17 960.03h0M604.17 968.23h0M605.17 966.26h0M606.17 978.51h0M607.17 958.01h0" stroke="#0000ff" stroke-width="10" stroke-linecap="round" fill="none"/>
<path d="M608.17 964.18h0" stroke="#ff0000" stroke-width="10" stroke-linecap="round" fill="none"/>
<path d="M609.16 973.68h0M610.16 990.84h0M611.16 983h0M612.16 979.67h0M613.16 980.92h0M614.31 927.08h0M615.16 963.12h0M616.16 976.75h0M617.16 960.05h0M618.16 977.28h0M619.15 973.98h0M620.15 970.46h0M621.15 981.18h0M622.15 951.05h0M623.15 968.6h0M624.15 958.87h0M624.75 833.93h0" stroke="#0000ff" stroke-width="10" stroke-linecap="round" fill="none"/>
<path d="M626.15 972.65h0M627.15 972.3h0M627.88 932.3h0" stroke="#ff0000" stroke-width="10" stroke-linecap="round" fill="none"/>
<path d="M629.14 945.49h0" stroke="#0000ff" stroke-width="10" stroke-linecap="round" fill="none"/>
<path d="M630.14 984.46h0" stroke="#ff0000" stroke-width="10" stroke-linecap="round" fill="none"/>
<path d="M631.27 919.25h0M632.14 975.56h0M633.14 983.31h0M634.14 952.42h0" stroke="#0000ff" stroke-width="10" stroke-linecap="round" fill="none"/>
<path d="M635.14 985.63h0" stroke="#ff0000" stroke-width="10" stroke-linecap="round" fill="none"/>
<path d="M636.14 973.8h0M637.14 982.98h0" stroke="#0000ff" stroke-width="10" stroke-linecap="round" fill="none"/>
<path d="M638.32 939.08h0M639.13 973.06h0" stroke="#ff0000" stroke-width="10" stroke-linecap="round" fill="none"/>
<path d="M640.13 962.54h0" stroke="#0000ff" stroke-width="10" stroke-linecap="round" fill="none"/>
<path d="M641.13 980.29h0M642.13 953.54h0M643.13 954.26h0M644.13 989.86h0" stroke="#ff0000" stroke-width="10" stroke-linecap="round" fill="none"/>
<path d="M644.84 934.38h0" stroke="#0000ff" stroke-width="10" stroke-linecap="round" fill="none"/>
<path d="M646.13 978.57h0M647.13 984.12h0" stroke="#ff0000" stroke-width="10" stroke-linecap="round" fill="none"/>
<path d="M648.13 948.41h0M649.28 880.89h0" stroke="#0000ff" stroke-width="10" stroke-linecap="round" fill="none"/>
<path d="M650.12 973.24h0" stroke="#ff0000" stroke-width="10" stroke-linecap="round" fill="none"/>
<path d="M651.36 933.08h0M652.12 965.25h0" stroke="#0000ff" stroke-width="10" stroke-linecap="round" fill="none"/>
<path d="M653.12 964.22h0" stroke="#ff0000" stroke-width="10" stroke-linecap="round" fill="none"/>
<path d="M654.12 990.25h0" stroke="#0000ff" stroke-width="10" stroke-linecap="round" fill="none"/>
<path d="M655.12 990.18h0" stroke="#ff0000" stroke-width="10" stroke-linecap="round" fill="none"/>
<path d="M656.12 945.21h0" stroke="#0000ff" stroke-width="10" stroke-linecap="round" fill="none"/>
<path d="M657.36 921.34h0M658.12 967.13h0" stroke="#ff0000" stroke-width="10" stroke-linecap="round" fill="none"/>
<path d="M659.12 980.31h0" stroke="#0000ff" stroke-width="10" stroke-linecap="round" fill="none"/>
<path d="M660.11 973.29h0M661.11 980.33h0" stroke="#ff0000" stroke-width="10" stroke-linecap="round" fill="none"/>
<path d="M662.32 876.46h0" stroke="#0000ff" stroke-width="10" stroke-linecap="round" fill="none"/>
<path d="M663.11 975.44h0" stroke="#ff0000" stroke-width="10" stroke-linecap="round" fill="none"/>
<path d="M664.11 945.7h0" stroke="#0000ff" stroke-width="10" stroke-linecap="round" fill="none"/>
<path d="M665.11 983.31h0M666.11 982.92h0M667.11 965.43h0M668.11 981.61h0" stroke="#ff0000" stroke-width="10" stroke-linecap="round" fill="none"/>
<path d="M669.11 891.33h0" stroke="#0000ff" stroke-width="10" stroke-linecap="round" fill="none"/>
<path d="M670.1 947.74h0M671.1 984.84h0M672.1 985.39h0M673.1 983.98h0M674.1 984.17h0M675.1 973.41h0" stroke="#ff0000" stroke-width="10" stroke-linecap="round" fill="none"/>
<path d="M676.1 990.88h0M677.46 927.86h0M678.1 960.74h0" stroke="#0000ff" stroke-width="10" stroke-linecap="round" fill="none"/>
<path d="M679.1 969.86h0M680.09 966.64h0M681.09 977.59h0M682.09 984.32h0M683.09 967.85h0M684.09 949.74h0" stroke="#ff0000" stroke-width="10" stroke-linecap="round" fill="none"/>
<path d="M685.09 970.83h0M686.09 958.9h0" stroke="#0000ff" stroke-width="10" stroke-linecap="round" fill="none"/>
<path d="M687.09 975.85h0M688.09 976.78h0M688.68 915.6h0M690.08 978.96h0M691.08 974.85h0" stroke="#ff0000" stroke-width="10" stroke-linecap="round" fill="none"/>
<path d="M692.08 979.8h0" stroke="#0000ff" stroke-width="10" stroke-linecap="round" fill="none"/>
<path d="M693.08 990.62h0M694.08 970.1h0" stroke="#ff0000" stroke-width="10" stroke-linecap="round" fill="none"/>
<path d="M695.08 984.35h0" stroke="#0000ff" stroke-width="10" stroke-linecap="round" fill="none"/>
<path d="M696.08 983.51h0M697.08 974.43h0M698.08 978h0M699.08 977.54h0M700.07 958.33h0M701.07 971.91h0M702.07 951.72h0" stroke="#ff0000" stroke-width="10" stroke-linecap="round" fill="none"/>
<path d="M703.07 950.79h0" stroke="#0000ff" stroke-width="10" stroke-linecap="round" fill="none"/>
<path d="M704.07 979.03h0" stroke="#ff0000" stroke-width="10" stroke-linecap="round" fill="none"/>
<path d="M705.07 955.81h0" stroke="#0000ff" stroke-width="10" stroke-linecap="round" fill="none"/>
<path d="M706.07 980.47h0" stroke="#ff0000" stroke-width="10" stroke-linecap="round" fill="none"/>
<path d="M707.07 981.69h0" stroke="#0000ff" stroke-width="10" stroke-linecap="round" fill="none"/>
<path d="M708.07 970.55h0M709.07 973.41h0M710.06 974.47h0M711.06 971.72h0" stroke="#ff0000" stroke-width="10" stroke-linecap="round" fill="none"/>
<path d="M712.06 964.48h0" stroke="#0000ff" stroke-width="10" stroke-linecap="round" fill="none"/>
<path d="M713.06 966.22h0" stroke="#ff0000" stroke-width="10" stroke-linecap="round" fill="none"/>
<path d="M714.06 970.23h0" stroke="#0000ff" stroke-width="10" stroke-linecap="round" fill="none"/>
<path d="M444.4 997.85L444.4 786.5" stroke="#000" stroke-width="2.5" fill="none" stroke-dasharray="6 13.4" stroke-linecap="round"/>
<path d="M170.9 798.7h0" stroke="#ff0000" stroke-width="11.5" stroke-linecap="round" fill="none"/>
<path d="M170.9 821.7h0" stroke="#0000ff" stroke-width="11.5" stroke-linecap="round" fill="none"/>
<text fill="#333" textLength="25.8" lengthAdjust="spacingAndGlyphs" font-size="11.6" x="181.6" y="803.6">Dead</text>
<text fill="#333" textLength="26.6" lengthAdjust="spacingAndGlyphs" font-size="10" x="181.6" y="824.8">Alive</text>
<text font-weight="bold" font-size="27.5" x="776" y="809.3">F</text>
<rect x="920" y="783.8" width="585" height="209.3" fill="none" stroke="#000" stroke-width="2"/>
<text text-anchor="middle" font-size="16" transform="translate(895.4,988.4) rotate(-90)">0</text>
<text text-anchor="middle" font-size="16" transform="translate(895.4,946.52) rotate(-90)">2</text>
<text text-anchor="middle" font-size="16" transform="translate(895.4,904.64) rotate(-90)">4</text>
<text text-anchor="middle" font-size="16" transform="translate(895.4,862.76) rotate(-90)">6</text>
<text text-anchor="middle" font-size="16" transform="translate(895.4,820.88) rotate(-90)">8</text>
<text text-anchor="middle" font-size="15.5" x="934" y="1027">0</text>
<text text-anchor="middle" font-size="15.5" x="1012.5" y="1027">10</text>
<text text-anchor="middle" font-size="15.5" x="1091" y="1027">20</text>
<text text-anchor="middle" font-size="15.5" x="1169.5" y="1027">30</text>
<text text-anchor="middle" font-size="15.5" x="1248" y="1027">40</text>
<text text-anchor="middle" font-size="15.5" x="1326.5" y="1027">50</text>
<text text-anchor="middle" font-size="15.5" x="1405" y="1027">60</text>
<text text-anchor="middle" font-size="15.5" x="1483.5" y="1027">70</text>
<path d="M909.7 988.4h10.3M909.7 946.52h10.3M909.7 904.64h10.3M909.7 862.76h10.3M909.7 820.88h10.3M934 993.1v9.8M1012.5 993.1v9.8M1091 993.1v9.8M1169.5 993.1v9.8M1248 993.1v9.8M1326.5 993.1v9.8M1405 993.1v9.8M1483.5 993.1v9.8" stroke="#000" stroke-width="1.9" fill="none"/>
<text textLength="229" lengthAdjust="spacingAndGlyphs" font-size="16" x="1098.4" y="1054.4">Patients (increasing risk socre)</text>
<text text-anchor="middle" textLength="143.5" lengthAdjust="spacingAndGlyphs" font-size="20" transform="translate(834.8,896.5) rotate(-90)">Survival time (years)</text>
<path d="M941.85 859.24h0M949.7 856.63h0M957.55 902.03h0M965.4 877.24h0M973.25 846.71h0M981.1 861.32h0M988.95 811.49h0M996.8 873.85h0M1004.65 911.16h0" stroke="#0000ff" stroke-width="10" stroke-linecap="round" fill="none"/>
<path d="M1012.5 968.04h0" stroke="#ff0000" stroke-width="10" stroke-linecap="round" fill="none"/>
<path d="M1020.35 929.43h0M1028.2 912.73h0" stroke="#0000ff" stroke-width="10" stroke-linecap="round" fill="none"/>
<path d="M1036.05 936.47h0" stroke="#ff0000" stroke-width="10" stroke-linecap="round" fill="none"/>
<path d="M1043.9 924.73h0M1051.75 818.27h0" stroke="#0000ff" stroke-width="10" stroke-linecap="round" fill="none"/>
<path d="M1059.6 965.96h0M1067.45 883.76h0" stroke="#ff0000" stroke-width="10" stroke-linecap="round" fill="none"/>
<path d="M1075.3 836.54h0M1083.15 797.4h0M1091 863.67h0M1098.85 890.29h0M1106.7 890.29h0M1114.55 942.73h0" stroke="#0000ff" stroke-width="10" stroke-linecap="round" fill="none"/>
<path d="M1122.4 946.65h0" stroke="#ff0000" stroke-width="10" stroke-linecap="round" fill="none"/>
<path d="M1130.25 907.25h0M1138.1 868.37h0M1145.95 943.52h0" stroke="#0000ff" stroke-width="10" stroke-linecap="round" fill="none"/>
<path d="M1153.8 947.95h0" stroke="#ff0000" stroke-width="10" stroke-linecap="round" fill="none"/>
<path d="M1161.65 904.38h0M1169.5 974.83h0" stroke="#0000ff" stroke-width="10" stroke-linecap="round" fill="none"/>
<path d="M1177.35 933.86h0M1185.2 904.9h0M1193.05 794.27h0" stroke="#ff0000" stroke-width="10" stroke-linecap="round" fill="none"/>
<path d="M1200.9 828.45h0M1208.75 906.2h0" stroke="#0000ff" stroke-width="10" stroke-linecap="round" fill="none"/>
<path d="M1216.6 932.56h0M1224.45 959.17h0" stroke="#ff0000" stroke-width="10" stroke-linecap="round" fill="none"/>
<path d="M1232.3 860.8h0" stroke="#0000ff" stroke-width="10" stroke-linecap="round" fill="none"/>
<path d="M1240.15 914.29h0" stroke="#ff0000" stroke-width="10" stroke-linecap="round" fill="none"/>
<path d="M1248 833.14h0" stroke="#0000ff" stroke-width="10" stroke-linecap="round" fill="none"/>
<path d="M1255.85 951.34h0" stroke="#ff0000" stroke-width="10" stroke-linecap="round" fill="none"/>
<path d="M1263.7 837.32h0" stroke="#0000ff" stroke-width="10" stroke-linecap="round" fill="none"/>
<path d="M1271.55 953.43h0" stroke="#ff0000" stroke-width="10" stroke-linecap="round" fill="none"/>
<path d="M1279.4 926.56h0M1287.25 885.33h0M1295.1 895.51h0M1302.95 832.88h0" stroke="#0000ff" stroke-width="10" stroke-linecap="round" fill="none"/>
<path d="M1310.8 940.38h0M1318.65 955.78h0M1326.5 969.09h0" stroke="#ff0000" stroke-width="10" stroke-linecap="round" fill="none"/>
<path d="M1334.35 896.29h0" stroke="#0000ff" stroke-width="10" stroke-linecap="round" fill="none"/>
<path d="M1342.2 947.69h0M1350.05 909.6h0M1357.9 932.04h0M1365.75 912.73h0" stroke="#ff0000" stroke-width="10" stroke-linecap="round" fill="none"/>
<path d="M1373.6 985.53h0M1381.45 876.72h0" stroke="#0000ff" stroke-width="10" stroke-linecap="round" fill="none"/>
<path d="M1389.3 891.33h0M1397.15 906.46h0" stroke="#ff0000" stroke-width="10" stroke-linecap="round" fill="none"/>
<path d="M1405 819.58h0" stroke="#0000ff" stroke-width="10" stroke-linecap="round" fill="none"/>
<path d="M1412.85 984.74h0M1420.7 971.44h0" stroke="#ff0000" stroke-width="10" stroke-linecap="round" fill="none"/>
<path d="M1428.55 822.45h0" stroke="#0000ff" stroke-width="10" stroke-linecap="round" fill="none"/>
<path d="M1436.4 970.39h0M1444.25 861.59h0" stroke="#ff0000" stroke-width="10" stroke-linecap="round" fill="none"/>
<path d="M1452.1 868.37h0" stroke="#0000ff" stroke-width="10" stroke-linecap="round" fill="none"/>
<path d="M1459.95 951.34h0" stroke="#ff0000" stroke-width="10" stroke-linecap="round" fill="none"/>
<path d="M1467.8 971.7h0M1475.65 855.06h0M1483.5 791.4h0" stroke="#0000ff" stroke-width="10" stroke-linecap="round" fill="none"/>
<path d="M1208.7 991.85L1208.7 785.3" stroke="#000" stroke-width="2.5" fill="none" stroke-dasharray="6 13.4" stroke-linecap="round"/>
<path d="M937.1 800h0" stroke="#ff0000" stroke-width="11.2" stroke-linecap="round" fill="none"/>
<path d="M937.1 823.2h0" stroke="#0000ff" stroke-width="11.2" stroke-linecap="round" fill="none"/>
<text fill="#333" textLength="25.2" lengthAdjust="spacingAndGlyphs" font-size="11.6" x="948.1" y="804.5">Dead</text>
<text fill="#333" textLength="25.4" lengthAdjust="spacingAndGlyphs" font-size="10" x="948.1" y="826.6">Alive</text>
<text font-weight="bold" font-size="27.5" x="0" y="1121.2">G</text>
<rect x="96.2" y="1144.5" width="263.8" height="11" fill="#ff0000" />
<rect x="360" y="1144.5" width="263.7" height="11" fill="#0000ff" />
<rect x="96.2" y="1159.1" width="263.8" height="23.4" fill="#fff7f7" />
<rect x="360" y="1159.1" width="263.7" height="23.4" fill="#f2f2ff" />
<rect x="96.2" y="1182.45" width="263.8" height="23.4" fill="#fafaff" />
<rect x="360" y="1182.45" width="263.7" height="23.4" fill="#fafaff" />
<rect x="96.2" y="1205.8" width="263.8" height="23.4" fill="#ededff" />
<rect x="360" y="1205.8" width="263.7" height="23.4" fill="#fff5f5" />
<rect x="96.2" y="1229.15" width="263.8" height="23.4" fill="#fffafa" />
<rect x="360" y="1229.15" width="263.7" height="23.4" fill="#f0f0ff" />
<rect x="96.2" y="1252.5" width="263.8" height="23.4" fill="#fff0f0" />
<rect x="360" y="1252.5" width="263.7" height="23.4" fill="#ebebff" />
<rect x="96.2" y="1275.85" width="263.8" height="23.4" fill="#ffeded" />
<rect x="360" y="1275.85" width="263.7" height="23.4" fill="#f7f7ff" />
<rect x="96.2" y="1299.2" width="263.8" height="23.4" fill="#fff2f2" />
<rect x="360" y="1299.2" width="263.7" height="23.4" fill="#fffcfc" />
<rect x="96.2" y="1322.55" width="263.8" height="23.4" fill="#fffafa" />
<rect x="360" y="1322.55" width="263.7" height="23.4" fill="#fcfcff" />
<rect x="96.2" y="1345.9" width="263.8" height="23.4" fill="#fff5f5" />
<rect x="360" y="1345.9" width="263.7" height="23.4" fill="#f2f2ff" />
<rect x="96.2" y="1369.25" width="263.8" height="23.4" fill="#fff2f2" />
<rect x="360" y="1369.25" width="263.7" height="23.4" fill="#f5f5ff" />
<rect x="96.2" y="1392.6" width="263.8" height="23.4" fill="#ffffff" />
<rect x="360" y="1392.6" width="263.7" height="23.4" fill="#f7f7ff" />
<rect x="96.2" y="1415.95" width="263.8" height="23.4" fill="#fff7f7" />
<rect x="360" y="1415.95" width="263.7" height="23.4" fill="#fafaff" />
<rect x="96.2" y="1439.3" width="263.8" height="23.4" fill="#ededff" />
<rect x="360" y="1439.3" width="263.7" height="23.4" fill="#fff7f7" />
<rect x="96.2" y="1462.65" width="263.8" height="23.4" fill="#fff7f7" />
<rect x="360" y="1462.65" width="263.7" height="23.4" fill="#fafaff" />
<rect x="96.2" y="1486" width="263.8" height="23.4" fill="#fafaff" />
<rect x="360" y="1486" width="263.7" height="23.4" fill="#fff2f2" />
<rect x="96.2" y="1509.35" width="263.8" height="23.4" fill="#fffafa" />
<rect x="360" y="1509.35" width="263.7" height="23.4" fill="#f7f7ff" />
<rect x="96.2" y="1532.7" width="263.8" height="23.4" fill="#fff2f2" />
<rect x="360" y="1532.7" width="263.7" height="23.4" fill="#f7f7ff" />
<g transform="translate(96.69,1159.1) scale(0.9769,23.350)" stroke-width="1" fill="none">
<path stroke="#0000ff" d="M239 0v1M459 3v1M464 5v1M330 7v1M278 9v1"/>
<path stroke="#1919ff" d="M286 7v1M296 7v1M307 7v1M323 7v1M77 16v1"/>
<path stroke="#3333ff" d="M2 0v1M15 2v1M210 3v1M73 6v1M281 7v1M290 7v1M308 7v1M58 10v1M150 12v1M444 13v1M477 16v1"/>
<path stroke="#4d4dff" d="M28 0v1M213 0v1M426 2v1M425 3v1M407 4v1M503 4v1M185 5v1M284 7v1M289 7v1M319 7v1M333 7v1M228 10v1M296 10v1M306 10v1M274 11v1M281 11v1M304 11v1M508 11v1M155 12v1M375 12v1M254 14v1M477 15v1M518 15v1"/>
<path stroke="#6666ff" d="M282 0v1M79 2v1M285 3v1M458 3v1M279 4v1M285 4v1M290 4v1M297 4v1M304 4v1M385 4v1M476 4v1M404 5v1M283 6v1M29 7v1M136 7v1M218 7v1M321 7v1M294 8v1M296 8v1M309 8v1M359 8v1M307 9v1M474 9v1M521 9v1M285 10v1M304 10v1M445 10v1M122 11v1M203 11v1M298 11v1M301 11v1M308 11v1M456 11v1M102 12v1M365 12v1M228 13v1M331 13v1M344 13v1M416 15v1M482 15v1M315 16v1M423 16v1"/>
<path stroke="#8080ff" d="M317 0v1M406 0v1M417 0v1M424 0v1M124 1v1M178 1v1M441 1v1M100 2v1M212 2v1M224 2v1M234 2v1M244 2v1M246 2v1M257 2v1M268 2v1M508 2v1M518 2v1M208 3v1M379 3v1M477 3v1M70 4v1M275 4v1M280 4v1M281 4v1M289 4v1M293 4v1M329 4v1M330 4v1M509 4v1M520 4v1M526 4v1M539 4v1M277 5v1M416 5v1M40 6v1M390 6v1M466 6v1M12 7v1M94 7v1M303 7v1M90 8v1M229 8v1M273 8v1M475 8v1M504 8v1M163 9v1M309 9v1M338 9v1M345 9v1M66 10v1M100 10v1M104 10v1M276 10v1M278 10v1M281 10v1M297 10v1M302 10v1M389 10v1M461 10v1M509 10v1M83 11v1M275 11v1M278 11v1M282 11v1M346 11v1M353 11v1M60 12v1M162 12v1M182 12v1M187 12v1M473 12v1M253 13v1M73 14v1M226 14v1M245 14v1M355 14v1M95 15v1M126 15v1M302 15v1M420 15v1M433 15v1M458 15v1M358 16v1M456 16v1M467 16v1"/>
<path stroke="#9999ff" d="M3 0v1M19 0v1M55 0v1M144 0v1M165 0v1M179 0v1M243 0v1M297 0v1M314 0v1M325 0v1M378 0v1M421 0v1M423 0v1M516 0v1M533 0v1M1 1v1M5 1v1M45 1v1M63 1v1M140 1v1M257 1v1M274 1v1M298 1v1M343 1v1M347 1v1M358 1v1M521 1v1M7 2v1M27 2v1M36 2v1M39 2v1M134 2v1M198 2v1M237 2v1M260 2v1M456 2v1M474 2v1M483 2v1M494 2v1M530 2v1M39 3v1M149 3v1M322 3v1M325 3v1M334 3v1M346 3v1M438 3v1M464 3v1M514 3v1M74 4v1M248 4v1M270 4v1M274 4v1M326 4v1M335 4v1M349 4v1M371 4v1M430 4v1M444 4v1M489 4v1M501 4v1M28 5v1M95 5v1M100 5v1M118 5v1M210 5v1M235 5v1M431 5v1M238 6v1M277 6v1M465 6v1M532 6v1M6 7v1M131 7v1M145 7v1M177 7v1M301 7v1M516 7v1M25 8v1M33 8v1M115 8v1M142 8v1M225 8v1M264 8v1M274 8v1M275 8v1M282 8v1M299 8v1M310 8v1M337 8v1M338 8v1M444 8v1M462 8v1M465 8v1M536 8v1M84 9v1M151 9v1M261 9v1M276 9v1M304 9v1M334 9v1M404 9v1M481 9v1M488 9v1M532 9v1M26 10v1M43 10v1M151 10v1M163 10v1M170 10v1M189 10v1M287 10v1M290 10v1M291 10v1M293 10v1M301 10v1M308 10v1M386 10v1M477 10v1M501 10v1M19 11v1M44 11v1M65 11v1M295 11v1M296 11v1M347 11v1M354 11v1M355 11v1M371 11v1M421 11v1M440 11v1M478 11v1M505 11v1M521 11v1M1 12v1M26 12v1M39 12v1M50 12v1M53 12v1M122 12v1M180 12v1M196 12v1M197 12v1M210 12v1M248 12v1M414 12v1M510 12v1M48 13v1M197 13v1M218 13v1M223 13v1M227 13v1M318 13v1M321 13v1M351 13v1M413 13v1M417 13v1M459 13v1M533 13v1M137 14v1M144 14v1M168 14v1M176 14v1M183 14v1M195 14v1M211 14v1M281 14v1M320 14v1M65 15v1M179 15v1M254 15v1M274 15v1M299 15v1M315 15v1M362 15v1M479 15v1M510 15v1M329 16v1M363 16v1M383 16v1M433 16v1M515 16v1"/>
<path stroke="#b2b2ff" d="M40 0v1M64 0v1M69 0v1M76 0v1M84 0v1M88 0v1M123 0v1M158 0v1M169 0v1M207 0v1M259 0v1M274 0v1M277 0v1M288 0v1M318 0v1M322 0v1M326 0v1M339 0v1M344 0v1M345 0v1M376 0v1M396 0v1M452 0v1M464 0v1M474 0v1M483 0v1M505 0v1M509 0v1M513 0v1M515 0v1M522 0v1M525 0v1M10 1v1M18 1v1M23 1v1M28 1v1M47 1v1M54 1v1M98 1v1M101 1v1M107 1v1M126 1v1M132 1v1M144 1v1M159 1v1M203 1v1M242 1v1M270 1v1M271 1v1M277 1v1M280 1v1M299 1v1M300 1v1M325 1v1M353 1v1M372 1v1M416 1v1M417 1v1M448 1v1M465 1v1M504 1v1M514 1v1M520 1v1M0 2v1M6 2v1M19 2v1M21 2v1M42 2v1M44 2v1M45 2v1M47 2v1M62 2v1M84 2v1M85 2v1M95 2v1M99 2v1M104 2v1M112 2v1M119 2v1M130 2v1M141 2v1M142 2v1M153 2v1M175 2v1M179 2v1M180 2v1M189 2v1M190 2v1M191 2v1M196 2v1M204 2v1M207 2v1M217 2v1M226 2v1M227 2v1M239 2v1M249 2v1M258 2v1M269 2v1M292 2v1M296 2v1M299 2v1M314 2v1M355 2v1M371 2v1M440 2v1M445 2v1M464 2v1M493 2v1M511 2v1M14 3v1M91 3v1M97 3v1M118 3v1M126 3v1M153 3v1M180 3v1M191 3v1M197 3v1M219 3v1M258 3v1M259 3v1M296 3v1M297 3v1M300 3v1M314 3v1M316 3v1M357 3v1M395 3v1M399 3v1M414 3v1M418 3v1M430 3v1M434 3v1M462 3v1M467 3v1M484 3v1M528 3v1M1 4v1M47 4v1M53 4v1M81 4v1M132 4v1M152 4v1M195 4v1M214 4v1M226 4v1M249 4v1M276 4v1M287 4v1M292 4v1M299 4v1M303 4v1M305 4v1M319 4v1M321 4v1M331 4v1M350 4v1M363 4v1M365 4v1M377 4v1M379 4v1M394 4v1M409 4v1M417 4v1M427 4v1M428 4v1M439 4v1M453 4v1M454 4v1M455 4v1M474 4v1M479 4v1M487 4v1M496 4v1M499 4v1M500 4v1M519 4v1M533 4v1M18 5v1M19 5v1M76 5v1M83 5v1M85 5v1M242 5v1M283 5v1M313 5v1M324 5v1M347 5v1M349 5v1M350 5v1M364 5v1M371 5v1M381 5v1M386 5v1M417 5v1M424 5v1M429 5v1M437 5v1M452 5v1M508 5v1M517 5v1M520 5v1M0 6v1M14 6v1M37 6v1M114 6v1M139 6v1M205 6v1M221 6v1M232 6v1M255 6v1M300 6v1M308 6v1M324 6v1M334 6v1M349 6v1M368 6v1M383 6v1M421 6v1M429 6v1M453 6v1M467 6v1M469 6v1M506 6v1M36 7v1M62 7v1M124 7v1M133 7v1M134 7v1M138 7v1M146 7v1M208 7v1M227 7v1M255 7v1M300 7v1M324 7v1M325 7v1M348 7v1M406 7v1M414 7v1M420 7v1M432 7v1M436 7v1M441 7v1M481 7v1M490 7v1M502 7v1M507 7v1M509 7v1M7 8v1M42 8v1M80 8v1M83 8v1M144 8v1M193 8v1M201 8v1M212 8v1M214 8v1M266 8v1M283 8v1M304 8v1M318 8v1M319 8v1M320 8v1M332 8v1M336 8v1M347 8v1M370 8v1M374 8v1M388 8v1M399 8v1M404 8v1M415 8v1M420 8v1M434 8v1M450 8v1M492 8v1M493 8v1M498 8v1M527 8v1M529 8v1M531 8v1M532 8v1M537 8v1M59 9v1M86 9v1M97 9v1M122 9v1M132 9v1M176 9v1M203 9v1M237 9v1M272 9v1M274 9v1M283 9v1M290 9v1M299 9v1M300 9v1M323 9v1M327 9v1M331 9v1M337 9v1M344 9v1M364 9v1M383 9v1M396 9v1M405 9v1M414 9v1M432 9v1M433 9v1M437 9v1M454 9v1M457 9v1M496 9v1M518 9v1M17 10v1M20 10v1M24 10v1M39 10v1M41 10v1M56 10v1M69 10v1M94 10v1M116 10v1M133 10v1M146 10v1M157 10v1M160 10v1M165 10v1M181 10v1M187 10v1M192 10v1M270 10v1M271 10v1M288 10v1M292 10v1M298 10v1M338 10v1M343 10v1M348 10v1M356 10v1M357 10v1M370 10v1M393 10v1M403 10v1M423 10v1M438 10v1M456 10v1M472 10v1M518 10v1M527 10v1M535 10v1M24 11v1M25 11v1M54 11v1M58 11v1M75 11v1M86 11v1M150 11v1M255 11v1M280 11v1M289 11v1M292 11v1M299 11v1M306 11v1M325 11v1M434 11v1M442 11v1M445 11v1M482 11v1M488 11v1M501 11v1M506 11v1M507 11v1M534 11v1M9 12v1M16 12v1M25 12v1M27 12v1M36 12v1M43 12v1M44 12v1M45 12v1M85 12v1M90 12v1M101 12v1M148 12v1M153 12v1M158 12v1M161 12v1M163 12v1M167 12v1M168 12v1M176 12v1M181 12v1M185 12v1M192 12v1M199 12v1M203 12v1M204 12v1M208 12v1M213 12v1M217 12v1M222 12v1M224 12v1M228 12v1M245 12v1M249 12v1M257 12v1M291 12v1M377 12v1M400 12v1M401 12v1M406 12v1M411 12v1M452 12v1M530 12v1M1 13v1M25 13v1M120 13v1M121 13v1M140 13v1M168 13v1M271 13v1M280 13v1M284 13v1M291 13v1M295 13v1M302 13v1M304 13v1M319 13v1M353 13v1M361 13v1M362 13v1M367 13v1M374 13v1M391 13v1M394 13v1M415 13v1M441 13v1M453 13v1M481 13v1M484 13v1M489 13v1M490 13v1M492 13v1M497 13v1M506 13v1M520 13v1M529 13v1M532 13v1M539 13v1M22 14v1M45 14v1M54 14v1M60 14v1M101 14v1M109 14v1M114 14v1M130 14v1M132 14v1M143 14v1M146 14v1M205 14v1M243 14v1M255 14v1M261 14v1M291 14v1M295 14v1M358 14v1M442 14v1M475 14v1M504 14v1M522 14v1M527 14v1M8 15v1M21 15v1M35 15v1M64 15v1M66 15v1M72 15v1M73 15v1M97 15v1M194 15v1M232 15v1M326 15v1M347 15v1M392 15v1M394 15v1M398 15v1M424 15v1M452 15v1M470 15v1M486 15v1M495 15v1M511 15v1M517 15v1M3 16v1M4 16v1M8 16v1M61 16v1M103 16v1M109 16v1M111 16v1M162 16v1M178 16v1M204 16v1M216 16v1M253 16v1M273 16v1M275 16v1M285 16v1M367 16v1M382 16v1M400 16v1M403 16v1M404 16v1M416 16v1M424 16v1M429 16v1M437 16v1M442 16v1M447 16v1M468 16v1M486 16v1M489 16v1M501 16v1M504 16v1M521 16v1M525 16v1M539 16v1"/>
<path stroke="#ccccff" d="M0 0v1M1 0v1M16 0v1M41 0v1M71 0v1M75 0v1M80 0v1M82 0v1M90 0v1M91 0v1M97 0v1M104 0v1M111 0v1M127 0v1M132 0v1M139 0v1M149 0v1M156 0v1M159 0v1M161 0v1M168 0v1M209 0v1M225 0v1M255 0v1M257 0v1M258 0v1M270 0v1M273 0v1M289 0v1M290 0v1M293 0v1M301 0v1M305 0v1M309 0v1M310 0v1M315 0v1M329 0v1M333 0v1M349 0v1M357 0v1M360 0v1M388 0v1M397 0v1M399 0v1M403 0v1M414 0v1M416 0v1M426 0v1M444 0v1M453 0v1M455 0v1M460 0v1M467 0v1M475 0v1M476 0v1M485 0v1M486 0v1M512 0v1M521 0v1M4 1v1M19 1v1M34 1v1M36 1v1M43 1v1M55 1v1M56 1v1M60 1v1M64 1v1M68 1v1M69 1v1M74 1v1M105 1v1M114 1v1M127 1v1M133 1v1M135 1v1M142 1v1M148 1v1M157 1v1M161 1v1M162 1v1M165 1v1M167 1v1M175 1v1M199 1v1M214 1v1M229 1v1M244 1v1M245 1v1M259 1v1M260 1v1M272 1v1M273 1v1M296 1v1M306 1v1M308 1v1M309 1v1M312 1v1M314 1v1M316 1v1M321 1v1M335 1v1M342 1v1M355 1v1M356 1v1M363 1v1M369 1v1M371 1v1M378 1v1M385 1v1M407 1v1M409 1v1M425 1v1M426 1v1M430 1v1M435 1v1M437 1v1M440 1v1M442 1v1M446 1v1M463 1v1M470 1v1M472 1v1M481 1v1M489 1v1M499 1v1M500 1v1M501 1v1M502 1v1M505 1v1M511 1v1M524 1v1M8 2v1M12 2v1M17 2v1M40 2v1M49 2v1M50 2v1M51 2v1M58 2v1M64 2v1M69 2v1M74 2v1M80 2v1M89 2v1M91 2v1M101 2v1M116 2v1M121 2v1M124 2v1M128 2v1M131 2v1M136 2v1M139 2v1M140 2v1M143 2v1M148 2v1M150 2v1M154 2v1M158 2v1M164 2v1M182 2v1M188 2v1M193 2v1M200 2v1M209 2v1M214 2v1M219 2v1M235 2v1M247 2v1M252 2v1M263 2v1M267 2v1M273 2v1M291 2v1M300 2v1M306 2v1M319 2v1M322 2v1M352 2v1M375 2v1M380 2v1M388 2v1M397 2v1M409 2v1M412 2v1M420 2v1M433 2v1M437 2v1M461 2v1M480 2v1M486 2v1M490 2v1M502 2v1M516 2v1M4 3v1M8 3v1M42 3v1M45 3v1M95 3v1M103 3v1M105 3v1M114 3v1M119 3v1M141 3v1M156 3v1M158 3v1M163 3v1M167 3v1M173 3v1M181 3v1M184 3v1M188 3v1M194 3v1M196 3v1M230 3v1M232 3v1M243 3v1M246 3v1M248 3v1M249 3v1M264 3v1M271 3v1M279 3v1M288 3v1M295 3v1M302 3v1M309 3v1M319 3v1M324 3v1M340 3v1M342 3v1M343 3v1M347 3v1M350 3v1M369 3v1M370 3v1M376 3v1M381 3v1M382 3v1M383 3v1M394 3v1M397 3v1M400 3v1M401 3v1M402 3v1M406 3v1M410 3v1M424 3v1M426 3v1M428 3v1M432 3v1M435 3v1M437 3v1M442 3v1M443 3v1M444 3v1M449 3v1M450 3v1M452 3v1M455 3v1M456 3v1M465 3v1M478 3v1M481 3v1M487 3v1M488 3v1M489 3v1M493 3v1M494 3v1M503 3v1M505 3v1M507 3v1M512 3v1M520 3v1M521 3v1M523 3v1M526 3v1M530 3v1M535 3v1M538 3v1M19 4v1M21 4v1M40 4v1M85 4v1M95 4v1M106 4v1M109 4v1M179 4v1M180 4v1M187 4v1M197 4v1M219 4v1M232 4v1M240 4v1M257 4v1M269 4v1M271 4v1M273 4v1M295 4v1M300 4v1M306 4v1M315 4v1M318 4v1M332 4v1M334 4v1M337 4v1M340 4v1M342 4v1M346 4v1M353 4v1M358 4v1M361 4v1M369 4v1M370 4v1M391 4v1M397 4v1M406 4v1M418 4v1M420 4v1M421 4v1M432 4v1M436 4v1M440 4v1M441 4v1M443 4v1M445 4v1M446 4v1M450 4v1M457 4v1M460 4v1M467 4v1M469 4v1M470 4v1M471 4v1M478 4v1M484 4v1M491 4v1M510 4v1M518 4v1M523 4v1M524 4v1M527 4v1M528 4v1M529 4v1M531 4v1M4 5v1M16 5v1M22 5v1M25 5v1M47 5v1M73 5v1M108 5v1M124 5v1M125 5v1M139 5v1M153 5v1M155 5v1M159 5v1M167 5v1M172 5v1M174 5v1M194 5v1M203 5v1M267 5v1M268 5v1M274 5v1M289 5v1M294 5v1M302 5v1M312 5v1M319 5v1M328 5v1M335 5v1M359 5v1M388 5v1M390 5v1M397 5v1M400 5v1M406 5v1M409 5v1M410 5v1M414 5v1M436 5v1M439 5v1M455 5v1M457 5v1M476 5v1M484 5v1M485 5v1M493 5v1M509 5v1M510 5v1M525 5v1M526 5v1M528 5v1M13 6v1M36 6v1M44 6v1M46 6v1M62 6v1M85 6v1M96 6v1M98 6v1M107 6v1M138 6v1M149 6v1M169 6v1M171 6v1M193 6v1M197 6v1M222 6v1M256 6v1M257 6v1M261 6v1M265 6v1M268 6v1M269 6v1M275 6v1M281 6v1M284 6v1M302 6v1M306 6v1M328 6v1M331 6v1M337 6v1M342 6v1M346 6v1M352 6v1M361 6v1M364 6v1M372 6v1M379 6v1M380 6v1M397 6v1M402 6v1M432 6v1M440 6v1M478 6v1M488 6v1M498 6v1M501 6v1M503 6v1M530 6v1M534 6v1M537 6v1M4 7v1M14 7v1M15 7v1M23 7v1M26 7v1M34 7v1M38 7v1M50 7v1M66 7v1M78 7v1M82 7v1M126 7v1M128 7v1M157 7v1M162 7v1M173 7v1M175 7v1M178 7v1M193 7v1M205 7v1M214 7v1M220 7v1M235 7v1M244 7v1M263 7v1M272 7v1M277 7v1M278 7v1M279 7v1M294 7v1M317 7v1M322 7v1M341 7v1M347 7v1M360 7v1M363 7v1M369 7v1M373 7v1M382 7v1M389 7v1M394 7v1M416 7v1M425 7v1M427 7v1M433 7v1M447 7v1M452 7v1M455 7v1M456 7v1M462 7v1M467 7v1M468 7v1M469 7v1M491 7v1M508 7v1M511 7v1M533 7v1M21 8v1M63 8v1M67 8v1M75 8v1M81 8v1M86 8v1M117 8v1M154 8v1M174 8v1M198 8v1M206 8v1M227 8v1M233 8v1M246 8v1M248 8v1M262 8v1M271 8v1M280 8v1M285 8v1M289 8v1M290 8v1M308 8v1M311 8v1M321 8v1M325 8v1M345 8v1M346 8v1M350 8v1M353 8v1M360 8v1M365 8v1M373 8v1M381 8v1M384 8v1M386 8v1M389 8v1M396 8v1M398 8v1M402 8v1M405 8v1M409 8v1M413 8v1M414 8v1M424 8v1M429 8v1M430 8v1M439 8v1M440 8v1M441 8v1M445 8v1M448 8v1M449 8v1M454 8v1M467 8v1M469 8v1M480 8v1M496 8v1M499 8v1M500 8v1M502 8v1M507 8v1M512 8v1M514 8v1M517 8v1M521 8v1M525 8v1M534 8v1M1 9v1M14 9v1M25 9v1M32 9v1M39 9v1M46 9v1M60 9v1M65 9v1M70 9v1M88 9v1M98 9v1M99 9v1M142 9v1M158 9v1M200 9v1M206 9v1M245 9v1M271 9v1M275 9v1M279 9v1M285 9v1M302 9v1M313 9v1M316 9v1M328 9v1M330 9v1M333 9v1M342 9v1M361 9v1M369 9v1M370 9v1M381 9v1M395 9v1M403 9v1M418 9v1M423 9v1M425 9v1M449 9v1M450 9v1M453 9v1M468 9v1M476 9v1M477 9v1M499 9v1M504 9v1M510 9v1M520 9v1M535 9v1M7 10v1M8 10v1M31 10v1M36 10v1M53 10v1M75 10v1M88 10v1M89 10v1M96 10v1M105 10v1M109 10v1M125 10v1M126 10v1M128 10v1M132 10v1M137 10v1M177 10v1M179 10v1M217 10v1M227 10v1M231 10v1M238 10v1M242 10v1M245 10v1M248 10v1M249 10v1M260 10v1M272 10v1M279 10v1M295 10v1M314 10v1M322 10v1M350 10v1M354 10v1M355 10v1M364 10v1M367 10v1M379 10v1M380 10v1M381 10v1M384 10v1M394 10v1M401 10v1M409 10v1M420 10v1M422 10v1M427 10v1M453 10v1M455 10v1M463 10v1M466 10v1M492 10v1M505 10v1M1 11v1M26 11v1M29 11v1M39 11v1M52 11v1M55 11v1M56 11v1M60 11v1M133 11v1M145 11v1M154 11v1M167 11v1M211 11v1M222 11v1M231 11v1M239 11v1M240 11v1M264 11v1M283 11v1M284 11v1M314 11v1M316 11v1M317 11v1M338 11v1M339 11v1M356 11v1M359 11v1M363 11v1M366 11v1M375 11v1M378 11v1M381 11v1M388 11v1M399 11v1M401 11v1M407 11v1M412 11v1M415 11v1M424 11v1M437 11v1M444 11v1M461 11v1M467 11v1M468 11v1M474 11v1M476 11v1M480 11v1M489 11v1M503 11v1M504 11v1M510 11v1M523 11v1M526 11v1M530 11v1M8 12v1M10 12v1M11 12v1M13 12v1M19 12v1M23 12v1M24 12v1M30 12v1M34 12v1M37 12v1M46 12v1M47 12v1M62 12v1M70 12v1M71 12v1M77 12v1M80 12v1M84 12v1M86 12v1M88 12v1M89 12v1M91 12v1M92 12v1M99 12v1M100 12v1M104 12v1M110 12v1M120 12v1M124 12v1M125 12v1M130 12v1M138 12v1M145 12v1M146 12v1M152 12v1M157 12v1M159 12v1M171 12v1M172 12v1M188 12v1M200 12v1M219 12v1M227 12v1M232 12v1M235 12v1M243 12v1M244 12v1M246 12v1M252 12v1M258 12v1M261 12v1M264 12v1M267 12v1M282 12v1M283 12v1M292 12v1M299 12v1M326 12v1M343 12v1M346 12v1M369 12v1M372 12v1M380 12v1M428 12v1M440 12v1M444 12v1M450 12v1M460 12v1M467 12v1M468 12v1M472 12v1M513 12v1M534 12v1M0 13v1M13 13v1M26 13v1M41 13v1M43 13v1M59 13v1M69 13v1M76 13v1M87 13v1M92 13v1M97 13v1M98 13v1M114 13v1M118 13v1M131 13v1M147 13v1M157 13v1M159 13v1M163 13v1M166 13v1M185 13v1M191 13v1M194 13v1M221 13v1M234 13v1M239 13v1M263 13v1M276 13v1M278 13v1M281 13v1M289 13v1M290 13v1M309 13v1M311 13v1M312 13v1M340 13v1M350 13v1M355 13v1M358 13v1M365 13v1M368 13v1M376 13v1M378 13v1M380 13v1M393 13v1M403 13v1M405 13v1M410 13v1M423 13v1M425 13v1M431 13v1M438 13v1M447 13v1M450 13v1M464 13v1M479 13v1M501 13v1M504 13v1M507 13v1M512 13v1M518 13v1M2 14v1M13 14v1M14 14v1M17 14v1M20 14v1M27 14v1M29 14v1M31 14v1M42 14v1M49 14v1M56 14v1M59 14v1M64 14v1M85 14v1M93 14v1M107 14v1M112 14v1M115 14v1M117 14v1M121 14v1M126 14v1M136 14v1M165 14v1M169 14v1M181 14v1M184 14v1M190 14v1M196 14v1M204 14v1M221 14v1M234 14v1M236 14v1M242 14v1M259 14v1M263 14v1M269 14v1M299 14v1M317 14v1M318 14v1M333 14v1M346 14v1M348 14v1M349 14v1M350 14v1M353 14v1M376 14v1M392 14v1M426 14v1M433 14v1M436 14v1M446 14v1M449 14v1M455 14v1M456 14v1M461 14v1M489 14v1M501 14v1M503 14v1M507 14v1M526 14v1M24 15v1M36 15v1M48 15v1M78 15v1M82 15v1M91 15v1M110 15v1M144 15v1M148 15v1M153 15v1M175 15v1M181 15v1M185 15v1M193 15v1M197 15v1M211 15v1M234 15v1M235 15v1M244 15v1M245 15v1M270 15v1M272 15v1M277 15v1M279 15v1M283 15v1M285 15v1M295 15v1M306 15v1M310 15v1M312 15v1M316 15v1M322 15v1M333 15v1M334 15v1M336 15v1M341 15v1M364 15v1M371 15v1M373 15v1M375 15v1M386 15v1M389 15v1M396 15v1M405 15v1M411 15v1M415 15v1M467 15v1M469 15v1M471 15v1M472 15v1M473 15v1M484 15v1M492 15v1M496 15v1M502 15v1M530 15v1M534 15v1M536 15v1M538 15v1M539 15v1M25 16v1M28 16v1M69 16v1M73 16v1M89 16v1M100 16v1M115 16v1M116 16v1M126 16v1M144 16v1M145 16v1M150 16v1M157 16v1M183 16v1M198 16v1M210 16v1M269 16v1M272 16v1M281 16v1M288 16v1M291 16v1M300 16v1M308 16v1M313 16v1M317 16v1M319 16v1M323 16v1M336 16v1M339 16v1M376 16v1M377 16v1M396 16v1M397 16v1M401 16v1M406 16v1M407 16v1M413 16v1M414 16v1M431 16v1M453 16v1M460 16v1M461 16v1M463 16v1M466 16v1M473 16v1M476 16v1M483 16v1M492 16v1M508 16v1M509 16v1M511 16v1M538 16v1"/>
<path stroke="#e6e6ff" d="M10 0v1M13 0v1M18 0v1M24 0v1M25 0v1M34 0v1M42 0v1M48 0v1M50 0v1M62 0v1M66 0v1M72 0v1M77 0v1M81 0v1M92 0v1M103 0v1M107 0v1M109 0v1M121 0v1M129 0v1M135 0v1M138 0v1M141 0v1M150 0v1M152 0v1M162 0v1M164 0v1M170 0v1M172 0v1M182 0v1M184 0v1M185 0v1M203 0v1M210 0v1M215 0v1M224 0v1M240 0v1M247 0v1M250 0v1M254 0v1M276 0v1M278 0v1M280 0v1M286 0v1M291 0v1M295 0v1M298 0v1M299 0v1M302 0v1M311 0v1M313 0v1M319 0v1M320 0v1M327 0v1M328 0v1M332 0v1M334 0v1M335 0v1M337 0v1M338 0v1M341 0v1M342 0v1M346 0v1M348 0v1M350 0v1M356 0v1M359 0v1M365 0v1M366 0v1M368 0v1M370 0v1M371 0v1M377 0v1M380 0v1M383 0v1M384 0v1M385 0v1M387 0v1M394 0v1M395 0v1M401 0v1M404 0v1M407 0v1M411 0v1M413 0v1M428 0v1M429 0v1M434 0v1M435 0v1M437 0v1M438 0v1M448 0v1M449 0v1M458 0v1M463 0v1M465 0v1M469 0v1M477 0v1M481 0v1M484 0v1M491 0v1M492 0v1M497 0v1M500 0v1M507 0v1M510 0v1M517 0v1M519 0v1M520 0v1M523 0v1M529 0v1M530 0v1M534 0v1M539 0v1M2 1v1M9 1v1M25 1v1M31 1v1M33 1v1M40 1v1M41 1v1M50 1v1M51 1v1M53 1v1M57 1v1M75 1v1M76 1v1M77 1v1M78 1v1M79 1v1M89 1v1M91 1v1M92 1v1M93 1v1M96 1v1M102 1v1M109 1v1M111 1v1M112 1v1M123 1v1M145 1v1M146 1v1M174 1v1M177 1v1M187 1v1M192 1v1M204 1v1M223 1v1M230 1v1M233 1v1M237 1v1M240 1v1M243 1v1M246 1v1M247 1v1M248 1v1M250 1v1M253 1v1M261 1v1M262 1v1M285 1v1M287 1v1M292 1v1M297 1v1M307 1v1M313 1v1M315 1v1M318 1v1M323 1v1M324 1v1M331 1v1M332 1v1M352 1v1M357 1v1M374 1v1M375 1v1M377 1v1M382 1v1M386 1v1M387 1v1M390 1v1M392 1v1M395 1v1M396 1v1M397 1v1M400 1v1M406 1v1M411 1v1M413 1v1M422 1v1M429 1v1M432 1v1M433 1v1M438 1v1M439 1v1M443 1v1M444 1v1M445 1v1M450 1v1M452 1v1M458 1v1M459 1v1M460 1v1M461 1v1M464 1v1M474 1v1M478 1v1M495 1v1M497 1v1M519 1v1M525 1v1M529 1v1M531 1v1M533 1v1M538 1v1M539 1v1M9 2v1M11 2v1M13 2v1M37 2v1M38 2v1M43 2v1M52 2v1M53 2v1M54 2v1M61 2v1M66 2v1M73 2v1M82 2v1M87 2v1M106 2v1M107 2v1M113 2v1M114 2v1M117 2v1M120 2v1M122 2v1M125 2v1M138 2v1M144 2v1M151 2v1M156 2v1M159 2v1M167 2v1M170 2v1M184 2v1M197 2v1M202 2v1M205 2v1M206 2v1M208 2v1M211 2v1M216 2v1M225 2v1M228 2v1M231 2v1M232 2v1M242 2v1M245 2v1M250 2v1M255 2v1M256 2v1M264 2v1M266 2v1M270 2v1M271 2v1M281 2v1M285 2v1M286 2v1M293 2v1M304 2v1M305 2v1M310 2v1M311 2v1M313 2v1M321 2v1M326 2v1M331 2v1M337 2v1M357 2v1M360 2v1M365 2v1M367 2v1M369 2v1M373 2v1M378 2v1M383 2v1M386 2v1M394 2v1M395 2v1M396 2v1M398 2v1M399 2v1M405 2v1M406 2v1M414 2v1M422 2v1M434 2v1M436 2v1M450 2v1M455 2v1M459 2v1M463 2v1M466 2v1M469 2v1M476 2v1M488 2v1M499 2v1M500 2v1M503 2v1M504 2v1M510 2v1M512 2v1M514 2v1M520 2v1M521 2v1M531 2v1M533 2v1M3 3v1M10 3v1M26 3v1M28 3v1M32 3v1M36 3v1M41 3v1M44 3v1M49 3v1M57 3v1M62 3v1M69 3v1M73 3v1M77 3v1M81 3v1M85 3v1M89 3v1M92 3v1M104 3v1M106 3v1M108 3v1M116 3v1M127 3v1M134 3v1M136 3v1M143 3v1M147 3v1M154 3v1M155 3v1M170 3v1M172 3v1M179 3v1M186 3v1M214 3v1M215 3v1M222 3v1M228 3v1M240 3v1M247 3v1M251 3v1M252 3v1M254 3v1M262 3v1M272 3v1M281 3v1M282 3v1M283 3v1M284 3v1M286 3v1M289 3v1M293 3v1M307 3v1M308 3v1M310 3v1M311 3v1M313 3v1M315 3v1M318 3v1M339 3v1M344 3v1M349 3v1M352 3v1M353 3v1M355 3v1M358 3v1M359 3v1M371 3v1M372 3v1M373 3v1M374 3v1M380 3v1M384 3v1M389 3v1M391 3v1M396 3v1M404 3v1M411 3v1M417 3v1M420 3v1M423 3v1M427 3v1M433 3v1M445 3v1M446 3v1M447 3v1M461 3v1M468 3v1M470 3v1M471 3v1M479 3v1M482 3v1M483 3v1M491 3v1M497 3v1M499 3v1M500 3v1M504 3v1M517 3v1M518 3v1M525 3v1M527 3v1M531 3v1M533 3v1M26 4v1M36 4v1M44 4v1M45 4v1M46 4v1M51 4v1M62 4v1M63 4v1M64 4v1M72 4v1M77 4v1M78 4v1M88 4v1M94 4v1M101 4v1M107 4v1M111 4v1M118 4v1M119 4v1M120 4v1M122 4v1M123 4v1M126 4v1M142 4v1M144 4v1M157 4v1M159 4v1M165 4v1M166 4v1M171 4v1M177 4v1M188 4v1M198 4v1M201 4v1M213 4v1M220 4v1M231 4v1M239 4v1M241 4v1M258 4v1M263 4v1M278 4v1M282 4v1M284 4v1M298 4v1M302 4v1M310 4v1M312 4v1M314 4v1M317 4v1M324 4v1M327 4v1M333 4v1M339 4v1M345 4v1M347 4v1M355 4v1M366 4v1M367 4v1M368 4v1M382 4v1M387 4v1M392 4v1M393 4v1M395 4v1M396 4v1M400 4v1M405 4v1M411 4v1M413 4v1M415 4v1M424 4v1M425 4v1M438 4v1M448 4v1M456 4v1M462 4v1M468 4v1M480 4v1M482 4v1M485 4v1M488 4v1M490 4v1M495 4v1M504 4v1M505 4v1M511 4v1M514 4v1M515 4v1M517 4v1M536 4v1M11 5v1M12 5v1M15 5v1M31 5v1M52 5v1M66 5v1M71 5v1M90 5v1M93 5v1M94 5v1M96 5v1M98 5v1M120 5v1M126 5v1M132 5v1M133 5v1M135 5v1M158 5v1M166 5v1M170 5v1M180 5v1M192 5v1M195 5v1M199 5v1M209 5v1M214 5v1M224 5v1M228 5v1M236 5v1M237 5v1M241 5v1M244 5v1M252 5v1M253 5v1M255 5v1M269 5v1M275 5v1M276 5v1M290 5v1M293 5v1M299 5v1M309 5v1M310 5v1M311 5v1M320 5v1M321 5v1M323 5v1M325 5v1M336 5v1M340 5v1M343 5v1M348 5v1M352 5v1M357 5v1M358 5v1M366 5v1M368 5v1M369 5v1M373 5v1M375 5v1M377 5v1M378 5v1M382 5v1M387 5v1M389 5v1M393 5v1M395 5v1M396 5v1M398 5v1M403 5v1M408 5v1M415 5v1M420 5v1M421 5v1M422 5v1M447 5v1M449 5v1M458 5v1M465 5v1M471 5v1M478 5v1M479 5v1M489 5v1M495 5v1M498 5v1M499 5v1M500 5v1M507 5v1M523 5v1M531 5v1M534 5v1M538 5v1M539 5v1M1 6v1M6 6v1M12 6v1M29 6v1M48 6v1M49 6v1M51 6v1M52 6v1M55 6v1M56 6v1M71 6v1M74 6v1M81 6v1M88 6v1M90 6v1M95 6v1M100 6v1M102 6v1M106 6v1M108 6v1M119 6v1M124 6v1M129 6v1M130 6v1M133 6v1M134 6v1M144 6v1M148 6v1M154 6v1M157 6v1M163 6v1M170 6v1M179 6v1M191 6v1M192 6v1M199 6v1M202 6v1M203 6v1M206 6v1M210 6v1M213 6v1M220 6v1M223 6v1M228 6v1M230 6v1M235 6v1M246 6v1M263 6v1M285 6v1M286 6v1M292 6v1M293 6v1M299 6v1M303 6v1M312 6v1M315 6v1M323 6v1M325 6v1M332 6v1M333 6v1M335 6v1M338 6v1M340 6v1M343 6v1M347 6v1M350 6v1M362 6v1M367 6v1M370 6v1M387 6v1M389 6v1M391 6v1M392 6v1M394 6v1M395 6v1M404 6v1M406 6v1M408 6v1M410 6v1M414 6v1M424 6v1M426 6v1M446 6v1M448 6v1M450 6v1M456 6v1M458 6v1M468 6v1M475 6v1M482 6v1M505 6v1M508 6v1M515 6v1M516 6v1M519 6v1M521 6v1M527 6v1M528 6v1M539 6v1M2 7v1M5 7v1M11 7v1M17 7v1M24 7v1M30 7v1M32 7v1M43 7v1M46 7v1M47 7v1M52 7v1M58 7v1M60 7v1M67 7v1M79 7v1M80 7v1M83 7v1M88 7v1M91 7v1M93 7v1M98 7v1M110 7v1M116 7v1M119 7v1M137 7v1M149 7v1M155 7v1M156 7v1M159 7v1M163 7v1M164 7v1M170 7v1M180 7v1M183 7v1M185 7v1M186 7v1M188 7v1M202 7v1M209 7v1M210 7v1M212 7v1M223 7v1M224 7v1M230 7v1M242 7v1M250 7v1M251 7v1M257 7v1M258 7v1M260 7v1M261 7v1M264 7v1M265 7v1M266 7v1M268 7v1M273 7v1M274 7v1M276 7v1M282 7v1M291 7v1M293 7v1M298 7v1M311 7v1M328 7v1M336 7v1M349 7v1M352 7v1M353 7v1M356 7v1M364 7v1M366 7v1M368 7v1M370 7v1M377 7v1M380 7v1M383 7v1M384 7v1M386 7v1M393 7v1M398 7v1M405 7v1M413 7v1M415 7v1M419 7v1M430 7v1M438 7v1M440 7v1M450 7v1M458 7v1M459 7v1M470 7v1M478 7v1M484 7v1M485 7v1M498 7v1M523 7v1M528 7v1M529 7v1M537 7v1M2 8v1M27 8v1M44 8v1M51 8v1M52 8v1M66 8v1M68 8v1M73 8v1M77 8v1M87 8v1M93 8v1M119 8v1M121 8v1M122 8v1M130 8v1M135 8v1M138 8v1M139 8v1M140 8v1M147 8v1M149 8v1M159 8v1M163 8v1M167 8v1M170 8v1M172 8v1M178 8v1M180 8v1M182 8v1M184 8v1M190 8v1M197 8v1M200 8v1M239 8v1M241 8v1M245 8v1M247 8v1M251 8v1M253 8v1M258 8v1M263 8v1M268 8v1M272 8v1M277 8v1M278 8v1M281 8v1M286 8v1M288 8v1M292 8v1M293 8v1M295 8v1M297 8v1M314 8v1M317 8v1M322 8v1M326 8v1M328 8v1M333 8v1M334 8v1M340 8v1M342 8v1M348 8v1M351 8v1M356 8v1M361 8v1M362 8v1M364 8v1M368 8v1M371 8v1M372 8v1M375 8v1M377 8v1M378 8v1M383 8v1M391 8v1M400 8v1M401 8v1M403 8v1M406 8v1M411 8v1M416 8v1M417 8v1M423 8v1M426 8v1M432 8v1M433 8v1M437 8v1M438 8v1M442 8v1M443 8v1M446 8v1M447 8v1M451 8v1M453 8v1M455 8v1M459 8v1M461 8v1M466 8v1M471 8v1M472 8v1M481 8v1M485 8v1M487 8v1M488 8v1M490 8v1M494 8v1M497 8v1M501 8v1M509 8v1M515 8v1M524 8v1M533 8v1M538 8v1M2 9v1M6 9v1M17 9v1M18 9v1M21 9v1M26 9v1M31 9v1M33 9v1M34 9v1M41 9v1M48 9v1M49 9v1M50 9v1M58 9v1M68 9v1M72 9v1M73 9v1M85 9v1M90 9v1M93 9v1M101 9v1M107 9v1M116 9v1M118 9v1M124 9v1M127 9v1M130 9v1M131 9v1M149 9v1M154 9v1M177 9v1M182 9v1M194 9v1M208 9v1M212 9v1M217 9v1M239 9v1M249 9v1M263 9v1M264 9v1M265 9v1M273 9v1M280 9v1M287 9v1M292 9v1M293 9v1M296 9v1M305 9v1M308 9v1M317 9v1M321 9v1M325 9v1M326 9v1M332 9v1M341 9v1M346 9v1M351 9v1M356 9v1M362 9v1M366 9v1M367 9v1M368 9v1M373 9v1M379 9v1M384 9v1M389 9v1M392 9v1M400 9v1M401 9v1M406 9v1M407 9v1M410 9v1M411 9v1M415 9v1M416 9v1M420 9v1M428 9v1M430 9v1M436 9v1M439 9v1M445 9v1M446 9v1M448 9v1M458 9v1M459 9v1M462 9v1M464 9v1M466 9v1M467 9v1M475 9v1M479 9v1M483 9v1M484 9v1M487 9v1M493 9v1M503 9v1M508 9v1M512 9v1M513 9v1M514 9v1M527 9v1M539 9v1M4 10v1M16 10v1M19 10v1M27 10v1M29 10v1M32 10v1M34 10v1M35 10v1M38 10v1M51 10v1M54 10v1M55 10v1M71 10v1M80 10v1M84 10v1M95 10v1M102 10v1M106 10v1M111 10v1M114 10v1M120 10v1M122 10v1M127 10v1M134 10v1M135 10v1M143 10v1M144 10v1M154 10v1M159 10v1M176 10v1M182 10v1M186 10v1M194 10v1M207 10v1M208 10v1M210 10v1M222 10v1M224 10v1M230 10v1M234 10v1M236 10v1M254 10v1M267 10v1M273 10v1M274 10v1M275 10v1M284 10v1M294 10v1M300 10v1M318 10v1M323 10v1M329 10v1M334 10v1M340 10v1M344 10v1M352 10v1M358 10v1M362 10v1M363 10v1M368 10v1M369 10v1M374 10v1M376 10v1M378 10v1M392 10v1M396 10v1M399 10v1M400 10v1M404 10v1M408 10v1M412 10v1M415 10v1M419 10v1M428 10v1M433 10v1M436 10v1M440 10v1M450 10v1M457 10v1M459 10v1M462 10v1M473 10v1M474 10v1M483 10v1M487 10v1M488 10v1M494 10v1M499 10v1M503 10v1M504 10v1M510 10v1M516 10v1M526 10v1M533 10v1M0 11v1M2 11v1M12 11v1M16 11v1M30 11v1M40 11v1M42 11v1M48 11v1M50 11v1M61 11v1M77 11v1M94 11v1M97 11v1M99 11v1M103 11v1M104 11v1M114 11v1M116 11v1M123 11v1M127 11v1M130 11v1M132 11v1M155 11v1M160 11v1M174 11v1M179 11v1M180 11v1M182 11v1M189 11v1M193 11v1M207 11v1M209 11v1M210 11v1M212 11v1M214 11v1M218 11v1M220 11v1M235 11v1M243 11v1M244 11v1M247 11v1M250 11v1M263 11v1M265 11v1M271 11v1M273 11v1M285 11v1M286 11v1M287 11v1M288 11v1M291 11v1M300 11v1M307 11v1M309 11v1M310 11v1M315 11v1M323 11v1M334 11v1M340 11v1M344 11v1M345 11v1M348 11v1M349 11v1M361 11v1M364 11v1M365 11v1M369 11v1M370 11v1M372 11v1M374 11v1M377 11v1M384 11v1M387 11v1M391 11v1M398 11v1M403 11v1M411 11v1M414 11v1M416 11v1M427 11v1M429 11v1M433 11v1M438 11v1M441 11v1M449 11v1M453 11v1M457 11v1M458 11v1M462 11v1M463 11v1M472 11v1M483 11v1M493 11v1M494 11v1M499 11v1M500 11v1M509 11v1M520 11v1M535 11v1M0 12v1M5 12v1M12 12v1M14 12v1M21 12v1M22 12v1M41 12v1M49 12v1M54 12v1M55 12v1M61 12v1M64 12v1M65 12v1M68 12v1M73 12v1M78 12v1M79 12v1M87 12v1M96 12v1M97 12v1M103 12v1M105 12v1M106 12v1M116 12v1M123 12v1M126 12v1M127 12v1M131 12v1M132 12v1M135 12v1M136 12v1M141 12v1M147 12v1M151 12v1M154 12v1M166 12v1M169 12v1M175 12v1M186 12v1M189 12v1M190 12v1M193 12v1M194 12v1M198 12v1M207 12v1M214 12v1M215 12v1M220 12v1M238 12v1M240 12v1M241 12v1M242 12v1M250 12v1M256 12v1M259 12v1M265 12v1M268 12v1M269 12v1M273 12v1M278 12v1M286 12v1M288 12v1M297 12v1M298 12v1M300 12v1M306 12v1M311 12v1M312 12v1M316 12v1M324 12v1M325 12v1M328 12v1M331 12v1M332 12v1M338 12v1M339 12v1M340 12v1M347 12v1M349 12v1M356 12v1M370 12v1M371 12v1M385 12v1M389 12v1M391 12v1M404 12v1M416 12v1M421 12v1M430 12v1M432 12v1M433 12v1M435 12v1M445 12v1M453 12v1M454 12v1M456 12v1M464 12v1M471 12v1M475 12v1M479 12v1M482 12v1M486 12v1M491 12v1M497 12v1M500 12v1M523 12v1M531 12v1M532 12v1M4 13v1M7 13v1M18 13v1M34 13v1M35 13v1M39 13v1M49 13v1M56 13v1M65 13v1M66 13v1M73 13v1M74 13v1M82 13v1M86 13v1M93 13v1M101 13v1M102 13v1M105 13v1M108 13v1M125 13v1M130 13v1M139 13v1M143 13v1M150 13v1M152 13v1M153 13v1M155 13v1M162 13v1M165 13v1M167 13v1M172 13v1M186 13v1M195 13v1M199 13v1M200 13v1M207 13v1M213 13v1M215 13v1M216 13v1M226 13v1M237 13v1M243 13v1M248 13v1M251 13v1M256 13v1M257 13v1M264 13v1M267 13v1M272 13v1M275 13v1M283 13v1M286 13v1M287 13v1M305 13v1M306 13v1M308 13v1M310 13v1M317 13v1M322 13v1M334 13v1M336 13v1M338 13v1M342 13v1M346 13v1M349 13v1M354 13v1M357 13v1M364 13v1M366 13v1M371 13v1M372 13v1M381 13v1M382 13v1M390 13v1M392 13v1M398 13v1M400 13v1M401 13v1M404 13v1M408 13v1M411 13v1M414 13v1M416 13v1M419 13v1M427 13v1M432 13v1M440 13v1M443 13v1M445 13v1M451 13v1M452 13v1M454 13v1M465 13v1M466 13v1M471 13v1M473 13v1M474 13v1M477 13v1M478 13v1M482 13v1M483 13v1M485 13v1M496 13v1M503 13v1M510 13v1M516 13v1M527 13v1M537 13v1M1 14v1M3 14v1M16 14v1M21 14v1M25 14v1M37 14v1M41 14v1M44 14v1M51 14v1M68 14v1M71 14v1M74 14v1M77 14v1M79 14v1M94 14v1M99 14v1M100 14v1M102 14v1M119 14v1M123 14v1M124 14v1M127 14v1M128 14v1M138 14v1M145 14v1M147 14v1M150 14v1M152 14v1M156 14v1M159 14v1M162 14v1M164 14v1M167 14v1M171 14v1M175 14v1M185 14v1M186 14v1M191 14v1M194 14v1M197 14v1M213 14v1M216 14v1M217 14v1M220 14v1M230 14v1M235 14v1M239 14v1M241 14v1M249 14v1M256 14v1M258 14v1M262 14v1M265 14v1M272 14v1M274 14v1M275 14v1M282 14v1M283 14v1M292 14v1M294 14v1M303 14v1M313 14v1M322 14v1M323 14v1M328 14v1M330 14v1M338 14v1M362 14v1M367 14v1M378 14v1M381 14v1M385 14v1M398 14v1M405 14v1M412 14v1M413 14v1M430 14v1M432 14v1M435 14v1M440 14v1M441 14v1M448 14v1M464 14v1M466 14v1M470 14v1M471 14v1M474 14v1M480 14v1M483 14v1M493 14v1M497 14v1M511 14v1M515 14v1M520 14v1M530 14v1M534 14v1M6 15v1M11 15v1M16 15v1M22 15v1M37 15v1M42 15v1M56 15v1M77 15v1M84 15v1M89 15v1M94 15v1M102 15v1M109 15v1M113 15v1M123 15v1M129 15v1M135 15v1M139 15v1M143 15v1M145 15v1M146 15v1M152 15v1M154 15v1M182 15v1M189 15v1M195 15v1M200 15v1M218 15v1M223 15v1M226 15v1M227 15v1M247 15v1M248 15v1M250 15v1M251 15v1M257 15v1M262 15v1M263 15v1M267 15v1M269 15v1M271 15v1M273 15v1M287 15v1M288 15v1M290 15v1M292 15v1M294 15v1M296 15v1M319 15v1M320 15v1M328 15v1M330 15v1M337 15v1M344 15v1M349 15v1M350 15v1M355 15v1M357 15v1M360 15v1M361 15v1M367 15v1M374 15v1M376 15v1M379 15v1M380 15v1M382 15v1M385 15v1M387 15v1M390 15v1M391 15v1M393 15v1M400 15v1M406 15v1M408 15v1M410 15v1M413 15v1M418 15v1M429 15v1M437 15v1M447 15v1M451 15v1M459 15v1M462 15v1M464 15v1M476 15v1M481 15v1M493 15v1M504 15v1M506 15v1M515 15v1M527 15v1M535 15v1M10 16v1M15 16v1M17 16v1M21 16v1M26 16v1M32 16v1M35 16v1M39 16v1M45 16v1M48 16v1M66 16v1M95 16v1M98 16v1M101 16v1M102 16v1M107 16v1M128 16v1M132 16v1M137 16v1M140 16v1M151 16v1M158 16v1M159 16v1M161 16v1M163 16v1M164 16v1M166 16v1M171 16v1M173 16v1M187 16v1M191 16v1M194 16v1M196 16v1M205 16v1M214 16v1M228 16v1M236 16v1M244 16v1M248 16v1M251 16v1M264 16v1M271 16v1M287 16v1M293 16v1M296 16v1M301 16v1M303 16v1M304 16v1M305 16v1M311 16v1M316 16v1M322 16v1M335 16v1M338 16v1M343 16v1M347 16v1M350 16v1M352 16v1M353 16v1M359 16v1M366 16v1M373 16v1M381 16v1M388 16v1M391 16v1M392 16v1M405 16v1M415 16v1M422 16v1M428 16v1M430 16v1M432 16v1M440 16v1M443 16v1M444 16v1M448 16v1M450 16v1M451 16v1M470 16v1M478 16v1M479 16v1M480 16v1M481 16v1M482 16v1M484 16v1M488 16v1M490 16v1M495 16v1M496 16v1M506 16v1M513 16v1M518 16v1M522 16v1M529 16v1M534 16v1"/>
<path stroke="#f0f0ff" d="M15 0v1M17 0v1M20 0v1M23 0v1M43 0v1M54 0v1M58 0v1M78 0v1M86 0v1M89 0v1M108 0v1M116 0v1M131 0v1M142 0v1M160 0v1M167 0v1M181 0v1M186 0v1M191 0v1M192 0v1M196 0v1M223 0v1M233 0v1M241 0v1M256 0v1M263 0v1M284 0v1M296 0v1M303 0v1M307 0v1M312 0v1M321 0v1M323 0v1M343 0v1M372 0v1M375 0v1M381 0v1M410 0v1M412 0v1M415 0v1M419 0v1M422 0v1M432 0v1M433 0v1M436 0v1M443 0v1M446 0v1M451 0v1M470 0v1M479 0v1M487 0v1M488 0v1M496 0v1M498 0v1M503 0v1M532 0v1M7 1v1M21 1v1M22 1v1M35 1v1M39 1v1M42 1v1M61 1v1M65 1v1M66 1v1M73 1v1M84 1v1M95 1v1M106 1v1M119 1v1M136 1v1M150 1v1M153 1v1M154 1v1M155 1v1M160 1v1M166 1v1M182 1v1M194 1v1M196 1v1M198 1v1M201 1v1M206 1v1M207 1v1M220 1v1M225 1v1M258 1v1M267 1v1M268 1v1M278 1v1M279 1v1M293 1v1M303 1v1M320 1v1M327 1v1M330 1v1M333 1v1M336 1v1M339 1v1M345 1v1M348 1v1M351 1v1M361 1v1M364 1v1M370 1v1M380 1v1M410 1v1M415 1v1M424 1v1M454 1v1M467 1v1M477 1v1M484 1v1M486 1v1M490 1v1M494 1v1M496 1v1M498 1v1M506 1v1M510 1v1M516 1v1M14 2v1M23 2v1M28 2v1M30 2v1M32 2v1M35 2v1M46 2v1M48 2v1M56 2v1M59 2v1M65 2v1M76 2v1M78 2v1M88 2v1M108 2v1M123 2v1M135 2v1M145 2v1M149 2v1M155 2v1M157 2v1M161 2v1M183 2v1M213 2v1M222 2v1M229 2v1M276 2v1M290 2v1M318 2v1M338 2v1M343 2v1M345 2v1M348 2v1M359 2v1M385 2v1M428 2v1M430 2v1M435 2v1M438 2v1M443 2v1M444 2v1M452 2v1M458 2v1M460 2v1M484 2v1M485 2v1M496 2v1M505 2v1M513 2v1M519 2v1M523 2v1M535 2v1M9 3v1M17 3v1M19 3v1M27 3v1M29 3v1M35 3v1M43 3v1M48 3v1M54 3v1M71 3v1M84 3v1M99 3v1M110 3v1M111 3v1M165 3v1M174 3v1M178 3v1M198 3v1M201 3v1M204 3v1M212 3v1M217 3v1M224 3v1M229 3v1M239 3v1M255 3v1M260 3v1M277 3v1M301 3v1M303 3v1M326 3v1M329 3v1M335 3v1M354 3v1M365 3v1M398 3v1M407 3v1M412 3v1M429 3v1M475 3v1M495 3v1M510 3v1M516 3v1M6 4v1M7 4v1M33 4v1M49 4v1M50 4v1M96 4v1M113 4v1M128 4v1M133 4v1M148 4v1M156 4v1M181 4v1M183 4v1M193 4v1M194 4v1M204 4v1M208 4v1M209 4v1M215 4v1M221 4v1M238 4v1M244 4v1M245 4v1M286 4v1M288 4v1M307 4v1M328 4v1M338 4v1M344 4v1M360 4v1M362 4v1M364 4v1M374 4v1M375 4v1M378 4v1M383 4v1M388 4v1M390 4v1M398 4v1M401 4v1M416 4v1M431 4v1M458 4v1M461 4v1M463 4v1M465 4v1M472 4v1M473 4v1M477 4v1M492 4v1M521 4v1M522 4v1M532 4v1M534 4v1M537 4v1M14 5v1M54 5v1M61 5v1M99 5v1M104 5v1M111 5v1M112 5v1M115 5v1M130 5v1M144 5v1M161 5v1M163 5v1M179 5v1M182 5v1M197 5v1M205 5v1M215 5v1M229 5v1M233 5v1M261 5v1M272 5v1M273 5v1M284 5v1M285 5v1M287 5v1M292 5v1M295 5v1M298 5v1M304 5v1M306 5v1M322 5v1M327 5v1M332 5v1M334 5v1M351 5v1M376 5v1M380 5v1M383 5v1M405 5v1M407 5v1M412 5v1M413 5v1M418 5v1M442 5v1M445 5v1M450 5v1M456 5v1M460 5v1M461 5v1M472 5v1M477 5v1M481 5v1M487 5v1M490 5v1M494 5v1M496 5v1M501 5v1M514 5v1M515 5v1M518 5v1M521 5v1M522 5v1M527 5v1M22 6v1M25 6v1M58 6v1M59 6v1M61 6v1M69 6v1M78 6v1M101 6v1M104 6v1M121 6v1M122 6v1M137 6v1M188 6v1M198 6v1M211 6v1M216 6v1M237 6v1M240 6v1M243 6v1M259 6v1M266 6v1M291 6v1M339 6v1M356 6v1M357 6v1M378 6v1M409 6v1M412 6v1M427 6v1M431 6v1M433 6v1M443 6v1M445 6v1M461 6v1M462 6v1M477 6v1M484 6v1M493 6v1M496 6v1M513 6v1M10 7v1M20 7v1M27 7v1M59 7v1M68 7v1M76 7v1M86 7v1M104 7v1M111 7v1M115 7v1M127 7v1M152 7v1M166 7v1M167 7v1M174 7v1M182 7v1M187 7v1M194 7v1M197 7v1M199 7v1M206 7v1M219 7v1M225 7v1M226 7v1M229 7v1M239 7v1M243 7v1M247 7v1M249 7v1M254 7v1M256 7v1M267 7v1M270 7v1M275 7v1M297 7v1M309 7v1M312 7v1M315 7v1M318 7v1M329 7v1M331 7v1M337 7v1M338 7v1M344 7v1M351 7v1M354 7v1M355 7v1M372 7v1M375 7v1M379 7v1M388 7v1M411 7v1M417 7v1M423 7v1M424 7v1M449 7v1M451 7v1M463 7v1M472 7v1M475 7v1M477 7v1M479 7v1M486 7v1M492 7v1M499 7v1M503 7v1M504 7v1M510 7v1M520 7v1M525 7v1M536 7v1M0 8v1M15 8v1M17 8v1M18 8v1M19 8v1M24 8v1M30 8v1M39 8v1M57 8v1M59 8v1M60 8v1M61 8v1M74 8v1M97 8v1M98 8v1M99 8v1M132 8v1M156 8v1M160 8v1M173 8v1M176 8v1M199 8v1M205 8v1M208 8v1M210 8v1M228 8v1M240 8v1M242 8v1M249 8v1M267 8v1M315 8v1M324 8v1M327 8v1M329 8v1M330 8v1M335 8v1M349 8v1M367 8v1M376 8v1M382 8v1M385 8v1M390 8v1M394 8v1M425 8v1M428 8v1M431 8v1M460 8v1M463 8v1M468 8v1M470 8v1M483 8v1M489 8v1M511 8v1M5 9v1M7 9v1M12 9v1M19 9v1M27 9v1M40 9v1M54 9v1M69 9v1M75 9v1M79 9v1M80 9v1M81 9v1M87 9v1M117 9v1M119 9v1M134 9v1M135 9v1M143 9v1M157 9v1M159 9v1M168 9v1M173 9v1M188 9v1M197 9v1M202 9v1M214 9v1M216 9v1M219 9v1M227 9v1M244 9v1M248 9v1M250 9v1M259 9v1M282 9v1M291 9v1M294 9v1M295 9v1M297 9v1M298 9v1M311 9v1M314 9v1M318 9v1M320 9v1M329 9v1M336 9v1M350 9v1M374 9v1M376 9v1M385 9v1M386 9v1M391 9v1M399 9v1M408 9v1M431 9v1M442 9v1M482 9v1M489 9v1M491 9v1M495 9v1M497 9v1M511 9v1M515 9v1M519 9v1M0 10v1M3 10v1M40 10v1M42 10v1M45 10v1M72 10v1M81 10v1M83 10v1M91 10v1M92 10v1M97 10v1M108 10v1M115 10v1M118 10v1M121 10v1M131 10v1M139 10v1M162 10v1M174 10v1M178 10v1M184 10v1M202 10v1M205 10v1M211 10v1M221 10v1M226 10v1M233 10v1M244 10v1M247 10v1M250 10v1M255 10v1M268 10v1M283 10v1M286 10v1M307 10v1M309 10v1M312 10v1M316 10v1M321 10v1M332 10v1M333 10v1M336 10v1M337 10v1M339 10v1M359 10v1M361 10v1M373 10v1M377 10v1M385 10v1M387 10v1M397 10v1M402 10v1M405 10v1M411 10v1M434 10v1M437 10v1M448 10v1M449 10v1M451 10v1M458 10v1M470 10v1M480 10v1M493 10v1M495 10v1M502 10v1M519 10v1M522 10v1M536 10v1M5 11v1M14 11v1M21 11v1M23 11v1M35 11v1M71 11v1M74 11v1M84 11v1M108 11v1M111 11v1M117 11v1M119 11v1M120 11v1M140 11v1M151 11v1M153 11v1M162 11v1M163 11v1M166 11v1M176 11v1M178 11v1M184 11v1M192 11v1M195 11v1M199 11v1M205 11v1M236 11v1M245 11v1M248 11v1M254 11v1M272 11v1M279 11v1M293 11v1M294 11v1M319 11v1M331 11v1M341 11v1M368 11v1M382 11v1M385 11v1M390 11v1M395 11v1M400 11v1M406 11v1M409 11v1M419 11v1M420 11v1M428 11v1M439 11v1M446 11v1M447 11v1M460 11v1M473 11v1M487 11v1M490 11v1M497 11v1M514 11v1M515 11v1M525 11v1M529 11v1M18 12v1M20 12v1M38 12v1M40 12v1M48 12v1M52 12v1M56 12v1M63 12v1M83 12v1M95 12v1M115 12v1M134 12v1M139 12v1M144 12v1M165 12v1M184 12v1M201 12v1M202 12v1M205 12v1M206 12v1M209 12v1M211 12v1M218 12v1M230 12v1M237 12v1M254 12v1M260 12v1M263 12v1M266 12v1M277 12v1M281 12v1M284 12v1M302 12v1M307 12v1M319 12v1M333 12v1M361 12v1M367 12v1M373 12v1M378 12v1M388 12v1M393 12v1M398 12v1M403 12v1M424 12v1M425 12v1M449 12v1M457 12v1M463 12v1M465 12v1M474 12v1M483 12v1M489 12v1M492 12v1M498 12v1M505 12v1M507 12v1M509 12v1M520 12v1M527 12v1M2 13v1M16 13v1M17 13v1M20 13v1M28 13v1M31 13v1M32 13v1M55 13v1M71 13v1M78 13v1M89 13v1M113 13v1M126 13v1M133 13v1M146 13v1M149 13v1M161 13v1M202 13v1M210 13v1M224 13v1M233 13v1M235 13v1M268 13v1M270 13v1M273 13v1M288 13v1M293 13v1M296 13v1M299 13v1M315 13v1M337 13v1M339 13v1M359 13v1M360 13v1M363 13v1M373 13v1M375 13v1M377 13v1M379 13v1M399 13v1M407 13v1M421 13v1M428 13v1M429 13v1M437 13v1M457 13v1M458 13v1M460 13v1M461 13v1M470 13v1M487 13v1M495 13v1M499 13v1M500 13v1M526 13v1M535 13v1M7 14v1M19 14v1M23 14v1M34 14v1M35 14v1M36 14v1M38 14v1M70 14v1M75 14v1M80 14v1M82 14v1M95 14v1M105 14v1M113 14v1M116 14v1M129 14v1M139 14v1M151 14v1M155 14v1M166 14v1M178 14v1M200 14v1M231 14v1M268 14v1M273 14v1M276 14v1M286 14v1M287 14v1M298 14v1M300 14v1M301 14v1M327 14v1M354 14v1M368 14v1M374 14v1M377 14v1M384 14v1M399 14v1M401 14v1M403 14v1M418 14v1M423 14v1M437 14v1M443 14v1M467 14v1M485 14v1M525 14v1M537 14v1M23 15v1M30 15v1M41 15v1M44 15v1M47 15v1M51 15v1M53 15v1M74 15v1M75 15v1M76 15v1M79 15v1M98 15v1M106 15v1M107 15v1M120 15v1M124 15v1M136 15v1M159 15v1M161 15v1M174 15v1M177 15v1M178 15v1M183 15v1M188 15v1M190 15v1M202 15v1M213 15v1M217 15v1M228 15v1M230 15v1M236 15v1M238 15v1M239 15v1M260 15v1M266 15v1M280 15v1M298 15v1M305 15v1M309 15v1M313 15v1M318 15v1M325 15v1M329 15v1M332 15v1M348 15v1M351 15v1M352 15v1M356 15v1M366 15v1M368 15v1M369 15v1M370 15v1M430 15v1M441 15v1M444 15v1M450 15v1M454 15v1M456 15v1M460 15v1M485 15v1M488 15v1M494 15v1M500 15v1M508 15v1M513 15v1M516 15v1M519 15v1M522 15v1M523 15v1M524 15v1M526 15v1M531 15v1M537 15v1M2 16v1M12 16v1M31 16v1M33 16v1M47 16v1M49 16v1M53 16v1M58 16v1M99 16v1M106 16v1M127 16v1M129 16v1M169 16v1M190 16v1M200 16v1M232 16v1M234 16v1M250 16v1M259 16v1M268 16v1M277 16v1M279 16v1M280 16v1M284 16v1M289 16v1M298 16v1M299 16v1M314 16v1M333 16v1M342 16v1M344 16v1M349 16v1M355 16v1M357 16v1M370 16v1M379 16v1M380 16v1M385 16v1M387 16v1M389 16v1M394 16v1M398 16v1M399 16v1M411 16v1M426 16v1M427 16v1M458 16v1M459 16v1M465 16v1M471 16v1M472 16v1M524 16v1M527 16v1M533 16v1M535 16v1"/>
<path stroke="#fff0f0" d="M7 0v1M8 0v1M26 0v1M61 0v1M63 0v1M67 0v1M118 0v1M125 0v1M130 0v1M133 0v1M137 0v1M140 0v1M145 0v1M147 0v1M148 0v1M166 0v1M195 0v1M221 0v1M228 0v1M232 0v1M235 0v1M249 0v1M261 0v1M271 0v1M279 0v1M283 0v1M331 0v1M340 0v1M347 0v1M355 0v1M363 0v1M373 0v1M374 0v1M379 0v1M386 0v1M400 0v1M402 0v1M427 0v1M431 0v1M442 0v1M473 0v1M480 0v1M482 0v1M490 0v1M502 0v1M504 0v1M506 0v1M511 0v1M518 0v1M524 0v1M38 1v1M48 1v1M52 1v1M67 1v1M83 1v1M88 1v1M99 1v1M110 1v1M113 1v1M121 1v1M122 1v1M129 1v1M130 1v1M141 1v1M143 1v1M158 1v1M163 1v1M173 1v1M200 1v1M209 1v1M210 1v1M222 1v1M228 1v1M231 1v1M232 1v1M236 1v1M241 1v1M255 1v1M282 1v1M344 1v1M354 1v1M359 1v1M360 1v1M366 1v1M376 1v1M379 1v1M383 1v1M388 1v1M401 1v1M403 1v1M420 1v1M421 1v1M423 1v1M427 1v1M428 1v1M436 1v1M453 1v1M456 1v1M491 1v1M503 1v1M507 1v1M513 1v1M534 1v1M535 1v1M536 1v1M2 2v1M4 2v1M5 2v1M29 2v1M63 2v1M72 2v1M81 2v1M92 2v1M94 2v1M97 2v1M98 2v1M105 2v1M110 2v1M115 2v1M127 2v1M146 2v1M160 2v1M163 2v1M174 2v1M176 2v1M185 2v1M215 2v1M223 2v1M230 2v1M236 2v1M238 2v1M243 2v1M254 2v1M262 2v1M278 2v1M280 2v1M288 2v1M289 2v1M302 2v1M315 2v1M340 2v1M368 2v1M384 2v1M407 2v1M415 2v1M417 2v1M423 2v1M425 2v1M448 2v1M462 2v1M498 2v1M515 2v1M524 2v1M525 2v1M528 2v1M536 2v1M5 3v1M22 3v1M37 3v1M46 3v1M50 3v1M65 3v1M78 3v1M79 3v1M80 3v1M98 3v1M123 3v1M130 3v1M132 3v1M133 3v1M138 3v1M140 3v1M145 3v1M160 3v1M162 3v1M164 3v1M199 3v1M200 3v1M206 3v1M213 3v1M218 3v1M221 3v1M236 3v1M237 3v1M253 3v1M256 3v1M270 3v1M274 3v1M276 3v1M287 3v1M291 3v1M292 3v1M298 3v1M321 3v1M332 3v1M337 3v1M351 3v1M367 3v1M375 3v1M377 3v1M378 3v1M388 3v1M392 3v1M405 3v1M408 3v1M416 3v1M419 3v1M440 3v1M451 3v1M463 3v1M476 3v1M496 3v1M529 3v1M532 3v1M11 4v1M16 4v1M18 4v1M20 4v1M38 4v1M39 4v1M41 4v1M43 4v1M52 4v1M57 4v1M61 4v1M71 4v1M73 4v1M97 4v1M100 4v1M103 4v1M105 4v1M129 4v1M146 4v1M147 4v1M150 4v1M160 4v1M161 4v1M172 4v1M175 4v1M178 4v1M191 4v1M192 4v1M196 4v1M222 4v1M223 4v1M224 4v1M254 4v1M261 4v1M267 4v1M268 4v1M309 4v1M311 4v1M316 4v1M341 4v1M352 4v1M356 4v1M376 4v1M380 4v1M399 4v1M402 4v1M403 4v1M449 4v1M464 4v1M481 4v1M486 4v1M494 4v1M497 4v1M498 4v1M507 4v1M535 4v1M6 5v1M13 5v1M23 5v1M29 5v1M35 5v1M50 5v1M53 5v1M55 5v1M70 5v1M78 5v1M87 5v1M101 5v1M109 5v1M116 5v1M121 5v1M140 5v1M141 5v1M149 5v1M164 5v1M175 5v1M193 5v1M196 5v1M202 5v1M206 5v1M219 5v1M226 5v1M234 5v1M238 5v1M245 5v1M254 5v1M260 5v1M270 5v1M271 5v1M281 5v1M288 5v1M297 5v1M333 5v1M344 5v1M345 5v1M354 5v1M361 5v1M379 5v1M392 5v1M399 5v1M411 5v1M419 5v1M434 5v1M438 5v1M441 5v1M443 5v1M444 5v1M462 5v1M467 5v1M468 5v1M475 5v1M486 5v1M513 5v1M529 5v1M533 5v1M5 6v1M9 6v1M10 6v1M11 6v1M15 6v1M17 6v1M18 6v1M43 6v1M54 6v1M64 6v1M86 6v1M93 6v1M112 6v1M113 6v1M115 6v1M117 6v1M131 6v1M136 6v1M142 6v1M145 6v1M155 6v1M172 6v1M174 6v1M176 6v1M180 6v1M184 6v1M194 6v1M214 6v1M215 6v1M245 6v1M248 6v1M253 6v1M254 6v1M267 6v1M271 6v1M287 6v1M318 6v1M322 6v1M326 6v1M336 6v1M341 6v1M359 6v1M366 6v1M381 6v1M384 6v1M386 6v1M388 6v1M396 6v1M403 6v1M405 6v1M425 6v1M428 6v1M442 6v1M444 6v1M464 6v1M485 6v1M487 6v1M491 6v1M495 6v1M499 6v1M500 6v1M504 6v1M509 6v1M525 6v1M531 6v1M535 6v1M0 7v1M18 7v1M22 7v1M25 7v1M41 7v1M45 7v1M53 7v1M65 7v1M97 7v1M106 7v1M117 7v1M130 7v1M144 7v1M165 7v1M181 7v1M198 7v1M231 7v1M232 7v1M233 7v1M236 7v1M241 7v1M287 7v1M299 7v1M314 7v1M326 7v1M327 7v1M332 7v1M334 7v1M340 7v1M343 7v1M361 7v1M365 7v1M391 7v1M395 7v1M400 7v1M402 7v1M409 7v1M418 7v1M422 7v1M426 7v1M445 7v1M461 7v1M466 7v1M482 7v1M487 7v1M494 7v1M505 7v1M512 7v1M518 7v1M524 7v1M535 7v1M1 8v1M4 8v1M12 8v1M20 8v1M26 8v1M65 8v1M72 8v1M82 8v1M85 8v1M94 8v1M96 8v1M102 8v1M104 8v1M108 8v1M127 8v1M131 8v1M134 8v1M145 8v1M148 8v1M150 8v1M166 8v1M171 8v1M175 8v1M181 8v1M183 8v1M188 8v1M189 8v1M203 8v1M211 8v1M219 8v1M237 8v1M250 8v1M260 8v1M301 8v1M339 8v1M343 8v1M344 8v1M357 8v1M387 8v1M395 8v1M408 8v1M427 8v1M436 8v1M452 8v1M456 8v1M464 8v1M477 8v1M479 8v1M482 8v1M486 8v1M491 8v1M503 8v1M513 8v1M526 8v1M528 8v1M3 9v1M10 9v1M16 9v1M20 9v1M44 9v1M45 9v1M51 9v1M53 9v1M56 9v1M57 9v1M61 9v1M66 9v1M100 9v1M123 9v1M129 9v1M136 9v1M137 9v1M140 9v1M141 9v1M162 9v1M170 9v1M171 9v1M178 9v1M179 9v1M199 9v1M201 9v1M226 9v1M233 9v1M235 9v1M252 9v1M255 9v1M256 9v1M260 9v1M267 9v1M270 9v1M281 9v1M288 9v1M301 9v1M303 9v1M310 9v1M319 9v1M339 9v1M340 9v1M353 9v1M355 9v1M358 9v1M363 9v1M390 9v1M397 9v1M398 9v1M409 9v1M412 9v1M417 9v1M427 9v1M429 9v1M438 9v1M455 9v1M456 9v1M463 9v1M470 9v1M478 9v1M485 9v1M506 9v1M516 9v1M522 9v1M525 9v1M530 9v1M533 9v1M538 9v1M1 10v1M13 10v1M37 10v1M44 10v1M46 10v1M76 10v1M78 10v1M82 10v1M87 10v1M98 10v1M99 10v1M103 10v1M112 10v1M141 10v1M158 10v1M164 10v1M175 10v1M180 10v1M183 10v1M185 10v1M190 10v1M195 10v1M197 10v1M212 10v1M216 10v1M218 10v1M223 10v1M252 10v1M315 10v1M327 10v1M330 10v1M335 10v1M347 10v1M353 10v1M365 10v1M375 10v1M391 10v1M414 10v1M426 10v1M460 10v1M465 10v1M484 10v1M485 10v1M489 10v1M490 10v1M498 10v1M506 10v1M508 10v1M517 10v1M524 10v1M537 10v1M3 11v1M4 11v1M6 11v1M7 11v1M15 11v1M18 11v1M31 11v1M36 11v1M37 11v1M51 11v1M70 11v1M79 11v1M115 11v1M128 11v1M141 11v1M142 11v1M144 11v1M152 11v1M156 11v1M157 11v1M161 11v1M171 11v1M172 11v1M188 11v1M190 11v1M191 11v1M217 11v1M223 11v1M225 11v1M226 11v1M230 11v1M232 11v1M233 11v1M238 11v1M252 11v1M257 11v1M262 11v1M269 11v1M276 11v1M290 11v1M297 11v1M302 11v1M312 11v1M313 11v1M318 11v1M321 11v1M329 11v1M337 11v1M343 11v1M350 11v1M351 11v1M367 11v1M373 11v1M376 11v1M379 11v1M436 11v1M443 11v1M450 11v1M452 11v1M454 11v1M464 11v1M469 11v1M481 11v1M486 11v1M491 11v1M492 11v1M496 11v1M498 11v1M513 11v1M524 11v1M528 11v1M538 11v1M28 12v1M32 12v1M51 12v1M57 12v1M67 12v1M72 12v1M74 12v1M76 12v1M94 12v1M98 12v1M117 12v1M119 12v1M142 12v1M156 12v1M174 12v1M177 12v1M178 12v1M226 12v1M247 12v1M251 12v1M285 12v1M290 12v1M294 12v1M296 12v1M314 12v1M315 12v1M317 12v1M321 12v1M322 12v1M330 12v1M335 12v1M336 12v1M341 12v1M342 12v1M345 12v1M364 12v1M368 12v1M384 12v1M399 12v1M409 12v1M413 12v1M415 12v1M418 12v1M419 12v1M422 12v1M427 12v1M437 12v1M438 12v1M441 12v1M442 12v1M451 12v1M459 12v1M461 12v1M462 12v1M484 12v1M515 12v1M529 12v1M538 12v1M9 13v1M11 13v1M30 13v1M42 13v1M47 13v1M51 13v1M53 13v1M67 13v1M68 13v1M96 13v1M99 13v1M109 13v1M112 13v1M119 13v1M124 13v1M136 13v1M158 13v1M160 13v1M177 13v1M178 13v1M181 13v1M189 13v1M196 13v1M203 13v1M217 13v1M230 13v1M246 13v1M259 13v1M262 13v1M282 13v1M297 13v1M303 13v1M307 13v1M316 13v1M323 13v1M325 13v1M332 13v1M333 13v1M347 13v1M370 13v1M385 13v1M430 13v1M435 13v1M442 13v1M467 13v1M476 13v1M502 13v1M511 13v1M514 13v1M515 13v1M521 13v1M523 13v1M528 13v1M4 14v1M10 14v1M26 14v1M33 14v1M40 14v1M46 14v1M48 14v1M50 14v1M53 14v1M63 14v1M72 14v1M86 14v1M87 14v1M106 14v1M118 14v1M133 14v1M140 14v1M142 14v1M153 14v1M154 14v1M158 14v1M163 14v1M173 14v1M199 14v1M206 14v1M209 14v1M212 14v1M214 14v1M215 14v1M228 14v1M244 14v1M250 14v1M252 14v1M285 14v1M296 14v1M312 14v1M321 14v1M325 14v1M332 14v1M356 14v1M386 14v1M389 14v1M391 14v1M397 14v1M406 14v1M424 14v1M454 14v1M459 14v1M472 14v1M476 14v1M490 14v1M491 14v1M495 14v1M496 14v1M505 14v1M518 14v1M536 14v1M539 14v1M2 15v1M27 15v1M33 15v1M39 15v1M55 15v1M57 15v1M58 15v1M69 15v1M88 15v1M99 15v1M103 15v1M115 15v1M125 15v1M132 15v1M137 15v1M140 15v1M141 15v1M142 15v1M147 15v1M157 15v1M160 15v1M165 15v1M186 15v1M191 15v1M198 15v1M199 15v1M203 15v1M204 15v1M206 15v1M215 15v1M229 15v1M237 15v1M243 15v1M261 15v1M275 15v1M289 15v1M293 15v1M301 15v1M324 15v1M327 15v1M335 15v1M342 15v1M343 15v1M346 15v1M363 15v1M372 15v1M402 15v1M404 15v1M407 15v1M419 15v1M422 15v1M425 15v1M434 15v1M435 15v1M442 15v1M443 15v1M449 15v1M480 15v1M499 15v1M505 15v1M509 15v1M521 15v1M529 15v1M11 16v1M14 16v1M18 16v1M20 16v1M22 16v1M29 16v1M41 16v1M65 16v1M68 16v1M75 16v1M78 16v1M84 16v1M88 16v1M110 16v1M112 16v1M135 16v1M139 16v1M176 16v1M202 16v1M203 16v1M209 16v1M217 16v1M233 16v1M246 16v1M256 16v1M270 16v1M283 16v1M292 16v1M295 16v1M297 16v1M318 16v1M321 16v1M340 16v1M345 16v1M360 16v1M362 16v1M368 16v1M369 16v1M386 16v1M393 16v1M408 16v1M412 16v1M417 16v1M420 16v1M455 16v1M487 16v1M494 16v1M497 16v1M502 16v1M507 16v1M510 16v1M531 16v1M536 16v1"/>
<path stroke="#ffe6e6" d="M4 0v1M21 0v1M29 0v1M31 0v1M32 0v1M39 0v1M44 0v1M45 0v1M46 0v1M47 0v1M49 0v1M51 0v1M53 0v1M57 0v1M68 0v1M70 0v1M74 0v1M79 0v1M93 0v1M96 0v1M98 0v1M99 0v1M100 0v1M102 0v1M105 0v1M117 0v1M122 0v1M134 0v1M153 0v1M157 0v1M174 0v1M176 0v1M180 0v1M187 0v1M188 0v1M189 0v1M193 0v1M211 0v1M214 0v1M216 0v1M217 0v1M219 0v1M220 0v1M229 0v1M230 0v1M242 0v1M244 0v1M246 0v1M260 0v1M262 0v1M264 0v1M266 0v1M272 0v1M275 0v1M294 0v1M304 0v1M324 0v1M330 0v1M351 0v1M352 0v1M358 0v1M361 0v1M362 0v1M367 0v1M369 0v1M382 0v1M390 0v1M391 0v1M392 0v1M393 0v1M408 0v1M409 0v1M420 0v1M430 0v1M440 0v1M441 0v1M445 0v1M454 0v1M456 0v1M457 0v1M461 0v1M468 0v1M489 0v1M494 0v1M499 0v1M501 0v1M508 0v1M526 0v1M527 0v1M536 0v1M3 1v1M6 1v1M11 1v1M12 1v1M14 1v1M20 1v1M24 1v1M27 1v1M29 1v1M30 1v1M37 1v1M46 1v1M58 1v1M59 1v1M70 1v1M72 1v1M81 1v1M82 1v1M87 1v1M90 1v1M94 1v1M108 1v1M116 1v1M118 1v1M120 1v1M128 1v1M131 1v1M137 1v1M138 1v1M147 1v1M149 1v1M151 1v1M152 1v1M168 1v1M170 1v1M171 1v1M172 1v1M185 1v1M186 1v1M191 1v1M193 1v1M195 1v1M208 1v1M212 1v1M213 1v1M215 1v1M216 1v1M219 1v1M221 1v1M224 1v1M254 1v1M263 1v1M275 1v1M276 1v1M283 1v1M288 1v1M290 1v1M294 1v1M302 1v1M305 1v1M319 1v1M322 1v1M326 1v1M328 1v1M329 1v1M334 1v1M337 1v1M338 1v1M362 1v1M365 1v1M367 1v1M368 1v1M381 1v1M391 1v1M394 1v1M398 1v1M402 1v1M404 1v1M434 1v1M451 1v1M455 1v1M457 1v1M462 1v1M468 1v1M469 1v1M475 1v1M483 1v1M485 1v1M509 1v1M515 1v1M523 1v1M528 1v1M532 1v1M537 1v1M3 2v1M18 2v1M20 2v1M22 2v1M25 2v1M26 2v1M31 2v1M33 2v1M34 2v1M41 2v1M57 2v1M67 2v1M68 2v1M70 2v1M71 2v1M75 2v1M77 2v1M86 2v1M90 2v1M93 2v1M102 2v1M109 2v1M118 2v1M126 2v1M129 2v1M132 2v1M133 2v1M137 2v1M162 2v1M181 2v1M187 2v1M192 2v1M195 2v1M218 2v1M233 2v1M240 2v1M241 2v1M251 2v1M259 2v1M265 2v1M277 2v1M279 2v1M282 2v1M283 2v1M287 2v1M297 2v1M298 2v1M301 2v1M312 2v1M316 2v1M320 2v1M324 2v1M325 2v1M327 2v1M328 2v1M330 2v1M332 2v1M333 2v1M339 2v1M349 2v1M350 2v1M351 2v1M353 2v1M356 2v1M364 2v1M370 2v1M376 2v1M381 2v1M392 2v1M401 2v1M402 2v1M408 2v1M410 2v1M416 2v1M418 2v1M421 2v1M427 2v1M432 2v1M441 2v1M446 2v1M449 2v1M451 2v1M453 2v1M454 2v1M470 2v1M471 2v1M472 2v1M475 2v1M477 2v1M478 2v1M487 2v1M489 2v1M492 2v1M495 2v1M501 2v1M506 2v1M507 2v1M517 2v1M522 2v1M527 2v1M534 2v1M537 2v1M2 3v1M12 3v1M15 3v1M23 3v1M25 3v1M30 3v1M38 3v1M40 3v1M47 3v1M51 3v1M55 3v1M58 3v1M59 3v1M60 3v1M61 3v1M67 3v1M76 3v1M82 3v1M87 3v1M88 3v1M94 3v1M96 3v1M109 3v1M112 3v1M113 3v1M117 3v1M122 3v1M125 3v1M129 3v1M131 3v1M137 3v1M139 3v1M146 3v1M152 3v1M161 3v1M168 3v1M171 3v1M176 3v1M177 3v1M187 3v1M193 3v1M205 3v1M207 3v1M209 3v1M211 3v1M216 3v1M225 3v1M233 3v1M238 3v1M241 3v1M242 3v1M244 3v1M250 3v1M263 3v1M266 3v1M267 3v1M268 3v1M269 3v1M273 3v1M278 3v1M280 3v1M290 3v1M299 3v1M306 3v1M323 3v1M327 3v1M330 3v1M331 3v1M338 3v1M341 3v1M348 3v1M362 3v1M385 3v1M387 3v1M390 3v1M393 3v1M403 3v1M409 3v1M413 3v1M415 3v1M421 3v1M436 3v1M448 3v1M453 3v1M460 3v1M485 3v1M486 3v1M490 3v1M492 3v1M498 3v1M501 3v1M506 3v1M508 3v1M511 3v1M513 3v1M515 3v1M524 3v1M537 3v1M539 3v1M2 4v1M5 4v1M8 4v1M9 4v1M12 4v1M14 4v1M24 4v1M27 4v1M28 4v1M29 4v1M30 4v1M34 4v1M37 4v1M42 4v1M55 4v1M56 4v1M58 4v1M59 4v1M65 4v1M66 4v1M68 4v1M76 4v1M79 4v1M80 4v1M82 4v1M84 4v1M86 4v1M87 4v1M90 4v1M91 4v1M92 4v1M93 4v1M98 4v1M99 4v1M102 4v1M104 4v1M110 4v1M112 4v1M114 4v1M115 4v1M116 4v1M117 4v1M125 4v1M131 4v1M134 4v1M135 4v1M138 4v1M139 4v1M143 4v1M149 4v1M151 4v1M154 4v1M155 4v1M170 4v1M173 4v1M174 4v1M176 4v1M186 4v1M190 4v1M205 4v1M206 4v1M210 4v1M212 4v1M218 4v1M227 4v1M229 4v1M235 4v1M237 4v1M242 4v1M243 4v1M247 4v1M252 4v1M259 4v1M262 4v1M264 4v1M265 4v1M266 4v1M272 4v1M283 4v1M294 4v1M301 4v1M308 4v1M322 4v1M325 4v1M336 4v1M343 4v1M348 4v1M354 4v1M359 4v1M372 4v1M373 4v1M404 4v1M408 4v1M410 4v1M412 4v1M414 4v1M419 4v1M422 4v1M426 4v1M433 4v1M434 4v1M447 4v1M459 4v1M466 4v1M483 4v1M493 4v1M502 4v1M506 4v1M508 4v1M513 4v1M516 4v1M525 4v1M538 4v1M1 5v1M8 5v1M20 5v1M21 5v1M26 5v1M27 5v1M30 5v1M32 5v1M33 5v1M39 5v1M40 5v1M42 5v1M45 5v1M46 5v1M49 5v1M58 5v1M59 5v1M63 5v1M64 5v1M65 5v1M68 5v1M69 5v1M72 5v1M75 5v1M84 5v1M86 5v1M91 5v1M92 5v1M114 5v1M123 5v1M128 5v1M131 5v1M136 5v1M142 5v1M145 5v1M148 5v1M151 5v1M154 5v1M160 5v1M162 5v1M165 5v1M171 5v1M181 5v1M186 5v1M188 5v1M200 5v1M204 5v1M211 5v1M216 5v1M217 5v1M222 5v1M225 5v1M231 5v1M232 5v1M239 5v1M246 5v1M247 5v1M257 5v1M259 5v1M263 5v1M265 5v1M266 5v1M280 5v1M286 5v1M291 5v1M296 5v1M301 5v1M305 5v1M308 5v1M315 5v1M317 5v1M318 5v1M331 5v1M337 5v1M338 5v1M342 5v1M355 5v1M363 5v1M365 5v1M367 5v1M370 5v1M391 5v1M394 5v1M423 5v1M426 5v1M427 5v1M428 5v1M435 5v1M440 5v1M451 5v1M459 5v1M466 5v1M469 5v1M480 5v1M482 5v1M497 5v1M502 5v1M504 5v1M536 5v1M4 6v1M7 6v1M19 6v1M20 6v1M21 6v1M23 6v1M24 6v1M27 6v1M28 6v1M32 6v1M33 6v1M38 6v1M41 6v1M42 6v1M47 6v1M53 6v1M57 6v1M60 6v1M66 6v1M68 6v1M70 6v1M76 6v1M77 6v1M82 6v1M92 6v1M99 6v1M103 6v1M105 6v1M109 6v1M110 6v1M111 6v1M128 6v1M132 6v1M135 6v1M140 6v1M143 6v1M152 6v1M153 6v1M156 6v1M161 6v1M164 6v1M168 6v1M173 6v1M175 6v1M177 6v1M178 6v1M182 6v1M186 6v1M190 6v1M195 6v1M201 6v1M207 6v1M208 6v1M212 6v1M219 6v1M224 6v1M229 6v1M233 6v1M239 6v1M241 6v1M249 6v1M250 6v1M260 6v1M262 6v1M270 6v1M272 6v1M273 6v1M279 6v1M280 6v1M282 6v1M288 6v1M289 6v1M290 6v1M294 6v1M296 6v1M297 6v1M298 6v1M304 6v1M305 6v1M313 6v1M319 6v1M321 6v1M329 6v1M330 6v1M344 6v1M345 6v1M351 6v1M353 6v1M363 6v1M365 6v1M373 6v1M374 6v1M375 6v1M382 6v1M393 6v1M400 6v1M407 6v1M413 6v1M415 6v1M419 6v1M420 6v1M422 6v1M423 6v1M430 6v1M434 6v1M437 6v1M438 6v1M441 6v1M447 6v1M449 6v1M451 6v1M457 6v1M459 6v1M463 6v1M472 6v1M474 6v1M479 6v1M480 6v1M481 6v1M483 6v1M486 6v1M490 6v1M494 6v1M497 6v1M502 6v1M510 6v1M512 6v1M514 6v1M517 6v1M520 6v1M529 6v1M533 6v1M1 7v1M3 7v1M7 7v1M8 7v1M9 7v1M21 7v1M37 7v1M40 7v1M44 7v1M51 7v1M57 7v1M61 7v1M64 7v1M70 7v1M71 7v1M73 7v1M75 7v1M87 7v1M90 7v1M95 7v1M96 7v1M99 7v1M100 7v1M102 7v1M107 7v1M109 7v1M112 7v1M114 7v1M121 7v1M122 7v1M123 7v1M125 7v1M129 7v1M132 7v1M135 7v1M140 7v1M142 7v1M143 7v1M147 7v1M148 7v1M158 7v1M160 7v1M169 7v1M171 7v1M172 7v1M176 7v1M184 7v1M192 7v1M196 7v1M201 7v1M203 7v1M207 7v1M211 7v1M216 7v1M217 7v1M221 7v1M222 7v1M228 7v1M237 7v1M240 7v1M245 7v1M253 7v1M262 7v1M280 7v1M285 7v1M292 7v1M295 7v1M306 7v1M313 7v1M335 7v1M339 7v1M342 7v1M346 7v1M357 7v1M376 7v1M381 7v1M385 7v1M387 7v1M390 7v1M396 7v1M399 7v1M401 7v1M403 7v1M404 7v1M408 7v1M434 7v1M435 7v1M446 7v1M448 7v1M453 7v1M454 7v1M460 7v1M474 7v1M483 7v1M489 7v1M495 7v1M497 7v1M500 7v1M506 7v1M514 7v1M517 7v1M521 7v1M526 7v1M527 7v1M530 7v1M531 7v1M534 7v1M539 7v1M3 8v1M5 8v1M10 8v1M11 8v1M23 8v1M28 8v1M29 8v1M31 8v1M35 8v1M46 8v1M49 8v1M53 8v1M56 8v1M69 8v1M71 8v1M76 8v1M79 8v1M84 8v1M89 8v1M91 8v1M100 8v1M106 8v1M111 8v1M114 8v1M116 8v1M120 8v1M123 8v1M125 8v1M128 8v1M151 8v1M155 8v1M158 8v1M161 8v1M168 8v1M179 8v1M185 8v1M187 8v1M191 8v1M195 8v1M196 8v1M204 8v1M207 8v1M209 8v1M221 8v1M223 8v1M224 8v1M226 8v1M234 8v1M255 8v1M256 8v1M270 8v1M287 8v1M291 8v1M298 8v1M300 8v1M302 8v1M303 8v1M316 8v1M323 8v1M341 8v1M352 8v1M354 8v1M355 8v1M358 8v1M366 8v1M369 8v1M379 8v1M380 8v1M397 8v1M410 8v1M412 8v1M422 8v1M435 8v1M458 8v1M474 8v1M476 8v1M484 8v1M505 8v1M518 8v1M519 8v1M520 8v1M523 8v1M535 8v1M539 8v1M4 9v1M13 9v1M30 9v1M38 9v1M43 9v1M47 9v1M62 9v1M71 9v1M74 9v1M77 9v1M83 9v1M89 9v1M91 9v1M94 9v1M95 9v1M96 9v1M104 9v1M105 9v1M114 9v1M120 9v1M125 9v1M126 9v1M144 9v1M145 9v1M147 9v1M150 9v1M155 9v1M160 9v1M161 9v1M165 9v1M166 9v1M169 9v1M174 9v1M180 9v1M184 9v1M185 9v1M189 9v1M190 9v1M193 9v1M205 9v1M207 9v1M211 9v1M218 9v1M221 9v1M223 9v1M232 9v1M242 9v1M253 9v1M254 9v1M258 9v1M262 9v1M268 9v1M277 9v1M284 9v1M312 9v1M315 9v1M335 9v1M343 9v1M352 9v1M354 9v1M357 9v1M359 9v1M360 9v1M382 9v1M388 9v1M402 9v1M413 9v1M421 9v1M422 9v1M424 9v1M426 9v1M434 9v1M469 9v1M472 9v1M490 9v1M492 9v1M494 9v1M498 9v1M500 9v1M509 9v1M523 9v1M524 9v1M529 9v1M537 9v1M2 10v1M18 10v1M22 10v1M23 10v1M25 10v1M30 10v1M33 10v1M47 10v1M48 10v1M52 10v1M60 10v1M62 10v1M65 10v1M67 10v1M73 10v1M77 10v1M79 10v1M86 10v1M90 10v1M93 10v1M123 10v1M124 10v1M129 10v1M136 10v1M138 10v1M140 10v1M142 10v1M147 10v1M148 10v1M150 10v1M152 10v1M153 10v1M155 10v1M156 10v1M166 10v1M167 10v1M168 10v1M169 10v1M172 10v1M188 10v1M193 10v1M196 10v1M198 10v1M200 10v1M203 10v1M214 10v1M215 10v1M219 10v1M225 10v1M235 10v1M237 10v1M239 10v1M240 10v1M241 10v1M243 10v1M253 10v1M256 10v1M258 10v1M259 10v1M264 10v1M266 10v1M269 10v1M277 10v1M282 10v1M289 10v1M303 10v1M310 10v1M311 10v1M313 10v1M319 10v1M324 10v1M341 10v1M342 10v1M349 10v1M351 10v1M366 10v1M371 10v1M372 10v1M382 10v1M383 10v1M388 10v1M390 10v1M395 10v1M406 10v1M413 10v1M417 10v1M421 10v1M425 10v1M435 10v1M439 10v1M441 10v1M444 10v1M447 10v1M452 10v1M454 10v1M467 10v1M471 10v1M475 10v1M478 10v1M481 10v1M482 10v1M497 10v1M512 10v1M513 10v1M515 10v1M523 10v1M525 10v1M534 10v1M539 10v1M17 11v1M28 11v1M33 11v1M38 11v1M41 11v1M46 11v1M53 11v1M57 11v1M59 11v1M63 11v1M64 11v1M66 11v1M69 11v1M73 11v1M78 11v1M85 11v1M90 11v1M91 11v1M92 11v1M98 11v1M101 11v1M102 11v1M107 11v1M112 11v1M113 11v1M118 11v1M124 11v1M126 11v1M129 11v1M143 11v1M147 11v1M148 11v1M158 11v1M159 11v1M165 11v1M181 11v1M183 11v1M185 11v1M186 11v1M196 11v1M200 11v1M201 11v1M202 11v1M208 11v1M219 11v1M221 11v1M229 11v1M241 11v1M249 11v1M251 11v1M253 11v1M259 11v1M261 11v1M267 11v1M268 11v1M277 11v1M305 11v1M324 11v1M327 11v1M333 11v1M335 11v1M336 11v1M357 11v1M358 11v1M360 11v1M362 11v1M380 11v1M383 11v1M386 11v1M394 11v1M418 11v1M422 11v1M423 11v1M431 11v1M432 11v1M451 11v1M466 11v1M470 11v1M471 11v1M479 11v1M485 11v1M502 11v1M511 11v1M512 11v1M522 11v1M527 11v1M531 11v1M532 11v1M536 11v1M537 11v1M2 12v1M3 12v1M6 12v1M17 12v1M33 12v1M35 12v1M42 12v1M58 12v1M59 12v1M66 12v1M69 12v1M75 12v1M81 12v1M82 12v1M107 12v1M109 12v1M111 12v1M114 12v1M118 12v1M129 12v1M133 12v1M137 12v1M143 12v1M160 12v1M170 12v1M173 12v1M179 12v1M183 12v1M191 12v1M212 12v1M216 12v1M225 12v1M233 12v1M234 12v1M236 12v1M270 12v1M274 12v1M276 12v1M287 12v1M289 12v1M293 12v1M295 12v1M303 12v1M305 12v1M308 12v1M310 12v1M313 12v1M320 12v1M323 12v1M329 12v1M348 12v1M350 12v1M351 12v1M354 12v1M355 12v1M359 12v1M363 12v1M366 12v1M382 12v1M390 12v1M394 12v1M395 12v1M412 12v1M420 12v1M423 12v1M436 12v1M448 12v1M458 12v1M470 12v1M478 12v1M481 12v1M485 12v1M493 12v1M501 12v1M502 12v1M506 12v1M508 12v1M512 12v1M514 12v1M517 12v1M522 12v1M524 12v1M526 12v1M528 12v1M533 12v1M535 12v1M3 13v1M6 13v1M8 13v1M12 13v1M15 13v1M21 13v1M24 13v1M36 13v1M37 13v1M44 13v1M50 13v1M57 13v1M60 13v1M61 13v1M62 13v1M64 13v1M72 13v1M75 13v1M77 13v1M79 13v1M83 13v1M85 13v1M91 13v1M94 13v1M107 13v1M110 13v1M111 13v1M117 13v1M123 13v1M134 13v1M135 13v1M138 13v1M148 13v1M164 13v1M174 13v1M175 13v1M184 13v1M188 13v1M190 13v1M193 13v1M198 13v1M209 13v1M211 13v1M214 13v1M222 13v1M225 13v1M229 13v1M231 13v1M249 13v1M254 13v1M255 13v1M258 13v1M260 13v1M265 13v1M269 13v1M274 13v1M300 13v1M301 13v1M313 13v1M314 13v1M326 13v1M327 13v1M328 13v1M343 13v1M345 13v1M348 13v1M352 13v1M383 13v1M386 13v1M388 13v1M406 13v1M412 13v1M418 13v1M434 13v1M449 13v1M463 13v1M472 13v1M491 13v1M494 13v1M505 13v1M517 13v1M536 13v1M538 13v1M5 14v1M6 14v1M18 14v1M24 14v1M30 14v1M32 14v1M39 14v1M47 14v1M57 14v1M62 14v1M66 14v1M67 14v1M69 14v1M81 14v1M88 14v1M89 14v1M90 14v1M91 14v1M92 14v1M96 14v1M97 14v1M98 14v1M110 14v1M120 14v1M122 14v1M134 14v1M135 14v1M141 14v1M148 14v1M157 14v1M161 14v1M170 14v1M172 14v1M177 14v1M192 14v1M201 14v1M203 14v1M208 14v1M218 14v1M222 14v1M224 14v1M225 14v1M227 14v1M229 14v1M233 14v1M237 14v1M248 14v1M253 14v1M270 14v1M271 14v1M278 14v1M280 14v1M288 14v1M302 14v1M304 14v1M305 14v1M306 14v1M309 14v1M315 14v1M316 14v1M324 14v1M329 14v1M331 14v1M334 14v1M335 14v1M339 14v1M343 14v1M344 14v1M347 14v1M352 14v1M359 14v1M361 14v1M364 14v1M370 14v1M372 14v1M390 14v1M393 14v1M396 14v1M410 14v1M419 14v1M429 14v1M438 14v1M447 14v1M450 14v1M451 14v1M458 14v1M460 14v1M465 14v1M477 14v1M478 14v1M482 14v1M486 14v1M512 14v1M514 14v1M524 14v1M531 14v1M535 14v1M1 15v1M3 15v1M14 15v1M25 15v1M40 15v1M45 15v1M46 15v1M49 15v1M50 15v1M60 15v1M61 15v1M62 15v1M70 15v1M81 15v1M83 15v1M86 15v1M90 15v1M92 15v1M100 15v1M101 15v1M105 15v1M117 15v1M119 15v1M121 15v1M127 15v1M130 15v1M133 15v1M134 15v1M138 15v1M151 15v1M164 15v1M167 15v1M169 15v1M171 15v1M172 15v1M176 15v1M187 15v1M207 15v1M209 15v1M224 15v1M233 15v1M256 15v1M259 15v1M265 15v1M268 15v1M276 15v1M281 15v1M282 15v1M286 15v1M291 15v1M297 15v1M307 15v1M308 15v1M311 15v1M317 15v1M321 15v1M323 15v1M331 15v1M338 15v1M339 15v1M353 15v1M354 15v1M358 15v1M365 15v1M377 15v1M378 15v1M384 15v1M388 15v1M399 15v1M401 15v1M403 15v1M412 15v1M417 15v1M421 15v1M426 15v1M427 15v1M432 15v1M436 15v1M438 15v1M439 15v1M445 15v1M453 15v1M455 15v1M457 15v1M465 15v1M468 15v1M475 15v1M490 15v1M491 15v1M497 15v1M503 15v1M507 15v1M512 15v1M525 15v1M1 16v1M5 16v1M6 16v1M23 16v1M30 16v1M34 16v1M38 16v1M42 16v1M43 16v1M50 16v1M54 16v1M56 16v1M57 16v1M64 16v1M71 16v1M72 16v1M74 16v1M82 16v1M83 16v1M85 16v1M86 16v1M87 16v1M90 16v1M91 16v1M93 16v1M94 16v1M96 16v1M104 16v1M113 16v1M117 16v1M118 16v1M119 16v1M124 16v1M125 16v1M133 16v1M136 16v1M138 16v1M141 16v1M146 16v1M148 16v1M149 16v1M152 16v1M153 16v1M154 16v1M156 16v1M160 16v1M165 16v1M167 16v1M170 16v1M177 16v1M179 16v1M180 16v1M193 16v1M195 16v1M199 16v1M201 16v1M208 16v1M211 16v1M221 16v1M222 16v1M224 16v1M240 16v1M241 16v1M242 16v1M243 16v1M245 16v1M249 16v1M255 16v1M258 16v1M263 16v1M265 16v1M266 16v1M274 16v1M276 16v1M294 16v1M302 16v1M306 16v1M310 16v1M312 16v1M320 16v1M337 16v1M346 16v1M348 16v1M351 16v1M356 16v1M364 16v1M371 16v1M372 16v1M374 16v1M378 16v1M384 16v1M390 16v1M395 16v1M418 16v1M436 16v1M438 16v1M446 16v1M452 16v1M454 16v1M462 16v1M464 16v1M474 16v1M493 16v1M505 16v1M512 16v1M514 16v1M519 16v1M520 16v1M530 16v1M532 16v1M537 16v1"/>
<path stroke="#ffcccc" d="M5 0v1M6 0v1M11 0v1M12 0v1M35 0v1M36 0v1M37 0v1M52 0v1M56 0v1M59 0v1M60 0v1M73 0v1M83 0v1M85 0v1M87 0v1M95 0v1M101 0v1M110 0v1M112 0v1M113 0v1M114 0v1M119 0v1M120 0v1M136 0v1M143 0v1M146 0v1M151 0v1M154 0v1M155 0v1M163 0v1M175 0v1M177 0v1M178 0v1M183 0v1M201 0v1M202 0v1M204 0v1M205 0v1M208 0v1M212 0v1M218 0v1M226 0v1M227 0v1M231 0v1M245 0v1M251 0v1M252 0v1M253 0v1M265 0v1M281 0v1M285 0v1M287 0v1M292 0v1M300 0v1M306 0v1M316 0v1M353 0v1M354 0v1M364 0v1M389 0v1M398 0v1M418 0v1M425 0v1M439 0v1M447 0v1M450 0v1M466 0v1M471 0v1M493 0v1M495 0v1M514 0v1M531 0v1M535 0v1M538 0v1M0 1v1M8 1v1M13 1v1M15 1v1M16 1v1M17 1v1M71 1v1M80 1v1M86 1v1M97 1v1M100 1v1M103 1v1M115 1v1M125 1v1M156 1v1M164 1v1M169 1v1M176 1v1M183 1v1M188 1v1M189 1v1M190 1v1M197 1v1M202 1v1M226 1v1M235 1v1M238 1v1M239 1v1M251 1v1M252 1v1M264 1v1M265 1v1M266 1v1M281 1v1M286 1v1M291 1v1M304 1v1M310 1v1M317 1v1M349 1v1M350 1v1M373 1v1M384 1v1M389 1v1M393 1v1M399 1v1M408 1v1M412 1v1M418 1v1M447 1v1M449 1v1M471 1v1M479 1v1M480 1v1M482 1v1M487 1v1M512 1v1M518 1v1M530 1v1M1 2v1M10 2v1M24 2v1M55 2v1M60 2v1M83 2v1M96 2v1M103 2v1M111 2v1M147 2v1M152 2v1M165 2v1M168 2v1M171 2v1M172 2v1M173 2v1M199 2v1M203 2v1M220 2v1M248 2v1M272 2v1M274 2v1M317 2v1M323 2v1M341 2v1M354 2v1M358 2v1M374 2v1M377 2v1M379 2v1M391 2v1M404 2v1M424 2v1M429 2v1M431 2v1M439 2v1M442 2v1M447 2v1M467 2v1M479 2v1M481 2v1M497 2v1M509 2v1M532 2v1M539 2v1M1 3v1M11 3v1M13 3v1M16 3v1M18 3v1M21 3v1M31 3v1M33 3v1M52 3v1M53 3v1M56 3v1M64 3v1M72 3v1M75 3v1M93 3v1M101 3v1M102 3v1M120 3v1M124 3v1M128 3v1M135 3v1M148 3v1M150 3v1M151 3v1M157 3v1M159 3v1M175 3v1M183 3v1M185 3v1M190 3v1M192 3v1M195 3v1M202 3v1M231 3v1M235 3v1M261 3v1M275 3v1M304 3v1M317 3v1M328 3v1M336 3v1M345 3v1M356 3v1M360 3v1M361 3v1M363 3v1M368 3v1M422 3v1M439 3v1M441 3v1M454 3v1M457 3v1M469 3v1M472 3v1M502 3v1M509 3v1M522 3v1M536 3v1M3 4v1M4 4v1M13 4v1M15 4v1M22 4v1M23 4v1M25 4v1M31 4v1M69 4v1M108 4v1M121 4v1M124 4v1M130 4v1M136 4v1M140 4v1M141 4v1M163 4v1M164 4v1M169 4v1M184 4v1M185 4v1M199 4v1M200 4v1M203 4v1M211 4v1M228 4v1M230 4v1M236 4v1M246 4v1M250 4v1M256 4v1M277 4v1M320 4v1M323 4v1M351 4v1M357 4v1M381 4v1M384 4v1M389 4v1M423 4v1M435 4v1M437 4v1M451 4v1M452 4v1M512 4v1M530 4v1M0 5v1M2 5v1M5 5v1M7 5v1M17 5v1M37 5v1M38 5v1M48 5v1M56 5v1M60 5v1M74 5v1M79 5v1M88 5v1M97 5v1M102 5v1M103 5v1M105 5v1M113 5v1M117 5v1M138 5v1M143 5v1M150 5v1M157 5v1M168 5v1M169 5v1M173 5v1M178 5v1M183 5v1M187 5v1M190 5v1M191 5v1M207 5v1M208 5v1M218 5v1M220 5v1M221 5v1M230 5v1M248 5v1M249 5v1M250 5v1M251 5v1M258 5v1M262 5v1M264 5v1M279 5v1M282 5v1M300 5v1M303 5v1M316 5v1M329 5v1M339 5v1M341 5v1M346 5v1M353 5v1M356 5v1M362 5v1M372 5v1M374 5v1M385 5v1M401 5v1M402 5v1M425 5v1M432 5v1M446 5v1M448 5v1M453 5v1M454 5v1M463 5v1M473 5v1M474 5v1M483 5v1M488 5v1M491 5v1M505 5v1M506 5v1M511 5v1M519 5v1M524 5v1M532 5v1M537 5v1M3 6v1M30 6v1M31 6v1M39 6v1M67 6v1M84 6v1M91 6v1M97 6v1M123 6v1M125 6v1M126 6v1M141 6v1M146 6v1M147 6v1M150 6v1M151 6v1M158 6v1M159 6v1M160 6v1M162 6v1M165 6v1M166 6v1M185 6v1M217 6v1M218 6v1M225 6v1M227 6v1M231 6v1M244 6v1M247 6v1M274 6v1M276 6v1M278 6v1M301 6v1M307 6v1M310 6v1M317 6v1M320 6v1M327 6v1M348 6v1M355 6v1M360 6v1M371 6v1M376 6v1M377 6v1M385 6v1M398 6v1M399 6v1M411 6v1M416 6v1M417 6v1M436 6v1M439 6v1M452 6v1M454 6v1M470 6v1M476 6v1M489 6v1M507 6v1M518 6v1M522 6v1M526 6v1M16 7v1M19 7v1M31 7v1M33 7v1M35 7v1M54 7v1M55 7v1M72 7v1M77 7v1M84 7v1M89 7v1M101 7v1M103 7v1M108 7v1M113 7v1M118 7v1M141 7v1M153 7v1M154 7v1M168 7v1M179 7v1M189 7v1M190 7v1M195 7v1M204 7v1M248 7v1M269 7v1M271 7v1M288 7v1M302 7v1M310 7v1M345 7v1M350 7v1M358 7v1M359 7v1M362 7v1M367 7v1M378 7v1M392 7v1M397 7v1M407 7v1M410 7v1M428 7v1M429 7v1M431 7v1M437 7v1M442 7v1M443 7v1M444 7v1M457 7v1M465 7v1M471 7v1M473 7v1M476 7v1M480 7v1M493 7v1M496 7v1M501 7v1M513 7v1M515 7v1M522 7v1M532 7v1M538 7v1M6 8v1M8 8v1M9 8v1M13 8v1M37 8v1M38 8v1M40 8v1M43 8v1M48 8v1M50 8v1M58 8v1M62 8v1M70 8v1M78 8v1M88 8v1M92 8v1M95 8v1M101 8v1M105 8v1M107 8v1M113 8v1M124 8v1M133 8v1M136 8v1M141 8v1M143 8v1M152 8v1M153 8v1M157 8v1M162 8v1M164 8v1M177 8v1M192 8v1M215 8v1M220 8v1M231 8v1M232 8v1M235 8v1M236 8v1M243 8v1M244 8v1M254 8v1M257 8v1M265 8v1M269 8v1M279 8v1M284 8v1M305 8v1M306 8v1M312 8v1M313 8v1M331 8v1M393 8v1M407 8v1M418 8v1M421 8v1M457 8v1M473 8v1M478 8v1M506 8v1M508 8v1M510 8v1M516 8v1M8 9v1M11 9v1M23 9v1M35 9v1M36 9v1M37 9v1M55 9v1M67 9v1M76 9v1M82 9v1M92 9v1M102 9v1M106 9v1M115 9v1M128 9v1M138 9v1M139 9v1M148 9v1M156 9v1M164 9v1M167 9v1M181 9v1M186 9v1M195 9v1M196 9v1M198 9v1M204 9v1M209 9v1M213 9v1M220 9v1M222 9v1M224 9v1M229 9v1M230 9v1M241 9v1M246 9v1M251 9v1M257 9v1M266 9v1M269 9v1M286 9v1M289 9v1M324 9v1M347 9v1M349 9v1M372 9v1M375 9v1M378 9v1M393 9v1M440 9v1M443 9v1M444 9v1M447 9v1M460 9v1M461 9v1M473 9v1M480 9v1M505 9v1M507 9v1M517 9v1M528 9v1M534 9v1M10 10v1M11 10v1M12 10v1M28 10v1M50 10v1M57 10v1M63 10v1M68 10v1M85 10v1M101 10v1M110 10v1M113 10v1M149 10v1M171 10v1M173 10v1M201 10v1M209 10v1M220 10v1M229 10v1M251 10v1M257 10v1M261 10v1M263 10v1M265 10v1M280 10v1M299 10v1M305 10v1M320 10v1M326 10v1M331 10v1M346 10v1M398 10v1M407 10v1M410 10v1M416 10v1M418 10v1M429 10v1M431 10v1M442 10v1M443 10v1M446 10v1M464 10v1M468 10v1M476 10v1M496 10v1M500 10v1M507 10v1M511 10v1M514 10v1M528 10v1M529 10v1M530 10v1M531 10v1M532 10v1M538 10v1M10 11v1M11 11v1M13 11v1M32 11v1M45 11v1M47 11v1M49 11v1M67 11v1M68 11v1M72 11v1M76 11v1M80 11v1M81 11v1M88 11v1M89 11v1M95 11v1M96 11v1M100 11v1M105 11v1M125 11v1M131 11v1M134 11v1M135 11v1M136 11v1M138 11v1M139 11v1M146 11v1M173 11v1M194 11v1M197 11v1M198 11v1M204 11v1M206 11v1M213 11v1M234 11v1M237 11v1M256 11v1M258 11v1M270 11v1M303 11v1M320 11v1M342 11v1M389 11v1M393 11v1M396 11v1M402 11v1M404 11v1M405 11v1M408 11v1M413 11v1M417 11v1M425 11v1M426 11v1M430 11v1M455 11v1M465 11v1M475 11v1M477 11v1M484 11v1M516 11v1M517 11v1M4 12v1M93 12v1M121 12v1M128 12v1M140 12v1M149 12v1M195 12v1M221 12v1M223 12v1M229 12v1M231 12v1M253 12v1M255 12v1M262 12v1M271 12v1M275 12v1M279 12v1M301 12v1M304 12v1M309 12v1M318 12v1M334 12v1M352 12v1M353 12v1M357 12v1M358 12v1M376 12v1M386 12v1M396 12v1M397 12v1M407 12v1M408 12v1M417 12v1M429 12v1M431 12v1M434 12v1M443 12v1M447 12v1M469 12v1M477 12v1M488 12v1M490 12v1M494 12v1M495 12v1M496 12v1M499 12v1M503 12v1M511 12v1M518 12v1M519 12v1M521 12v1M536 12v1M537 12v1M539 12v1M10 13v1M14 13v1M19 13v1M29 13v1M38 13v1M40 13v1M52 13v1M58 13v1M63 13v1M80 13v1M81 13v1M84 13v1M88 13v1M90 13v1M100 13v1M103 13v1M115 13v1M116 13v1M128 13v1M129 13v1M132 13v1M141 13v1M144 13v1M169 13v1M170 13v1M173 13v1M179 13v1M182 13v1M187 13v1M192 13v1M201 13v1M204 13v1M205 13v1M206 13v1M208 13v1M219 13v1M220 13v1M232 13v1M238 13v1M241 13v1M244 13v1M245 13v1M250 13v1M252 13v1M261 13v1M277 13v1M279 13v1M292 13v1M298 13v1M324 13v1M329 13v1M330 13v1M335 13v1M356 13v1M384 13v1M389 13v1M395 13v1M397 13v1M409 13v1M424 13v1M439 13v1M448 13v1M462 13v1M468 13v1M486 13v1M488 13v1M498 13v1M508 13v1M509 13v1M513 13v1M522 13v1M524 13v1M525 13v1M0 14v1M8 14v1M28 14v1M52 14v1M58 14v1M61 14v1M76 14v1M78 14v1M104 14v1M108 14v1M111 14v1M131 14v1M180 14v1M187 14v1M188 14v1M189 14v1M193 14v1M198 14v1M202 14v1M210 14v1M219 14v1M240 14v1M246 14v1M247 14v1M266 14v1M277 14v1M284 14v1M297 14v1M307 14v1M311 14v1M326 14v1M336 14v1M341 14v1M345 14v1M351 14v1M357 14v1M363 14v1M373 14v1M380 14v1M383 14v1M395 14v1M402 14v1M404 14v1M408 14v1M409 14v1M414 14v1M415 14v1M420 14v1M421 14v1M422 14v1M425 14v1M434 14v1M452 14v1M453 14v1M457 14v1M473 14v1M479 14v1M481 14v1M487 14v1M488 14v1M492 14v1M499 14v1M502 14v1M506 14v1M508 14v1M510 14v1M516 14v1M517 14v1M519 14v1M523 14v1M532 14v1M533 14v1M4 15v1M9 15v1M12 15v1M15 15v1M17 15v1M18 15v1M19 15v1M20 15v1M26 15v1M31 15v1M32 15v1M34 15v1M38 15v1M54 15v1M68 15v1M71 15v1M93 15v1M96 15v1M104 15v1M111 15v1M112 15v1M114 15v1M116 15v1M149 15v1M155 15v1M156 15v1M168 15v1M170 15v1M180 15v1M196 15v1M205 15v1M212 15v1M214 15v1M216 15v1M219 15v1M222 15v1M249 15v1M252 15v1M278 15v1M300 15v1M304 15v1M314 15v1M340 15v1M345 15v1M383 15v1M395 15v1M397 15v1M409 15v1M414 15v1M423 15v1M431 15v1M440 15v1M446 15v1M463 15v1M474 15v1M483 15v1M487 15v1M498 15v1M501 15v1M514 15v1M520 15v1M528 15v1M9 16v1M24 16v1M27 16v1M36 16v1M37 16v1M40 16v1M46 16v1M51 16v1M52 16v1M62 16v1M63 16v1M80 16v1M81 16v1M92 16v1M97 16v1M108 16v1M114 16v1M120 16v1M121 16v1M142 16v1M143 16v1M147 16v1M155 16v1M168 16v1M181 16v1M182 16v1M184 16v1M185 16v1M189 16v1M197 16v1M206 16v1M207 16v1M219 16v1M223 16v1M226 16v1M231 16v1M238 16v1M239 16v1M247 16v1M252 16v1M267 16v1M282 16v1M286 16v1M290 16v1M307 16v1M324 16v1M325 16v1M326 16v1M327 16v1M330 16v1M331 16v1M332 16v1M334 16v1M341 16v1M354 16v1M361 16v1M365 16v1M402 16v1M409 16v1M410 16v1M419 16v1M421 16v1M435 16v1M439 16v1M445 16v1M449 16v1M457 16v1M469 16v1M475 16v1M485 16v1M491 16v1M498 16v1M500 16v1M503 16v1M516 16v1M517 16v1M523 16v1M528 16v1"/>
<path stroke="#ffb2b2" d="M9 0v1M30 0v1M33 0v1M94 0v1M106 0v1M115 0v1M124 0v1M173 0v1M190 0v1M197 0v1M200 0v1M206 0v1M234 0v1M236 0v1M238 0v1M248 0v1M267 0v1M336 0v1M459 0v1M462 0v1M472 0v1M478 0v1M528 0v1M49 1v1M85 1v1M139 1v1M180 1v1M181 1v1M184 1v1M211 1v1M217 1v1M218 1v1M227 1v1M234 1v1M249 1v1M256 1v1M284 1v1M289 1v1M295 1v1M340 1v1M341 1v1M346 1v1M405 1v1M414 1v1M419 1v1M431 1v1M476 1v1M488 1v1M492 1v1M493 1v1M508 1v1M522 1v1M526 1v1M527 1v1M16 2v1M166 2v1M169 2v1M177 2v1M178 2v1M194 2v1M210 2v1M253 2v1M261 2v1M294 2v1M295 2v1M303 2v1M308 2v1M309 2v1M336 2v1M344 2v1M347 2v1M361 2v1M362 2v1M363 2v1M366 2v1M372 2v1M387 2v1M393 2v1M400 2v1M403 2v1M413 2v1M419 2v1M468 2v1M473 2v1M482 2v1M526 2v1M538 2v1M0 3v1M6 3v1M20 3v1M24 3v1M63 3v1M68 3v1M70 3v1M74 3v1M83 3v1M86 3v1M90 3v1M100 3v1M107 3v1M115 3v1M142 3v1M144 3v1M166 3v1M169 3v1M203 3v1M220 3v1M223 3v1M227 3v1M234 3v1M245 3v1M265 3v1M294 3v1M312 3v1M320 3v1M333 3v1M366 3v1M466 3v1M473 3v1M480 3v1M534 3v1M0 4v1M17 4v1M32 4v1M35 4v1M60 4v1M67 4v1M75 4v1M89 4v1M137 4v1M158 4v1M162 4v1M167 4v1M182 4v1M189 4v1M207 4v1M225 4v1M233 4v1M234 4v1M251 4v1M253 4v1M255 4v1M291 4v1M386 4v1M429 4v1M442 4v1M475 4v1M3 5v1M10 5v1M24 5v1M34 5v1M36 5v1M41 5v1M44 5v1M62 5v1M67 5v1M81 5v1M106 5v1M107 5v1M137 5v1M146 5v1M152 5v1M184 5v1M189 5v1M198 5v1M212 5v1M213 5v1M223 5v1M227 5v1M240 5v1M278 5v1M326 5v1M330 5v1M360 5v1M430 5v1M433 5v1M470 5v1M492 5v1M503 5v1M512 5v1M516 5v1M530 5v1M535 5v1M2 6v1M8 6v1M16 6v1M26 6v1M34 6v1M35 6v1M65 6v1M75 6v1M79 6v1M80 6v1M87 6v1M94 6v1M120 6v1M127 6v1M187 6v1M189 6v1M196 6v1M200 6v1M204 6v1M226 6v1M234 6v1M236 6v1M251 6v1M252 6v1M258 6v1M295 6v1M309 6v1M316 6v1M358 6v1M401 6v1M435 6v1M460 6v1M471 6v1M492 6v1M523 6v1M536 6v1M538 6v1M28 7v1M39 7v1M49 7v1M56 7v1M63 7v1M69 7v1M74 7v1M85 7v1M92 7v1M105 7v1M120 7v1M139 7v1M150 7v1M151 7v1M200 7v1M215 7v1M234 7v1M238 7v1M246 7v1M283 7v1M305 7v1M316 7v1M320 7v1M412 7v1M421 7v1M464 7v1M488 7v1M519 7v1M16 8v1M22 8v1M32 8v1M55 8v1M64 8v1M109 8v1M137 8v1M146 8v1M165 8v1M186 8v1M202 8v1M216 8v1M217 8v1M218 8v1M222 8v1M230 8v1M238 8v1M252 8v1M259 8v1M261 8v1M276 8v1M307 8v1M363 8v1M419 8v1M495 8v1M522 8v1M530 8v1M9 9v1M15 9v1M24 9v1M29 9v1M42 9v1M52 9v1M63 9v1M64 9v1M78 9v1M103 9v1M108 9v1M109 9v1M111 9v1M112 9v1M113 9v1M133 9v1M146 9v1M152 9v1M153 9v1M175 9v1M183 9v1M192 9v1M210 9v1M215 9v1M234 9v1M348 9v1M365 9v1M371 9v1M387 9v1M419 9v1M465 9v1M501 9v1M531 9v1M5 10v1M6 10v1M9 10v1M49 10v1M59 10v1M70 10v1M74 10v1M117 10v1M130 10v1M145 10v1M161 10v1M199 10v1M204 10v1M206 10v1M213 10v1M246 10v1M328 10v1M345 10v1M360 10v1M424 10v1M430 10v1M432 10v1M469 10v1M479 10v1M486 10v1M491 10v1M521 10v1M8 11v1M27 11v1M82 11v1M87 11v1M106 11v1M110 11v1M121 11v1M137 11v1M168 11v1M175 11v1M177 11v1M215 11v1M216 11v1M224 11v1M227 11v1M228 11v1M242 11v1M246 11v1M260 11v1M311 11v1M322 11v1M326 11v1M330 11v1M332 11v1M392 11v1M397 11v1M435 11v1M448 11v1M495 11v1M518 11v1M539 11v1M7 12v1M31 12v1M108 12v1M112 12v1M164 12v1M239 12v1M272 12v1M280 12v1M337 12v1M374 12v1M379 12v1M381 12v1M405 12v1M410 12v1M426 12v1M455 12v1M466 12v1M476 12v1M487 12v1M504 12v1M22 13v1M23 13v1M27 13v1M46 13v1M54 13v1M95 13v1M104 13v1M106 13v1M122 13v1M137 13v1M145 13v1M154 13v1M171 13v1M183 13v1M236 13v1M247 13v1M266 13v1M285 13v1M294 13v1M369 13v1M387 13v1M402 13v1M420 13v1M426 13v1M436 13v1M446 13v1M455 13v1M456 13v1M469 13v1M480 13v1M493 13v1M530 13v1M534 13v1M11 14v1M15 14v1M55 14v1M65 14v1M83 14v1M84 14v1M125 14v1M149 14v1M174 14v1M182 14v1M207 14v1M223 14v1M251 14v1M257 14v1M260 14v1M279 14v1M290 14v1M310 14v1M340 14v1M360 14v1M365 14v1M366 14v1M371 14v1M375 14v1M379 14v1M382 14v1M387 14v1M388 14v1M400 14v1M416 14v1M462 14v1M498 14v1M509 14v1M513 14v1M528 14v1M0 15v1M7 15v1M10 15v1M28 15v1M29 15v1M43 15v1M52 15v1M59 15v1M63 15v1M80 15v1M85 15v1M87 15v1M108 15v1M122 15v1M128 15v1M131 15v1M163 15v1M173 15v1M184 15v1M192 15v1M220 15v1M246 15v1M284 15v1M359 15v1M381 15v1M428 15v1M448 15v1M461 15v1M478 15v1M532 15v1M533 15v1M0 16v1M7 16v1M16 16v1M19 16v1M44 16v1M55 16v1M60 16v1M67 16v1M70 16v1M76 16v1M79 16v1M122 16v1M123 16v1M134 16v1M172 16v1M174 16v1M175 16v1M215 16v1M218 16v1M225 16v1M227 16v1M230 16v1M237 16v1M262 16v1M309 16v1M328 16v1M434 16v1M441 16v1M499 16v1M526 16v1"/>
<path stroke="#ff9999" d="M14 0v1M27 0v1M38 0v1M65 0v1M171 0v1M194 0v1M198 0v1M199 0v1M222 0v1M308 0v1M405 0v1M537 0v1M104 1v1M179 1v1M311 1v1M517 1v1M186 2v1M284 2v1M307 2v1M335 2v1M342 2v1M346 2v1M382 2v1M389 2v1M411 2v1M457 2v1M465 2v1M529 2v1M34 3v1M66 3v1M121 3v1M182 3v1M226 3v1M257 3v1M305 3v1M386 3v1M474 3v1M519 3v1M10 4v1M48 4v1M83 4v1M127 4v1M145 4v1M168 4v1M202 4v1M216 4v1M296 4v1M43 5v1M57 5v1M80 5v1M110 5v1M119 5v1M122 5v1M127 5v1M134 5v1M176 5v1M201 5v1M243 5v1M256 5v1M314 5v1M63 6v1M72 6v1M116 6v1M181 6v1M183 6v1M242 6v1M264 6v1M354 6v1M369 6v1M418 6v1M455 6v1M473 6v1M511 6v1M13 7v1M42 7v1M48 7v1M81 7v1M161 7v1M191 7v1M252 7v1M259 7v1M304 7v1M374 7v1M14 8v1M34 8v1M36 8v1M41 8v1M45 8v1M47 8v1M54 8v1M103 8v1M110 8v1M118 8v1M126 8v1M129 8v1M169 8v1M194 8v1M213 8v1M392 8v1M28 9v1M110 9v1M121 9v1M172 9v1M187 9v1M191 9v1M231 9v1M243 9v1M322 9v1M377 9v1M380 9v1M394 9v1M435 9v1M451 9v1M452 9v1M502 9v1M536 9v1M14 10v1M64 10v1M107 10v1M191 10v1M325 10v1M520 10v1M9 11v1M22 11v1M34 11v1M43 11v1M62 11v1M93 11v1M149 11v1M164 11v1M170 11v1M187 11v1M266 11v1M328 11v1M352 11v1M459 11v1M15 12v1M29 12v1M327 12v1M360 12v1M362 12v1M387 12v1M392 12v1M402 12v1M439 12v1M446 12v1M5 13v1M33 13v1M70 13v1M151 13v1M156 13v1M240 13v1M320 13v1M341 13v1M519 13v1M103 14v1M160 14v1M232 14v1M238 14v1M264 14v1M289 14v1M314 14v1M319 14v1M369 14v1M407 14v1M439 14v1M444 14v1M500 14v1M521 14v1M529 14v1M538 14v1M5 15v1M13 15v1M67 15v1M118 15v1M150 15v1M166 15v1M253 15v1M303 15v1M13 16v1M59 16v1M105 16v1M130 16v1M131 16v1M186 16v1M192 16v1M220 16v1M278 16v1M375 16v1M425 16v1"/>
<path stroke="#ff8080" d="M22 0v1M126 0v1M128 0v1M237 0v1M117 1v1M301 1v1M473 1v1M201 2v1M221 2v1M275 2v1M329 2v1M334 2v1M390 2v1M491 2v1M7 3v1M54 4v1M153 4v1M217 4v1M260 4v1M313 4v1M9 5v1M51 5v1M77 5v1M82 5v1M129 5v1M147 5v1M156 5v1M307 5v1M45 6v1M50 6v1M83 6v1M89 6v1M118 6v1M167 6v1M311 6v1M314 6v1M213 7v1M0 9v1M22 9v1M247 9v1M441 9v1M61 10v1M119 10v1M262 10v1M20 11v1M109 11v1M519 11v1M533 11v1M113 12v1M383 12v1M480 12v1M45 13v1M127 13v1M142 13v1M176 13v1M242 13v1M396 13v1M422 13v1M433 13v1M475 13v1M531 13v1M12 14v1M179 14v1M267 14v1M293 14v1M342 14v1M431 14v1M484 14v1M158 15v1M162 15v1M240 15v1M489 15v1M188 16v1"/>
<path stroke="#ff6666" d="M189 3v1M364 3v1M177 5v1M384 5v1M209 6v1M439 7v1M112 8v1M225 9v1M240 9v1M306 9v1M526 9v1M21 10v1M232 10v1M212 13v1M43 14v1M337 14v1M394 14v1M428 14v1M463 14v1M466 15v1M254 16v1"/>
<path stroke="#ff4d4d" d="M466 1v1M89 5v1M228 9v1M486 9v1M317 10v1M410 11v1M516 12v1M525 12v1M180 13v1M9 14v1M411 14v1M417 14v1M427 14v1M468 14v1M242 15v1M255 15v1M229 16v1"/>
<path stroke="#ff3333" d="M44 1v1M524 6v1M371 7v1M238 9v1M471 9v1M15 10v1M469 14v1M201 15v1M264 15v1M212 16v1M213 16v1M261 16v1"/>
<path stroke="#ff1919" d="M431 3v1M236 9v1M344 12v1M308 14v1M445 14v1M494 14v1M208 15v1M210 15v1M221 15v1M241 15v1M258 15v1M235 16v1M257 16v1M260 16v1"/>
<path stroke="#ff0000" d="M268 0v1M269 0v1M26 1v1M32 1v1M62 1v1M134 1v1M205 1v1M269 1v1M169 11v1M225 15v1M231 15v1"/>
</g>
<text font-weight="bold" textLength="20" lengthAdjust="spacingAndGlyphs" font-size="10" x="630" y="1153.4">Risk</text>
<text fill="#3a3a3a" font-size="10.7" x="630" y="1176">S100Z</text>
<text fill="#3a3a3a" font-size="10.7" x="630" y="1199.28">BDNF</text>
<text fill="#3a3a3a" font-size="10.7" x="630" y="1222.56">PPARGC1A</text>
<text fill="#3a3a3a" font-size="10.7" x="630" y="1245.84">TRAF5</text>
<text fill="#3a3a3a" font-size="10.7" x="630" y="1269.12">NOXA1</text>
<text fill="#3a3a3a" font-size="10.7" x="630" y="1292.4">DDIT3</text>
<text fill="#3a3a3a" font-size="10.7" x="630" y="1315.68">AGER</text>
<text fill="#3a3a3a" font-size="10.7" x="630" y="1338.96">VAV2</text>
<text fill="#3a3a3a" font-size="10.7" x="630" y="1362.24">NMB</text>
<text fill="#3a3a3a" font-size="10.7" x="630" y="1385.52">MC1R</text>
<text fill="#3a3a3a" font-size="10.7" x="630" y="1408.8">TRAF2</text>
<text fill="#3a3a3a" font-size="10.7" x="630" y="1432.08">CNPY3</text>
<text fill="#3a3a3a" font-size="10.7" x="630" y="1455.36">CTNNB1</text>
<text fill="#3a3a3a" font-size="10.7" x="630" y="1478.64">TRIM58</text>
<text fill="#3a3a3a" font-size="10.7" x="630" y="1501.92">GLP2R</text>
<text fill="#3a3a3a" font-size="10.7" x="630" y="1525.2">PTH1R</text>
<text fill="#3a3a3a" font-size="10.7" x="630" y="1548.48">CD36</text>
<defs><linearGradient id="gg" x1="0" y1="0" x2="0" y2="1"><stop offset="0" stop-color="#f00"/><stop offset="0.337" stop-color="#f00"/><stop offset="0.500" stop-color="#fff"/><stop offset="0.664" stop-color="#00f"/><stop offset="1" stop-color="#00f"/></linearGradient></defs>
<rect x="697.1" y="1143" width="14.8" height="223" fill="url(#gg)" />
<text fill="#222" textLength="10.51" lengthAdjust="spacingAndGlyphs" font-size="10.5" x="716.7" y="1147.6">15</text>
<text fill="#222" textLength="10.51" lengthAdjust="spacingAndGlyphs" font-size="10.5" x="716.7" y="1184">10</text>
<text fill="#222" textLength="5.26" lengthAdjust="spacingAndGlyphs" font-size="10.5" x="716.7" y="1221.8">5</text>
<text fill="#222" textLength="5.26" lengthAdjust="spacingAndGlyphs" font-size="10.5" x="716.7" y="1258.3">0</text>
<text fill="#222" textLength="10.77" lengthAdjust="spacingAndGlyphs" font-size="10.5" x="716.7" y="1295.4">−5</text>
<text fill="#222" textLength="16.03" lengthAdjust="spacingAndGlyphs" font-size="10.5" x="716.7" y="1331.9">−10</text>
<text fill="#222" textLength="16.03" lengthAdjust="spacingAndGlyphs" font-size="10.5" x="716.7" y="1369.1">−15</text>
<text textLength="26.5" lengthAdjust="spacingAndGlyphs" font-size="20" x="733.6" y="1161.6">Risk</text>
<rect x="734.1" y="1173.7" width="19.6" height="30" fill="#ff0000" />
<rect x="734.1" y="1203.7" width="19.6" height="30.9" fill="#0000ff" />
<text textLength="23.8" lengthAdjust="spacingAndGlyphs" font-size="20" x="757.1" y="1195.9">high</text>
<text textLength="18.6" lengthAdjust="spacingAndGlyphs" font-size="20" x="757.1" y="1226">low</text>
<text font-weight="bold" font-size="27.5" x="776" y="1121.2">H</text>
<rect x="859.5" y="1141.5" width="264.5" height="11" fill="#ff0000" />
<rect x="1124" y="1141.5" width="264.5" height="11" fill="#0000ff" />
<g shape-rendering="crispEdges">
<path fill="#ffeeee" d="M935.08 1156.2h7.68v23.15h-7.68zM957.6 1156.2h7.68v23.15h-7.68zM1003.4 1156.2h7.28v23.15h-7.28zM1183.16 1156.2h8.07v23.15h-8.07zM1213.44 1156.2h7.68v23.15h-7.68zM1236.34 1156.2h7.43v23.15h-7.43zM1334.92 1156.2h14.94v23.15h-14.94zM920.07 1179.3h7.43v23.15h-7.43zM935.08 1179.3h7.68v23.15h-7.68zM1160.89 1179.3h7.17v23.15h-7.17zM1251.6 1179.3h8.07v23.15h-8.07zM1342.55 1179.3h7.3v23.15h-7.3zM889.92 1202.4h7.3v23.15h-7.3zM979.87 1202.4h8.07v23.15h-8.07zM1003.4 1202.4h7.28v23.15h-7.28zM1048.55 1202.4h7.56v23.15h-7.56zM1175.27 1202.4h7.94v23.15h-7.94zM1259.62 1202.4h7.05v23.15h-7.05zM1274.12 1202.4h7.81v23.15h-7.81zM859.5 1225.5h7.44v23.15h-7.44zM889.92 1225.5h7.3v23.15h-7.3zM1033.92 1225.5h7.3v23.15h-7.3zM1266.62 1225.5h7.56v23.15h-7.56zM1319.02 1225.5h7.94v23.15h-7.94zM927.45 1248.6h7.68v23.15h-7.68zM1041.17 1248.6h14.94v23.15h-14.94zM1117.12 1248.6h8.07v23.15h-8.07zM1296.9 1248.6h7.56v23.15h-7.56zM1312.02 1248.6h7.05v23.15h-7.05zM1380.08 1248.6h8.32v23.15h-8.32zM882.16 1271.7h7.81v23.15h-7.81zM1018.27 1271.7h7.68v23.15h-7.68zM1093.97 1271.7h7.43v23.15h-7.43zM1304.4 1271.7h7.67v23.15h-7.67zM1334.92 1271.7h7.68v23.15h-7.68zM874.27 1294.8h7.94v23.15h-7.94zM912.44 1294.8h7.68v23.15h-7.68zM1063.82 1294.8h7.56v23.15h-7.56zM1109.24 1294.8h7.94v23.15h-7.94zM1125.14 1294.8h5.14v23.15h-5.14zM1243.72 1294.8h7.94v23.15h-7.94zM1274.12 1294.8h7.81v23.15h-7.81zM1373.09 1294.8h15.32v23.15h-15.32zM882.16 1317.9h7.81v23.15h-7.81zM912.44 1317.9h7.68v23.15h-7.68zM935.08 1317.9h7.68v23.15h-7.68zM949.97 1317.9h7.68v23.15h-7.68zM979.87 1317.9h8.07v23.15h-8.07zM1041.17 1317.9h7.43v23.15h-7.43zM1093.97 1317.9h7.43v23.15h-7.43zM1109.24 1317.9h7.94v23.15h-7.94zM1137.86 1317.9h8.07v23.15h-8.07zM1153.13 1317.9h7.81v23.15h-7.81zM1191.17 1317.9h7.68v23.15h-7.68zM1319.02 1317.9h7.94v23.15h-7.94zM1334.92 1317.9h7.68v23.15h-7.68zM889.92 1341h7.3v23.15h-7.3zM979.87 1341h8.07v23.15h-8.07zM995.77 1341h7.68v23.15h-7.68zM1041.17 1341h7.43v23.15h-7.43zM1221.07 1341h8.07v23.15h-8.07zM1281.88 1341h7.94v23.15h-7.94zM1296.9 1341h7.56v23.15h-7.56zM1342.55 1341h7.3v23.15h-7.3zM920.07 1364.1h7.43v23.15h-7.43zM957.6 1364.1h7.68v23.15h-7.68zM972.87 1364.1h7.05v23.15h-7.05zM1175.27 1364.1h7.94v23.15h-7.94zM1334.92 1364.1h7.68v23.15h-7.68zM912.44 1387.2h7.68v23.15h-7.68zM942.72 1387.2h7.3v23.15h-7.3zM1025.9 1387.2h8.07v23.15h-8.07zM1137.86 1387.2h23.08v23.15h-23.08zM1198.8 1387.2h14.68v23.15h-14.68zM1274.12 1387.2h7.81v23.15h-7.81zM866.89 1410.3h23.08v23.15h-23.08zM987.88 1410.3h7.94v23.15h-7.94zM1003.4 1410.3h7.28v23.15h-7.28zM1041.17 1410.3h7.43v23.15h-7.43zM1153.13 1410.3h7.81v23.15h-7.81zM889.92 1433.4h7.3v23.15h-7.3zM1018.27 1433.4h7.68v23.15h-7.68zM1145.88 1433.4h7.3v23.15h-7.3zM1274.12 1433.4h7.81v23.15h-7.81zM1010.64 1456.5h7.68v23.15h-7.68zM1109.24 1456.5h7.94v23.15h-7.94zM1175.27 1456.5h7.94v23.15h-7.94zM1191.17 1456.5h7.68v23.15h-7.68zM1229.08 1456.5h7.3v23.15h-7.3zM1319.02 1456.5h15.95v23.15h-15.95zM874.27 1479.6h7.94v23.15h-7.94zM904.8 1479.6h7.68v23.15h-7.68zM965.23 1479.6h14.68v23.15h-14.68zM995.77 1479.6h7.68v23.15h-7.68zM1086.72 1479.6h7.3v23.15h-7.3zM1137.86 1479.6h8.07v23.15h-8.07zM1175.27 1479.6h7.94v23.15h-7.94zM1213.44 1479.6h7.68v23.15h-7.68zM1266.62 1479.6h7.56v23.15h-7.56zM1296.9 1479.6h7.56v23.15h-7.56zM1326.9 1479.6h8.07v23.15h-8.07zM1003.4 1502.7h7.28v23.15h-7.28zM1243.72 1502.7h7.94v23.15h-7.94zM1289.77 1502.7h7.17v23.15h-7.17zM1342.55 1502.7h7.3v23.15h-7.3zM1357.44 1502.7h7.68v23.15h-7.68zM866.89 1525.8h7.43v23.15h-7.43zM882.16 1525.8h7.81v23.15h-7.81zM1041.17 1525.8h7.43v23.15h-7.43zM1079.08 1525.8h7.68v23.15h-7.68zM1101.35 1525.8h7.94v23.15h-7.94z"/>
<path fill="#ffd0d0" d="M897.17 1156.2h7.68v23.15h-7.68zM972.87 1156.2h7.05v23.15h-7.05zM1063.82 1156.2h7.56v23.15h-7.56zM1117.12 1156.2h13.15v23.15h-13.15zM1312.02 1156.2h7.05v23.15h-7.05zM1349.8 1156.2h7.68v23.15h-7.68zM1033.92 1179.3h7.3v23.15h-7.3zM1071.32 1179.3h7.81v23.15h-7.81zM1109.24 1179.3h7.94v23.15h-7.94zM1221.07 1179.3h8.07v23.15h-8.07zM1236.34 1179.3h7.43v23.15h-7.43zM1266.62 1179.3h7.56v23.15h-7.56zM882.16 1202.4h7.81v23.15h-7.81zM1243.72 1202.4h7.94v23.15h-7.94zM1281.88 1202.4h7.94v23.15h-7.94zM920.07 1225.5h7.43v23.15h-7.43zM972.87 1225.5h7.05v23.15h-7.05zM995.77 1225.5h7.68v23.15h-7.68zM1183.16 1225.5h8.07v23.15h-8.07zM1380.08 1225.5h8.32v23.15h-8.32zM882.16 1248.6h7.81v23.15h-7.81zM1145.88 1248.6h7.3v23.15h-7.3zM1281.88 1248.6h7.94v23.15h-7.94zM1373.09 1248.6h7.05v23.15h-7.05zM889.92 1271.7h7.3v23.15h-7.3zM1003.4 1271.7h14.92v23.15h-14.92zM1086.72 1271.7h7.3v23.15h-7.3zM1109.24 1271.7h7.94v23.15h-7.94zM1191.17 1271.7h7.68v23.15h-7.68zM1319.02 1271.7h7.94v23.15h-7.94zM1373.09 1271.7h7.05v23.15h-7.05zM949.97 1294.8h7.68v23.15h-7.68zM995.77 1294.8h7.68v23.15h-7.68zM1137.86 1294.8h8.07v23.15h-8.07zM1198.8 1294.8h7.3v23.15h-7.3zM1221.07 1294.8h8.07v23.15h-8.07zM1304.4 1294.8h7.67v23.15h-7.67zM942.72 1317.9h7.3v23.15h-7.3zM1003.4 1317.9h7.28v23.15h-7.28zM1056.06 1317.9h7.81v23.15h-7.81zM1130.23 1317.9h7.68v23.15h-7.68zM1221.07 1317.9h8.07v23.15h-8.07zM1243.72 1317.9h7.94v23.15h-7.94zM1326.9 1317.9h8.07v23.15h-8.07zM1349.8 1317.9h7.68v23.15h-7.68zM866.89 1341h7.43v23.15h-7.43zM1063.82 1341h7.56v23.15h-7.56zM1289.77 1341h7.17v23.15h-7.17zM882.16 1364.1h7.81v23.15h-7.81zM935.08 1364.1h7.68v23.15h-7.68zM995.77 1364.1h7.68v23.15h-7.68zM1041.17 1364.1h7.43v23.15h-7.43zM1093.97 1364.1h7.43v23.15h-7.43zM1137.86 1364.1h8.07v23.15h-8.07zM1160.89 1364.1h7.17v23.15h-7.17zM1206.06 1364.1h7.43v23.15h-7.43zM1266.62 1364.1h7.56v23.15h-7.56zM1289.77 1364.1h7.17v23.15h-7.17zM882.16 1387.2h7.81v23.15h-7.81zM935.08 1387.2h7.68v23.15h-7.68zM987.88 1387.2h7.94v23.15h-7.94zM1160.89 1387.2h7.17v23.15h-7.17zM1251.6 1387.2h8.07v23.15h-8.07zM1071.32 1410.3h7.81v23.15h-7.81zM1101.35 1410.3h7.94v23.15h-7.94zM1145.88 1410.3h7.3v23.15h-7.3zM1304.4 1410.3h7.67v23.15h-7.67zM1349.8 1410.3h7.68v23.15h-7.68zM1380.08 1410.3h8.32v23.15h-8.32zM897.17 1433.4h7.68v23.15h-7.68zM1086.72 1433.4h7.3v23.15h-7.3zM1357.44 1433.4h15.7v23.15h-15.7zM1213.44 1456.5h7.68v23.15h-7.68zM1312.02 1456.5h7.05v23.15h-7.05zM859.5 1479.6h7.44v23.15h-7.44zM979.87 1479.6h8.07v23.15h-8.07zM1010.64 1479.6h7.68v23.15h-7.68zM1033.92 1479.6h14.68v23.15h-14.68zM897.17 1502.7h7.68v23.15h-7.68zM1048.55 1502.7h7.56v23.15h-7.56zM1183.16 1502.7h8.07v23.15h-8.07zM1312.02 1502.7h7.05v23.15h-7.05zM1373.09 1502.7h7.05v23.15h-7.05zM942.72 1525.8h7.3v23.15h-7.3zM1109.24 1525.8h7.94v23.15h-7.94zM1137.86 1525.8h8.07v23.15h-8.07zM1229.08 1525.8h7.3v23.15h-7.3zM1281.88 1525.8h15.06v23.15h-15.06z"/>
<path fill="#ffb0b0" d="M882.16 1156.2h7.81v23.15h-7.81zM995.77 1156.2h7.68v23.15h-7.68zM1206.06 1156.2h7.43v23.15h-7.43zM979.87 1179.3h8.07v23.15h-8.07zM1003.4 1179.3h14.92v23.15h-14.92zM1206.06 1179.3h7.43v23.15h-7.43zM866.89 1202.4h7.43v23.15h-7.43zM1101.35 1202.4h7.94v23.15h-7.94zM1229.08 1202.4h7.3v23.15h-7.3zM987.88 1225.5h7.94v23.15h-7.94zM1010.64 1225.5h7.68v23.15h-7.68zM1063.82 1225.5h7.56v23.15h-7.56zM1274.12 1225.5h7.81v23.15h-7.81zM1304.4 1225.5h7.67v23.15h-7.67zM1357.44 1225.5h7.68v23.15h-7.68zM897.17 1248.6h7.68v23.15h-7.68zM920.07 1248.6h7.43v23.15h-7.43zM972.87 1248.6h7.05v23.15h-7.05zM1063.82 1248.6h7.56v23.15h-7.56zM1101.35 1248.6h7.94v23.15h-7.94zM1198.8 1248.6h7.3v23.15h-7.3zM1334.92 1248.6h7.68v23.15h-7.68zM1221.07 1271.7h8.07v23.15h-8.07zM1025.9 1294.8h8.07v23.15h-8.07zM1206.06 1294.8h7.43v23.15h-7.43zM1229.08 1294.8h7.3v23.15h-7.3zM889.92 1317.9h7.3v23.15h-7.3zM1145.88 1317.9h7.3v23.15h-7.3zM1251.6 1317.9h8.07v23.15h-8.07zM1304.4 1317.9h7.67v23.15h-7.67zM1357.44 1317.9h7.68v23.15h-7.68zM1373.09 1317.9h7.05v23.15h-7.05zM1086.72 1341h7.3v23.15h-7.3zM1266.62 1341h15.32v23.15h-15.32zM897.17 1364.1h7.68v23.15h-7.68zM987.88 1364.1h7.94v23.15h-7.94zM1168.02 1364.1h7.3v23.15h-7.3zM1296.9 1364.1h15.17v23.15h-15.17zM1063.82 1387.2h15.32v23.15h-15.32zM1259.62 1387.2h7.05v23.15h-7.05zM912.44 1410.3h7.68v23.15h-7.68zM972.87 1410.3h7.05v23.15h-7.05zM1109.24 1410.3h7.94v23.15h-7.94zM1259.62 1410.3h7.05v23.15h-7.05zM1063.82 1433.4h7.56v23.15h-7.56zM1221.07 1433.4h8.07v23.15h-8.07zM1259.62 1433.4h7.05v23.15h-7.05zM874.27 1456.5h7.94v23.15h-7.94zM995.77 1456.5h7.68v23.15h-7.68zM1137.86 1456.5h8.07v23.15h-8.07zM1259.62 1456.5h7.05v23.15h-7.05zM1018.27 1479.6h7.68v23.15h-7.68zM1145.88 1479.6h7.3v23.15h-7.3zM1349.8 1479.6h7.68v23.15h-7.68zM995.77 1502.7h7.68v23.15h-7.68zM1063.82 1502.7h7.56v23.15h-7.56zM1079.08 1502.7h7.68v23.15h-7.68zM1175.27 1502.7h7.94v23.15h-7.94zM965.23 1525.8h7.68v23.15h-7.68z"/>
<path fill="#ff9090" d="M859.5 1156.2h7.44v23.15h-7.44zM1229.08 1156.2h7.3v23.15h-7.3zM859.5 1179.3h7.44v23.15h-7.44zM1117.12 1179.3h8.07v23.15h-8.07zM1191.17 1179.3h7.68v23.15h-7.68zM1289.77 1179.3h7.17v23.15h-7.17zM1304.4 1202.4h7.67v23.15h-7.67zM1365.07 1202.4h8.07v23.15h-8.07zM1380.08 1202.4h8.32v23.15h-8.32zM897.17 1225.5h7.68v23.15h-7.68zM949.97 1225.5h7.68v23.15h-7.68zM1168.02 1225.5h7.3v23.15h-7.3zM1221.07 1225.5h8.07v23.15h-8.07zM1243.72 1225.5h7.94v23.15h-7.94zM1312.02 1225.5h7.05v23.15h-7.05zM935.08 1248.6h7.68v23.15h-7.68zM1071.32 1248.6h7.81v23.15h-7.81zM1191.17 1248.6h7.68v23.15h-7.68zM1229.08 1248.6h7.3v23.15h-7.3zM1326.9 1248.6h8.07v23.15h-8.07zM1349.8 1248.6h7.68v23.15h-7.68zM935.08 1271.7h7.68v23.15h-7.68zM1117.12 1271.7h8.07v23.15h-8.07zM1380.08 1271.7h8.32v23.15h-8.32zM897.17 1294.8h7.68v23.15h-7.68zM979.87 1294.8h8.07v23.15h-8.07zM1093.97 1294.8h7.43v23.15h-7.43zM1289.77 1294.8h14.68v23.15h-14.68zM897.17 1317.9h7.68v23.15h-7.68zM920.07 1317.9h7.43v23.15h-7.43zM957.6 1317.9h7.68v23.15h-7.68zM987.88 1317.9h7.94v23.15h-7.94zM1048.55 1317.9h7.56v23.15h-7.56zM1365.07 1317.9h8.07v23.15h-8.07zM897.17 1341h7.68v23.15h-7.68zM920.07 1341h15.06v23.15h-15.06zM1093.97 1341h15.32v23.15h-15.32zM1206.06 1341h7.43v23.15h-7.43zM1259.62 1341h7.05v23.15h-7.05zM1334.92 1341h7.68v23.15h-7.68zM889.92 1364.1h7.3v23.15h-7.3zM1063.82 1364.1h7.56v23.15h-7.56zM897.17 1387.2h7.68v23.15h-7.68zM859.5 1410.3h7.44v23.15h-7.44zM1010.64 1410.3h15.32v23.15h-15.32zM1033.92 1410.3h7.3v23.15h-7.3zM1079.08 1410.3h7.68v23.15h-7.68zM1117.12 1410.3h8.07v23.15h-8.07zM1183.16 1410.3h8.07v23.15h-8.07zM1221.07 1410.3h8.07v23.15h-8.07zM1266.62 1410.3h7.56v23.15h-7.56zM1365.07 1410.3h8.07v23.15h-8.07zM859.5 1433.4h7.44v23.15h-7.44zM904.8 1433.4h7.68v23.15h-7.68zM1025.9 1433.4h8.07v23.15h-8.07zM1266.62 1433.4h7.56v23.15h-7.56zM1296.9 1433.4h7.56v23.15h-7.56zM897.17 1456.5h7.68v23.15h-7.68zM965.23 1456.5h7.68v23.15h-7.68zM1198.8 1456.5h7.3v23.15h-7.3zM1236.34 1456.5h7.43v23.15h-7.43zM889.92 1479.6h7.3v23.15h-7.3zM1048.55 1479.6h7.56v23.15h-7.56zM1243.72 1479.6h7.94v23.15h-7.94zM1304.4 1502.7h7.67v23.15h-7.67zM1319.02 1502.7h7.94v23.15h-7.94zM859.5 1525.8h7.44v23.15h-7.44zM912.44 1525.8h7.68v23.15h-7.68zM1160.89 1525.8h7.17v23.15h-7.17zM1175.27 1525.8h7.94v23.15h-7.94zM1236.34 1525.8h7.43v23.15h-7.43zM1251.6 1525.8h8.07v23.15h-8.07z"/>
<path fill="#ff7070" d="M1048.55 1156.2h7.56v23.15h-7.56zM1101.35 1179.3h7.94v23.15h-7.94zM1198.8 1202.4h7.3v23.15h-7.3zM1296.9 1202.4h7.56v23.15h-7.56zM1312.02 1202.4h14.94v23.15h-14.94zM874.27 1225.5h7.94v23.15h-7.94zM1071.32 1225.5h7.81v23.15h-7.81zM1198.8 1225.5h7.3v23.15h-7.3zM1213.44 1225.5h7.68v23.15h-7.68zM949.97 1248.6h7.68v23.15h-7.68zM957.6 1271.7h7.68v23.15h-7.68zM1071.32 1271.7h7.81v23.15h-7.81zM1101.35 1271.7h7.94v23.15h-7.94zM1101.35 1294.8h7.94v23.15h-7.94zM1145.88 1294.8h7.3v23.15h-7.3zM1168.02 1294.8h7.3v23.15h-7.3zM1183.16 1294.8h8.07v23.15h-8.07zM866.89 1317.9h7.43v23.15h-7.43zM965.23 1317.9h14.68v23.15h-14.68zM1101.35 1317.9h7.94v23.15h-7.94zM882.16 1341h7.81v23.15h-7.81zM949.97 1341h7.68v23.15h-7.68zM987.88 1341h7.94v23.15h-7.94zM904.8 1364.1h7.68v23.15h-7.68zM1380.08 1364.1h8.32v23.15h-8.32zM889.92 1387.2h7.3v23.15h-7.3zM904.8 1387.2h7.68v23.15h-7.68zM965.23 1387.2h7.68v23.15h-7.68zM1125.14 1387.2h5.14v23.15h-5.14zM1319.02 1387.2h7.94v23.15h-7.94zM920.07 1410.3h7.43v23.15h-7.43zM942.72 1410.3h7.3v23.15h-7.3zM1373.09 1410.3h7.05v23.15h-7.05zM995.77 1433.4h7.68v23.15h-7.68zM1160.89 1433.4h7.17v23.15h-7.17zM1175.27 1433.4h7.94v23.15h-7.94zM1251.6 1433.4h8.07v23.15h-8.07zM1130.23 1456.5h7.68v23.15h-7.68zM1206.06 1479.6h7.43v23.15h-7.43zM1229.08 1479.6h7.3v23.15h-7.3zM1289.77 1479.6h7.17v23.15h-7.17zM972.87 1502.7h7.05v23.15h-7.05zM1018.27 1502.7h7.68v23.15h-7.68zM1326.9 1502.7h8.07v23.15h-8.07zM935.08 1525.8h7.68v23.15h-7.68zM1117.12 1525.8h8.07v23.15h-8.07z"/>
<path fill="#ff5050" d="M942.72 1156.2h7.3v23.15h-7.3zM1086.72 1156.2h7.3v23.15h-7.3zM1259.62 1156.2h7.05v23.15h-7.05zM1365.07 1156.2h8.07v23.15h-8.07zM1056.06 1179.3h7.81v23.15h-7.81zM874.27 1202.4h7.94v23.15h-7.94zM897.17 1202.4h7.68v23.15h-7.68zM927.45 1202.4h7.68v23.15h-7.68zM1125.14 1202.4h5.14v23.15h-5.14zM1153.13 1202.4h7.81v23.15h-7.81zM1326.9 1202.4h8.07v23.15h-8.07zM1018.27 1225.5h7.68v23.15h-7.68zM1093.97 1225.5h7.43v23.15h-7.43zM1296.9 1225.5h7.56v23.15h-7.56zM1365.07 1225.5h8.07v23.15h-8.07zM874.27 1248.6h7.94v23.15h-7.94zM1025.9 1248.6h8.07v23.15h-8.07zM1086.72 1248.6h7.3v23.15h-7.3zM1243.72 1248.6h7.94v23.15h-7.94zM1281.88 1294.8h7.94v23.15h-7.94zM1326.9 1294.8h8.07v23.15h-8.07zM904.8 1317.9h7.68v23.15h-7.68zM1206.06 1317.9h7.43v23.15h-7.43zM904.8 1341h7.68v23.15h-7.68zM1380.08 1341h8.32v23.15h-8.32zM1025.9 1364.1h8.07v23.15h-8.07zM1183.16 1364.1h8.07v23.15h-8.07zM1304.4 1387.2h7.67v23.15h-7.67zM1373.09 1387.2h7.05v23.15h-7.05zM927.45 1433.4h7.68v23.15h-7.68zM979.87 1433.4h8.07v23.15h-8.07zM1056.06 1433.4h7.81v23.15h-7.81zM1153.13 1433.4h7.81v23.15h-7.81zM1206.06 1433.4h7.43v23.15h-7.43zM1380.08 1433.4h8.32v23.15h-8.32zM949.97 1479.6h7.68v23.15h-7.68zM1025.9 1479.6h8.07v23.15h-8.07zM1130.23 1479.6h7.68v23.15h-7.68zM1312.02 1479.6h7.05v23.15h-7.05zM1365.07 1479.6h8.07v23.15h-8.07zM889.92 1502.7h7.3v23.15h-7.3zM987.88 1502.7h7.94v23.15h-7.94zM1221.07 1502.7h8.07v23.15h-8.07zM927.45 1525.8h7.68v23.15h-7.68zM1056.06 1525.8h7.81v23.15h-7.81zM1319.02 1525.8h7.94v23.15h-7.94z"/>
<path fill="#ff3030" d="M1010.64 1156.2h7.68v23.15h-7.68zM1079.08 1156.2h7.68v23.15h-7.68zM1093.97 1156.2h7.43v23.15h-7.43zM1175.27 1156.2h7.94v23.15h-7.94zM1198.8 1156.2h7.3v23.15h-7.3zM1319.02 1156.2h7.94v23.15h-7.94zM1168.02 1202.4h7.3v23.15h-7.3zM1191.17 1202.4h7.68v23.15h-7.68zM1086.72 1225.5h7.3v23.15h-7.3zM889.92 1248.6h7.3v23.15h-7.3zM957.6 1248.6h7.68v23.15h-7.68zM979.87 1248.6h8.07v23.15h-8.07zM1274.12 1248.6h7.81v23.15h-7.81zM1319.02 1248.6h7.94v23.15h-7.94zM1342.55 1248.6h7.3v23.15h-7.3zM927.45 1271.7h7.68v23.15h-7.68zM972.87 1271.7h7.05v23.15h-7.05zM1326.9 1271.7h8.07v23.15h-8.07zM949.97 1364.1h7.68v23.15h-7.68zM965.23 1364.1h7.68v23.15h-7.68zM1048.55 1364.1h15.32v23.15h-15.32zM1086.72 1364.1h7.3v23.15h-7.3zM1101.35 1364.1h15.83v23.15h-15.83zM920.07 1387.2h7.43v23.15h-7.43zM1334.92 1387.2h7.68v23.15h-7.68zM1349.8 1387.2h7.68v23.15h-7.68zM1063.82 1410.3h7.56v23.15h-7.56zM866.89 1433.4h7.43v23.15h-7.43zM935.08 1433.4h7.68v23.15h-7.68zM1198.8 1433.4h7.3v23.15h-7.3zM1373.09 1433.4h7.05v23.15h-7.05zM1145.88 1456.5h7.3v23.15h-7.3zM1342.55 1456.5h7.3v23.15h-7.3zM1319.02 1479.6h7.94v23.15h-7.94zM965.23 1502.7h7.68v23.15h-7.68zM1191.17 1502.7h7.68v23.15h-7.68zM1010.64 1525.8h7.68v23.15h-7.68z"/>
<path fill="#ff1010" d="M1380.08 1156.2h8.32v23.15h-8.32zM1130.23 1202.4h7.68v23.15h-7.68zM1183.16 1202.4h8.07v23.15h-8.07zM1168.02 1248.6h7.3v23.15h-7.3zM1025.9 1271.7h8.07v23.15h-8.07zM1168.02 1271.7h7.3v23.15h-7.3zM957.6 1294.8h7.68v23.15h-7.68zM1319.02 1294.8h7.94v23.15h-7.94zM1025.9 1317.9h8.07v23.15h-8.07zM1079.08 1317.9h7.68v23.15h-7.68zM1266.62 1317.9h7.56v23.15h-7.56zM1380.08 1317.9h8.32v23.15h-8.32zM957.6 1341h7.68v23.15h-7.68zM1003.4 1341h7.28v23.15h-7.28zM1130.23 1341h7.68v23.15h-7.68zM1304.4 1341h7.67v23.15h-7.67zM1373.09 1341h7.05v23.15h-7.05zM1117.12 1364.1h8.07v23.15h-8.07zM1221.07 1364.1h8.07v23.15h-8.07zM1079.08 1387.2h7.68v23.15h-7.68zM1221.07 1387.2h8.07v23.15h-8.07zM1334.92 1410.3h7.68v23.15h-7.68zM882.16 1433.4h7.81v23.15h-7.81zM972.87 1433.4h7.05v23.15h-7.05zM1130.23 1433.4h7.68v23.15h-7.68zM1334.92 1433.4h7.68v23.15h-7.68zM920.07 1479.6h7.43v23.15h-7.43zM1079.08 1479.6h7.68v23.15h-7.68zM1041.17 1502.7h7.43v23.15h-7.43zM1101.35 1502.7h7.94v23.15h-7.94zM1093.97 1525.8h7.43v23.15h-7.43z"/>
<path fill="#ff0000" d="M987.88 1156.2h7.94v23.15h-7.94zM1109.24 1156.2h7.94v23.15h-7.94zM1296.9 1156.2h7.56v23.15h-7.56zM866.89 1179.3h7.43v23.15h-7.43zM912.44 1179.3h7.68v23.15h-7.68zM927.45 1179.3h7.68v23.15h-7.68zM1063.82 1179.3h7.56v23.15h-7.56zM965.23 1202.4h7.68v23.15h-7.68zM1221.07 1202.4h8.07v23.15h-8.07zM1349.8 1202.4h7.68v23.15h-7.68zM979.87 1225.5h8.07v23.15h-8.07zM1003.4 1225.5h7.28v23.15h-7.28zM1025.9 1225.5h8.07v23.15h-8.07zM1101.35 1225.5h7.94v23.15h-7.94zM965.23 1248.6h7.68v23.15h-7.68zM1183.16 1248.6h8.07v23.15h-8.07zM949.97 1271.7h7.68v23.15h-7.68zM965.23 1271.7h7.68v23.15h-7.68zM1079.08 1271.7h7.68v23.15h-7.68zM1153.13 1271.7h7.81v23.15h-7.81zM1206.06 1271.7h7.43v23.15h-7.43zM889.92 1294.8h7.3v23.15h-7.3zM987.88 1294.8h7.94v23.15h-7.94zM1086.72 1294.8h7.3v23.15h-7.3zM1086.72 1317.9h7.3v23.15h-7.3zM1079.08 1341h7.68v23.15h-7.68zM1117.12 1341h8.07v23.15h-8.07zM1071.32 1364.1h7.81v23.15h-7.81zM1183.16 1387.2h8.07v23.15h-8.07zM1266.62 1387.2h7.56v23.15h-7.56zM1289.77 1387.2h7.17v23.15h-7.17zM1380.08 1387.2h8.32v23.15h-8.32zM889.92 1410.3h7.3v23.15h-7.3zM995.77 1410.3h7.68v23.15h-7.68zM1093.97 1410.3h7.43v23.15h-7.43zM1289.77 1410.3h7.17v23.15h-7.17zM1137.86 1433.4h8.07v23.15h-8.07zM904.8 1456.5h7.68v23.15h-7.68zM949.97 1456.5h7.68v23.15h-7.68zM1041.17 1456.5h7.43v23.15h-7.43zM1281.88 1456.5h7.94v23.15h-7.94zM1349.8 1456.5h7.68v23.15h-7.68zM1125.14 1479.6h5.14v23.15h-5.14zM1168.02 1479.6h7.3v23.15h-7.3zM1191.17 1479.6h7.68v23.15h-7.68zM1025.9 1502.7h8.07v23.15h-8.07zM1056.06 1502.7h7.81v23.15h-7.81zM1086.72 1502.7h7.3v23.15h-7.3zM995.77 1525.8h7.68v23.15h-7.68zM1018.27 1525.8h7.68v23.15h-7.68zM1191.17 1525.8h7.68v23.15h-7.68zM1312.02 1525.8h7.05v23.15h-7.05zM1326.9 1525.8h8.07v23.15h-8.07zM1365.07 1525.8h8.07v23.15h-8.07z"/>
<path fill="#eeeeff" d="M912.44 1156.2h7.68v23.15h-7.68zM1018.27 1156.2h15.7v23.15h-15.7zM1274.12 1156.2h7.81v23.15h-7.81zM1025.9 1179.3h8.07v23.15h-8.07zM1041.17 1179.3h7.43v23.15h-7.43zM1086.72 1179.3h7.3v23.15h-7.3zM1137.86 1179.3h23.08v23.15h-23.08zM1213.44 1179.3h7.68v23.15h-7.68zM1281.88 1179.3h7.94v23.15h-7.94zM1365.07 1179.3h23.33v23.15h-23.33zM859.5 1202.4h7.44v23.15h-7.44zM935.08 1202.4h7.68v23.15h-7.68zM949.97 1202.4h7.68v23.15h-7.68zM1010.64 1202.4h7.68v23.15h-7.68zM1025.9 1202.4h8.07v23.15h-8.07zM1093.97 1202.4h7.43v23.15h-7.43zM1213.44 1202.4h7.68v23.15h-7.68zM1236.34 1202.4h7.43v23.15h-7.43zM1251.6 1202.4h8.07v23.15h-8.07zM1342.55 1202.4h7.3v23.15h-7.3zM1357.44 1202.4h7.68v23.15h-7.68zM965.23 1225.5h7.68v23.15h-7.68zM1109.24 1225.5h7.94v23.15h-7.94zM1160.89 1225.5h7.17v23.15h-7.17zM1342.55 1225.5h14.94v23.15h-14.94zM942.72 1248.6h7.3v23.15h-7.3zM1221.07 1248.6h8.07v23.15h-8.07zM874.27 1271.7h7.94v23.15h-7.94zM987.88 1271.7h7.94v23.15h-7.94zM1213.44 1271.7h7.68v23.15h-7.68zM1229.08 1271.7h7.3v23.15h-7.3zM1243.72 1271.7h7.94v23.15h-7.94zM1259.62 1271.7h7.05v23.15h-7.05zM1274.12 1271.7h7.81v23.15h-7.81zM1349.8 1271.7h7.68v23.15h-7.68zM1365.07 1271.7h8.07v23.15h-8.07zM866.89 1294.8h7.43v23.15h-7.43zM904.8 1294.8h7.68v23.15h-7.68zM1003.4 1294.8h7.28v23.15h-7.28zM1079.08 1294.8h7.68v23.15h-7.68zM1334.92 1294.8h7.68v23.15h-7.68zM927.45 1317.9h7.68v23.15h-7.68zM995.77 1317.9h7.68v23.15h-7.68zM1010.64 1317.9h15.32v23.15h-15.32zM1033.92 1317.9h7.3v23.15h-7.3zM1117.12 1317.9h8.07v23.15h-8.07zM1160.89 1317.9h7.17v23.15h-7.17zM1296.9 1317.9h7.56v23.15h-7.56zM859.5 1341h7.44v23.15h-7.44zM912.44 1341h7.68v23.15h-7.68zM935.08 1341h7.68v23.15h-7.68zM1010.64 1341h15.32v23.15h-15.32zM1033.92 1341h7.3v23.15h-7.3zM1056.06 1341h7.81v23.15h-7.81zM1109.24 1341h7.94v23.15h-7.94zM1251.6 1341h8.07v23.15h-8.07zM1365.07 1341h8.07v23.15h-8.07zM859.5 1364.1h7.44v23.15h-7.44zM874.27 1364.1h7.94v23.15h-7.94zM979.87 1364.1h8.07v23.15h-8.07zM1018.27 1364.1h7.68v23.15h-7.68zM1153.13 1364.1h7.81v23.15h-7.81zM1198.8 1364.1h7.3v23.15h-7.3zM1213.44 1364.1h7.68v23.15h-7.68zM1357.44 1364.1h7.68v23.15h-7.68zM874.27 1387.2h7.94v23.15h-7.94zM949.97 1387.2h7.68v23.15h-7.68zM972.87 1387.2h7.05v23.15h-7.05zM1117.12 1387.2h8.07v23.15h-8.07zM1130.23 1387.2h7.68v23.15h-7.68zM1175.27 1387.2h7.94v23.15h-7.94zM1048.55 1410.3h15.32v23.15h-15.32zM1125.14 1410.3h5.14v23.15h-5.14zM1160.89 1410.3h7.17v23.15h-7.17zM1229.08 1410.3h7.3v23.15h-7.3zM1243.72 1410.3h15.95v23.15h-15.95zM1319.02 1410.3h15.95v23.15h-15.95zM912.44 1456.5h7.68v23.15h-7.68zM927.45 1456.5h22.57v23.15h-22.57zM1056.06 1456.5h7.81v23.15h-7.81zM1079.08 1456.5h7.68v23.15h-7.68zM1125.14 1456.5h5.14v23.15h-5.14zM1221.07 1456.5h8.07v23.15h-8.07zM1251.6 1456.5h8.07v23.15h-8.07zM1296.9 1456.5h7.56v23.15h-7.56zM1056.06 1479.6h7.81v23.15h-7.81zM1221.07 1479.6h8.07v23.15h-8.07zM1236.34 1479.6h7.43v23.15h-7.43zM1251.6 1479.6h8.07v23.15h-8.07zM1281.88 1479.6h7.94v23.15h-7.94zM1342.55 1479.6h7.3v23.15h-7.3zM874.27 1502.7h7.94v23.15h-7.94zM935.08 1502.7h7.68v23.15h-7.68zM1137.86 1502.7h15.32v23.15h-15.32zM1168.02 1502.7h7.3v23.15h-7.3zM1281.88 1502.7h7.94v23.15h-7.94zM1296.9 1502.7h7.56v23.15h-7.56zM1334.92 1502.7h7.68v23.15h-7.68zM920.07 1525.8h7.43v23.15h-7.43zM1048.55 1525.8h7.56v23.15h-7.56zM1125.14 1525.8h5.14v23.15h-5.14zM1153.13 1525.8h7.81v23.15h-7.81zM1259.62 1525.8h7.05v23.15h-7.05zM1304.4 1525.8h7.67v23.15h-7.67zM1349.8 1525.8h15.32v23.15h-15.32z"/>
<path fill="#d0d0ff" d="M866.89 1156.2h7.43v23.15h-7.43zM1041.17 1156.2h7.43v23.15h-7.43zM1130.23 1156.2h7.68v23.15h-7.68zM1160.89 1156.2h7.17v23.15h-7.17zM1191.17 1156.2h7.68v23.15h-7.68zM1251.6 1156.2h8.07v23.15h-8.07zM1266.62 1156.2h7.56v23.15h-7.56zM1289.77 1156.2h7.17v23.15h-7.17zM1357.44 1156.2h7.68v23.15h-7.68zM1373.09 1156.2h7.05v23.15h-7.05zM874.27 1179.3h7.94v23.15h-7.94zM889.92 1179.3h7.3v23.15h-7.3zM972.87 1179.3h7.05v23.15h-7.05zM1048.55 1179.3h7.56v23.15h-7.56zM1079.08 1179.3h7.68v23.15h-7.68zM1093.97 1179.3h7.43v23.15h-7.43zM1168.02 1179.3h7.3v23.15h-7.3zM1274.12 1179.3h7.81v23.15h-7.81zM1334.92 1179.3h7.68v23.15h-7.68zM1018.27 1202.4h7.68v23.15h-7.68zM1137.86 1202.4h8.07v23.15h-8.07zM1117.12 1225.5h13.15v23.15h-13.15zM1137.86 1225.5h8.07v23.15h-8.07zM1229.08 1225.5h7.3v23.15h-7.3zM1130.23 1248.6h7.68v23.15h-7.68zM1175.27 1248.6h7.94v23.15h-7.94zM1251.6 1248.6h8.07v23.15h-8.07zM1289.77 1248.6h7.17v23.15h-7.17zM1033.92 1271.7h14.68v23.15h-14.68zM1063.82 1271.7h7.56v23.15h-7.56zM1183.16 1271.7h8.07v23.15h-8.07zM1236.34 1271.7h7.43v23.15h-7.43zM1251.6 1271.7h8.07v23.15h-8.07zM1281.88 1271.7h7.94v23.15h-7.94zM1357.44 1271.7h7.68v23.15h-7.68zM942.72 1294.8h7.3v23.15h-7.3zM965.23 1294.8h7.68v23.15h-7.68zM1010.64 1294.8h7.68v23.15h-7.68zM1130.23 1294.8h7.68v23.15h-7.68zM1175.27 1294.8h7.94v23.15h-7.94zM1259.62 1294.8h7.05v23.15h-7.05zM1168.02 1317.9h7.3v23.15h-7.3zM1259.62 1317.9h7.05v23.15h-7.05zM942.72 1341h7.3v23.15h-7.3zM1048.55 1341h7.56v23.15h-7.56zM1145.88 1341h7.3v23.15h-7.3zM1010.64 1364.1h7.68v23.15h-7.68zM1079.08 1364.1h7.68v23.15h-7.68zM1130.23 1364.1h7.68v23.15h-7.68zM1274.12 1364.1h7.81v23.15h-7.81zM1373.09 1364.1h7.05v23.15h-7.05zM995.77 1387.2h7.68v23.15h-7.68zM1041.17 1387.2h7.43v23.15h-7.43zM1101.35 1387.2h7.94v23.15h-7.94zM1191.17 1387.2h7.68v23.15h-7.68zM1213.44 1387.2h7.68v23.15h-7.68zM1326.9 1387.2h8.07v23.15h-8.07zM1365.07 1387.2h8.07v23.15h-8.07zM1130.23 1410.3h7.68v23.15h-7.68zM1175.27 1410.3h7.94v23.15h-7.94zM1281.88 1410.3h7.94v23.15h-7.94zM1312.02 1410.3h7.05v23.15h-7.05zM1357.44 1410.3h7.68v23.15h-7.68zM949.97 1433.4h7.68v23.15h-7.68zM1010.64 1433.4h7.68v23.15h-7.68zM1243.72 1433.4h7.94v23.15h-7.94zM859.5 1456.5h7.44v23.15h-7.44zM882.16 1456.5h7.81v23.15h-7.81zM920.07 1456.5h7.43v23.15h-7.43zM987.88 1456.5h7.94v23.15h-7.94zM1033.92 1456.5h7.3v23.15h-7.3zM1063.82 1456.5h7.56v23.15h-7.56zM1206.06 1456.5h7.43v23.15h-7.43zM1243.72 1456.5h7.94v23.15h-7.94zM1304.4 1456.5h7.67v23.15h-7.67zM1334.92 1456.5h7.68v23.15h-7.68zM1357.44 1456.5h7.68v23.15h-7.68zM1373.09 1456.5h7.05v23.15h-7.05zM912.44 1479.6h7.68v23.15h-7.68zM987.88 1479.6h7.94v23.15h-7.94zM882.16 1502.7h7.81v23.15h-7.81zM927.45 1502.7h7.68v23.15h-7.68zM949.97 1502.7h7.68v23.15h-7.68zM1109.24 1502.7h7.94v23.15h-7.94zM1153.13 1502.7h7.81v23.15h-7.81zM1198.8 1502.7h14.68v23.15h-14.68zM1365.07 1502.7h8.07v23.15h-8.07zM1033.92 1525.8h7.3v23.15h-7.3zM1213.44 1525.8h7.68v23.15h-7.68zM1266.62 1525.8h7.56v23.15h-7.56zM1342.55 1525.8h7.3v23.15h-7.3z"/>
<path fill="#b0b0ff" d="M874.27 1156.2h7.94v23.15h-7.94zM927.45 1156.2h7.68v23.15h-7.68zM1221.07 1156.2h8.07v23.15h-8.07zM1281.88 1156.2h7.94v23.15h-7.94zM1326.9 1156.2h8.07v23.15h-8.07zM897.17 1179.3h7.68v23.15h-7.68zM949.97 1179.3h7.68v23.15h-7.68zM1130.23 1179.3h7.68v23.15h-7.68zM1183.16 1179.3h8.07v23.15h-8.07zM1229.08 1179.3h7.3v23.15h-7.3zM1243.72 1179.3h7.94v23.15h-7.94zM1296.9 1179.3h7.56v23.15h-7.56zM1319.02 1179.3h15.95v23.15h-15.95zM1349.8 1179.3h15.32v23.15h-15.32zM942.72 1202.4h7.3v23.15h-7.3zM995.77 1202.4h7.68v23.15h-7.68zM1117.12 1202.4h8.07v23.15h-8.07zM1206.06 1202.4h7.43v23.15h-7.43zM1130.23 1225.5h7.68v23.15h-7.68zM1259.62 1225.5h7.05v23.15h-7.05zM1289.77 1225.5h7.17v23.15h-7.17zM1334.92 1225.5h7.68v23.15h-7.68zM866.89 1248.6h7.43v23.15h-7.43zM904.8 1248.6h7.68v23.15h-7.68zM987.88 1248.6h7.94v23.15h-7.94zM1137.86 1248.6h8.07v23.15h-8.07zM912.44 1271.7h7.68v23.15h-7.68zM1198.8 1271.7h7.3v23.15h-7.3zM882.16 1294.8h7.81v23.15h-7.81zM935.08 1294.8h7.68v23.15h-7.68zM972.87 1294.8h7.05v23.15h-7.05zM1153.13 1294.8h7.81v23.15h-7.81zM1236.34 1294.8h7.43v23.15h-7.43zM1251.6 1294.8h8.07v23.15h-8.07zM1266.62 1294.8h7.56v23.15h-7.56zM874.27 1317.9h7.94v23.15h-7.94zM1213.44 1317.9h7.68v23.15h-7.68zM874.27 1341h7.94v23.15h-7.94zM1125.14 1341h5.14v23.15h-5.14zM1137.86 1341h8.07v23.15h-8.07zM1175.27 1341h7.94v23.15h-7.94zM866.89 1364.1h7.43v23.15h-7.43zM1243.72 1364.1h22.95v23.15h-22.95zM1349.8 1364.1h7.68v23.15h-7.68zM1365.07 1364.1h8.07v23.15h-8.07zM927.45 1387.2h7.68v23.15h-7.68zM1003.4 1387.2h7.28v23.15h-7.28zM1109.24 1387.2h7.94v23.15h-7.94zM1236.34 1387.2h15.32v23.15h-15.32zM1281.88 1387.2h7.94v23.15h-7.94zM1342.55 1387.2h7.3v23.15h-7.3zM935.08 1410.3h7.68v23.15h-7.68zM979.87 1410.3h8.07v23.15h-8.07zM1025.9 1410.3h8.07v23.15h-8.07zM1198.8 1410.3h7.3v23.15h-7.3zM912.44 1433.4h15.06v23.15h-15.06zM1003.4 1433.4h7.28v23.15h-7.28zM1041.17 1433.4h7.43v23.15h-7.43zM1093.97 1433.4h7.43v23.15h-7.43zM1213.44 1433.4h7.68v23.15h-7.68zM1342.55 1433.4h7.3v23.15h-7.3zM866.89 1456.5h7.43v23.15h-7.43zM889.92 1456.5h7.3v23.15h-7.3zM1018.27 1456.5h7.68v23.15h-7.68zM1183.16 1456.5h8.07v23.15h-8.07zM1289.77 1456.5h7.17v23.15h-7.17zM1380.08 1456.5h8.32v23.15h-8.32zM957.6 1479.6h7.68v23.15h-7.68zM1063.82 1479.6h7.56v23.15h-7.56zM1153.13 1479.6h7.81v23.15h-7.81zM1274.12 1479.6h7.81v23.15h-7.81zM1373.09 1479.6h7.05v23.15h-7.05zM942.72 1502.7h7.3v23.15h-7.3zM1093.97 1502.7h7.43v23.15h-7.43zM874.27 1525.8h7.94v23.15h-7.94zM889.92 1525.8h22.57v23.15h-22.57zM987.88 1525.8h7.94v23.15h-7.94zM1025.9 1525.8h8.07v23.15h-8.07zM1071.32 1525.8h7.81v23.15h-7.81zM1198.8 1525.8h7.3v23.15h-7.3zM1243.72 1525.8h7.94v23.15h-7.94z"/>
<path fill="#9090ff" d="M889.92 1156.2h7.3v23.15h-7.3zM920.07 1156.2h7.43v23.15h-7.43zM1033.92 1156.2h7.3v23.15h-7.3zM1071.32 1156.2h7.81v23.15h-7.81zM882.16 1179.3h7.81v23.15h-7.81zM904.8 1179.3h7.68v23.15h-7.68zM942.72 1179.3h7.3v23.15h-7.3zM965.23 1179.3h7.68v23.15h-7.68zM1018.27 1179.3h7.68v23.15h-7.68zM1125.14 1179.3h5.14v23.15h-5.14zM1259.62 1179.3h7.05v23.15h-7.05zM1304.4 1179.3h7.67v23.15h-7.67zM920.07 1202.4h7.43v23.15h-7.43zM987.88 1202.4h7.94v23.15h-7.94zM1041.17 1202.4h7.43v23.15h-7.43zM1145.88 1202.4h7.3v23.15h-7.3zM1334.92 1202.4h7.68v23.15h-7.68zM904.8 1225.5h7.68v23.15h-7.68zM1153.13 1225.5h7.81v23.15h-7.81zM1236.34 1225.5h7.43v23.15h-7.43zM1251.6 1225.5h8.07v23.15h-8.07zM995.77 1248.6h7.68v23.15h-7.68zM1236.34 1248.6h7.43v23.15h-7.43zM1266.62 1248.6h7.56v23.15h-7.56zM920.07 1271.7h7.43v23.15h-7.43zM1125.14 1271.7h5.14v23.15h-5.14zM1137.86 1271.7h8.07v23.15h-8.07zM1296.9 1271.7h7.56v23.15h-7.56zM1312.02 1271.7h7.05v23.15h-7.05zM1018.27 1294.8h7.68v23.15h-7.68zM1041.17 1294.8h7.43v23.15h-7.43zM1191.17 1294.8h7.68v23.15h-7.68zM1312.02 1294.8h7.05v23.15h-7.05zM1349.8 1294.8h7.68v23.15h-7.68zM1365.07 1294.8h8.07v23.15h-8.07zM1063.82 1317.9h7.56v23.15h-7.56zM1229.08 1317.9h7.3v23.15h-7.3zM1274.12 1317.9h7.81v23.15h-7.81zM965.23 1341h7.68v23.15h-7.68zM1153.13 1341h7.81v23.15h-7.81zM1183.16 1341h8.07v23.15h-8.07zM1198.8 1341h7.3v23.15h-7.3zM1236.34 1341h7.43v23.15h-7.43zM1319.02 1341h7.94v23.15h-7.94zM1349.8 1341h7.68v23.15h-7.68zM1010.64 1387.2h15.32v23.15h-15.32zM1048.55 1387.2h7.56v23.15h-7.56zM1086.72 1387.2h7.3v23.15h-7.3zM1229.08 1387.2h7.3v23.15h-7.3zM1236.34 1410.3h7.43v23.15h-7.43zM874.27 1433.4h7.94v23.15h-7.94zM942.72 1433.4h7.3v23.15h-7.3zM965.23 1433.4h7.68v23.15h-7.68zM1033.92 1433.4h7.3v23.15h-7.3zM1101.35 1433.4h7.94v23.15h-7.94zM1236.34 1433.4h7.43v23.15h-7.43zM1304.4 1433.4h14.66v23.15h-14.66zM1349.8 1433.4h7.68v23.15h-7.68zM972.87 1456.5h15.06v23.15h-15.06zM1003.4 1456.5h7.28v23.15h-7.28zM1048.55 1456.5h7.56v23.15h-7.56zM1071.32 1456.5h7.81v23.15h-7.81zM1117.12 1456.5h8.07v23.15h-8.07zM1153.13 1456.5h7.81v23.15h-7.81zM1266.62 1456.5h15.32v23.15h-15.32zM1365.07 1456.5h8.07v23.15h-8.07zM1003.4 1479.6h7.28v23.15h-7.28zM1183.16 1479.6h8.07v23.15h-8.07zM1259.62 1479.6h7.05v23.15h-7.05zM904.8 1502.7h7.68v23.15h-7.68zM979.87 1502.7h8.07v23.15h-8.07zM1010.64 1502.7h7.68v23.15h-7.68zM1033.92 1502.7h7.3v23.15h-7.3zM1071.32 1502.7h7.81v23.15h-7.81zM1130.23 1502.7h7.68v23.15h-7.68zM1236.34 1502.7h7.43v23.15h-7.43zM1259.62 1502.7h14.55v23.15h-14.55zM1380.08 1502.7h8.32v23.15h-8.32zM972.87 1525.8h15.06v23.15h-15.06zM1206.06 1525.8h7.43v23.15h-7.43zM1380.08 1525.8h8.32v23.15h-8.32z"/>
<path fill="#7070ff" d="M1168.02 1156.2h7.3v23.15h-7.3zM957.6 1179.3h7.68v23.15h-7.68zM987.88 1179.3h7.94v23.15h-7.94zM1175.27 1179.3h7.94v23.15h-7.94zM1198.8 1179.3h7.3v23.15h-7.3zM957.6 1202.4h7.68v23.15h-7.68zM1266.62 1202.4h7.56v23.15h-7.56zM882.16 1225.5h7.81v23.15h-7.81zM935.08 1225.5h14.94v23.15h-14.94zM1041.17 1225.5h22.7v23.15h-22.7zM1175.27 1225.5h7.94v23.15h-7.94zM1206.06 1225.5h7.43v23.15h-7.43zM1281.88 1225.5h7.94v23.15h-7.94zM1326.9 1225.5h8.07v23.15h-8.07zM1373.09 1225.5h7.05v23.15h-7.05zM912.44 1248.6h7.68v23.15h-7.68zM1003.4 1248.6h7.28v23.15h-7.28zM1033.92 1248.6h7.3v23.15h-7.3zM1079.08 1248.6h7.68v23.15h-7.68zM1093.97 1248.6h7.43v23.15h-7.43zM1109.24 1248.6h7.94v23.15h-7.94zM1153.13 1248.6h7.81v23.15h-7.81zM1206.06 1248.6h7.43v23.15h-7.43zM859.5 1271.7h7.44v23.15h-7.44zM904.8 1271.7h7.68v23.15h-7.68zM942.72 1271.7h7.3v23.15h-7.3zM995.77 1271.7h7.68v23.15h-7.68zM1289.77 1271.7h7.17v23.15h-7.17zM1056.06 1294.8h7.81v23.15h-7.81zM1071.32 1294.8h7.81v23.15h-7.81zM1213.44 1294.8h7.68v23.15h-7.68zM859.5 1317.9h7.44v23.15h-7.44zM1198.8 1317.9h7.3v23.15h-7.3zM1281.88 1317.9h7.94v23.15h-7.94zM1213.44 1341h7.68v23.15h-7.68zM927.45 1364.1h7.68v23.15h-7.68zM942.72 1364.1h7.3v23.15h-7.3zM1296.9 1387.2h7.56v23.15h-7.56zM1357.44 1387.2h7.68v23.15h-7.68zM897.17 1410.3h15.32v23.15h-15.32zM965.23 1410.3h7.68v23.15h-7.68zM1137.86 1410.3h8.07v23.15h-8.07zM1168.02 1410.3h7.3v23.15h-7.3zM987.88 1433.4h7.94v23.15h-7.94zM1071.32 1433.4h7.81v23.15h-7.81zM1125.14 1433.4h5.14v23.15h-5.14zM1168.02 1433.4h7.3v23.15h-7.3zM1229.08 1433.4h7.3v23.15h-7.3zM1326.9 1433.4h8.07v23.15h-8.07zM1025.9 1456.5h8.07v23.15h-8.07zM1101.35 1456.5h7.94v23.15h-7.94zM1101.35 1479.6h7.94v23.15h-7.94zM1198.8 1479.6h7.3v23.15h-7.3zM1334.92 1479.6h7.68v23.15h-7.68zM1357.44 1479.6h7.68v23.15h-7.68zM859.5 1502.7h14.82v23.15h-14.82zM912.44 1502.7h15.06v23.15h-15.06zM957.6 1502.7h7.68v23.15h-7.68zM1229.08 1502.7h7.3v23.15h-7.3zM1251.6 1502.7h8.07v23.15h-8.07zM1274.12 1502.7h7.81v23.15h-7.81zM1063.82 1525.8h7.56v23.15h-7.56zM1373.09 1525.8h7.05v23.15h-7.05z"/>
<path fill="#5050ff" d="M904.8 1156.2h7.68v23.15h-7.68zM1101.35 1156.2h7.94v23.15h-7.94zM1312.02 1179.3h7.05v23.15h-7.05zM912.44 1202.4h7.68v23.15h-7.68zM972.87 1202.4h7.05v23.15h-7.05zM1160.89 1202.4h7.17v23.15h-7.17zM912.44 1225.5h7.68v23.15h-7.68zM957.6 1225.5h7.68v23.15h-7.68zM859.5 1248.6h7.44v23.15h-7.44zM1010.64 1248.6h7.68v23.15h-7.68zM1125.14 1248.6h5.14v23.15h-5.14zM1259.62 1248.6h7.05v23.15h-7.05zM866.89 1271.7h7.43v23.15h-7.43zM897.17 1271.7h7.68v23.15h-7.68zM979.87 1271.7h8.07v23.15h-8.07zM1048.55 1271.7h15.32v23.15h-15.32zM1175.27 1271.7h7.94v23.15h-7.94zM859.5 1294.8h7.44v23.15h-7.44zM927.45 1294.8h7.68v23.15h-7.68zM1160.89 1294.8h7.17v23.15h-7.17zM1357.44 1294.8h7.68v23.15h-7.68zM972.87 1341h7.05v23.15h-7.05zM1025.9 1341h8.07v23.15h-8.07zM1003.4 1364.1h7.28v23.15h-7.28zM1125.14 1364.1h5.14v23.15h-5.14zM1191.17 1364.1h7.68v23.15h-7.68zM1236.34 1364.1h7.43v23.15h-7.43zM1319.02 1364.1h7.94v23.15h-7.94zM1168.02 1387.2h7.3v23.15h-7.3zM1191.17 1410.3h7.68v23.15h-7.68zM1213.44 1410.3h7.68v23.15h-7.68zM1342.55 1410.3h7.3v23.15h-7.3zM1109.24 1433.4h15.95v23.15h-15.95zM1183.16 1433.4h15.7v23.15h-15.7zM1281.88 1433.4h7.94v23.15h-7.94zM1086.72 1456.5h14.68v23.15h-14.68zM1168.02 1456.5h7.3v23.15h-7.3zM866.89 1479.6h7.43v23.15h-7.43zM927.45 1479.6h7.68v23.15h-7.68zM942.72 1479.6h7.3v23.15h-7.3zM1093.97 1479.6h7.43v23.15h-7.43zM1160.89 1479.6h7.17v23.15h-7.17zM1304.4 1479.6h7.67v23.15h-7.67zM1380.08 1479.6h8.32v23.15h-8.32zM1160.89 1502.7h7.17v23.15h-7.17zM1213.44 1502.7h7.68v23.15h-7.68zM1349.8 1502.7h7.68v23.15h-7.68zM1003.4 1525.8h7.28v23.15h-7.28zM1130.23 1525.8h7.68v23.15h-7.68zM1221.07 1525.8h8.07v23.15h-8.07zM1334.92 1525.8h7.68v23.15h-7.68z"/>
<path fill="#3030ff" d="M949.97 1156.2h7.68v23.15h-7.68zM1137.86 1156.2h15.32v23.15h-15.32zM995.77 1179.3h7.68v23.15h-7.68zM1071.32 1202.4h7.81v23.15h-7.81zM1086.72 1202.4h7.3v23.15h-7.3zM1373.09 1202.4h7.05v23.15h-7.05zM1079.08 1225.5h7.68v23.15h-7.68zM1018.27 1248.6h7.68v23.15h-7.68zM1357.44 1248.6h7.68v23.15h-7.68zM1145.88 1271.7h7.3v23.15h-7.3zM1160.89 1271.7h7.17v23.15h-7.17zM1033.92 1294.8h7.3v23.15h-7.3zM1117.12 1294.8h8.07v23.15h-8.07zM1312.02 1317.9h7.05v23.15h-7.05zM1160.89 1341h7.17v23.15h-7.17zM1229.08 1341h7.3v23.15h-7.3zM1312.02 1341h7.05v23.15h-7.05zM1326.9 1341h8.07v23.15h-8.07zM1357.44 1341h7.68v23.15h-7.68zM912.44 1364.1h7.68v23.15h-7.68zM859.5 1387.2h14.82v23.15h-14.82zM1093.97 1387.2h7.43v23.15h-7.43zM949.97 1410.3h7.68v23.15h-7.68zM1289.77 1433.4h7.17v23.15h-7.17zM957.6 1456.5h7.68v23.15h-7.68zM1160.89 1456.5h7.17v23.15h-7.17zM1071.32 1479.6h7.81v23.15h-7.81zM1109.24 1479.6h7.94v23.15h-7.94zM949.97 1525.8h7.68v23.15h-7.68zM1086.72 1525.8h7.3v23.15h-7.3zM1145.88 1525.8h7.3v23.15h-7.3zM1168.02 1525.8h7.3v23.15h-7.3zM1274.12 1525.8h7.81v23.15h-7.81zM1296.9 1525.8h7.56v23.15h-7.56z"/>
<path fill="#1010ff" d="M965.23 1156.2h7.68v23.15h-7.68zM1056.06 1156.2h7.81v23.15h-7.81zM1153.13 1156.2h7.81v23.15h-7.81zM1304.4 1156.2h7.67v23.15h-7.67zM1033.92 1202.4h7.3v23.15h-7.3zM1063.82 1202.4h7.56v23.15h-7.56zM1079.08 1202.4h7.68v23.15h-7.68zM1109.24 1202.4h7.94v23.15h-7.94zM866.89 1225.5h7.43v23.15h-7.43zM1145.88 1225.5h7.3v23.15h-7.3zM1056.06 1248.6h7.81v23.15h-7.81zM1213.44 1248.6h7.68v23.15h-7.68zM1304.4 1248.6h7.67v23.15h-7.67zM1266.62 1271.7h7.56v23.15h-7.56zM1342.55 1271.7h7.3v23.15h-7.3zM920.07 1294.8h7.43v23.15h-7.43zM1048.55 1294.8h7.56v23.15h-7.56zM1236.34 1317.9h7.43v23.15h-7.43zM1071.32 1341h7.81v23.15h-7.81zM1243.72 1341h7.94v23.15h-7.94zM1033.92 1364.1h7.3v23.15h-7.3zM1229.08 1364.1h7.3v23.15h-7.3zM957.6 1387.2h7.68v23.15h-7.68zM1312.02 1387.2h7.05v23.15h-7.05zM1086.72 1410.3h7.3v23.15h-7.3zM1274.12 1410.3h7.81v23.15h-7.81zM1296.9 1410.3h7.56v23.15h-7.56zM1319.02 1433.4h7.94v23.15h-7.94zM935.08 1479.6h7.68v23.15h-7.68zM1125.14 1502.7h5.14v23.15h-5.14zM957.6 1525.8h7.68v23.15h-7.68zM1183.16 1525.8h8.07v23.15h-8.07z"/>
<path fill="#0000ff" d="M979.87 1156.2h8.07v23.15h-8.07zM1243.72 1156.2h7.94v23.15h-7.94zM904.8 1202.4h7.68v23.15h-7.68zM1056.06 1202.4h7.81v23.15h-7.81zM1289.77 1202.4h7.17v23.15h-7.17zM927.45 1225.5h7.68v23.15h-7.68zM1191.17 1225.5h7.68v23.15h-7.68zM1160.89 1248.6h7.17v23.15h-7.17zM1365.07 1248.6h8.07v23.15h-8.07zM1130.23 1271.7h7.68v23.15h-7.68zM1342.55 1294.8h7.3v23.15h-7.3zM1071.32 1317.9h7.81v23.15h-7.81zM1125.14 1317.9h5.14v23.15h-5.14zM1175.27 1317.9h15.95v23.15h-15.95zM1289.77 1317.9h7.17v23.15h-7.17zM1342.55 1317.9h7.3v23.15h-7.3zM1168.02 1341h7.3v23.15h-7.3zM1191.17 1341h7.68v23.15h-7.68zM1145.88 1364.1h7.3v23.15h-7.3zM1281.88 1364.1h7.94v23.15h-7.94zM1312.02 1364.1h7.05v23.15h-7.05zM1326.9 1364.1h8.07v23.15h-8.07zM1342.55 1364.1h7.3v23.15h-7.3zM979.87 1387.2h8.07v23.15h-8.07zM1033.92 1387.2h7.3v23.15h-7.3zM1056.06 1387.2h7.81v23.15h-7.81zM927.45 1410.3h7.68v23.15h-7.68zM957.6 1410.3h7.68v23.15h-7.68zM1206.06 1410.3h7.43v23.15h-7.43zM957.6 1433.4h7.68v23.15h-7.68zM1048.55 1433.4h7.56v23.15h-7.56zM1079.08 1433.4h7.68v23.15h-7.68zM882.16 1479.6h7.81v23.15h-7.81zM897.17 1479.6h7.68v23.15h-7.68zM1117.12 1479.6h8.07v23.15h-8.07zM1117.12 1502.7h8.07v23.15h-8.07z"/>
</g>
<text font-weight="bold" textLength="20" lengthAdjust="spacingAndGlyphs" font-size="10" x="1398.2" y="1152.2">Risk</text>
<text fill="#3a3a3a" font-size="10.7" x="1398.2" y="1174.3">S100Z</text>
<text fill="#3a3a3a" font-size="10.7" x="1398.2" y="1197.43">BDNF</text>
<text fill="#3a3a3a" font-size="10.7" x="1398.2" y="1220.56">PPARGC1A</text>
<text fill="#3a3a3a" font-size="10.7" x="1398.2" y="1243.69">TRAF5</text>
<text fill="#3a3a3a" font-size="10.7" x="1398.2" y="1266.82">NOXA1</text>
<text fill="#3a3a3a" font-size="10.7" x="1398.2" y="1289.95">DDIT3</text>
<text fill="#3a3a3a" font-size="10.7" x="1398.2" y="1313.08">AGER</text>
<text fill="#3a3a3a" font-size="10.7" x="1398.2" y="1336.21">VAV2</text>
<text fill="#3a3a3a" font-size="10.7" x="1398.2" y="1359.34">NMB</text>
<text fill="#3a3a3a" font-size="10.7" x="1398.2" y="1382.47">MC1R</text>
<text fill="#3a3a3a" font-size="10.7" x="1398.2" y="1405.6">TRAF2</text>
<text fill="#3a3a3a" font-size="10.7" x="1398.2" y="1428.73">CNPY3</text>
<text fill="#3a3a3a" font-size="10.7" x="1398.2" y="1451.86">CTNNB1</text>
<text fill="#3a3a3a" font-size="10.7" x="1398.2" y="1474.99">TRIM58</text>
<text fill="#3a3a3a" font-size="10.7" x="1398.2" y="1498.12">GLP2R</text>
<text fill="#3a3a3a" font-size="10.7" x="1398.2" y="1521.25">PTH1R</text>
<text fill="#3a3a3a" font-size="10.7" x="1398.2" y="1544.38">CD36</text>
<defs><linearGradient id="gh" x1="0" y1="0" x2="0" y2="1"><stop offset="0" stop-color="#f00"/><stop offset="0.343" stop-color="#f00"/><stop offset="0.500" stop-color="#fff"/><stop offset="0.656" stop-color="#00f"/><stop offset="1" stop-color="#00f"/></linearGradient></defs>
<rect x="1459.3" y="1139.2" width="13.8" height="223.7" fill="url(#gh)" />
<text fill="#222" textLength="5.26" lengthAdjust="spacingAndGlyphs" font-size="10.5" x="1479.2" y="1169.8">4</text>
<text fill="#222" textLength="5.26" lengthAdjust="spacingAndGlyphs" font-size="10.5" x="1479.2" y="1212.5">2</text>
<text fill="#222" textLength="5.26" lengthAdjust="spacingAndGlyphs" font-size="10.5" x="1479.2" y="1254.7">0</text>
<text fill="#222" textLength="10.77" lengthAdjust="spacingAndGlyphs" font-size="10.5" x="1479.2" y="1297.4">−2</text>
<text fill="#222" textLength="10.77" lengthAdjust="spacingAndGlyphs" font-size="10.5" x="1479.2" y="1339.9">−4</text>
<text textLength="26.5" lengthAdjust="spacingAndGlyphs" font-size="20" x="1488.4" y="1157.8">Risk</text>
<rect x="1488.4" y="1170.3" width="19.1" height="30" fill="#ff0000" />
<rect x="1488.4" y="1200.3" width="19.1" height="31.2" fill="#0000ff" />
<text textLength="23.8" lengthAdjust="spacingAndGlyphs" font-size="20" x="1511" y="1192.5">high</text>
<text textLength="18.6" lengthAdjust="spacingAndGlyphs" font-size="20" x="1511" y="1222">low</text>
</svg>
</body></html>
